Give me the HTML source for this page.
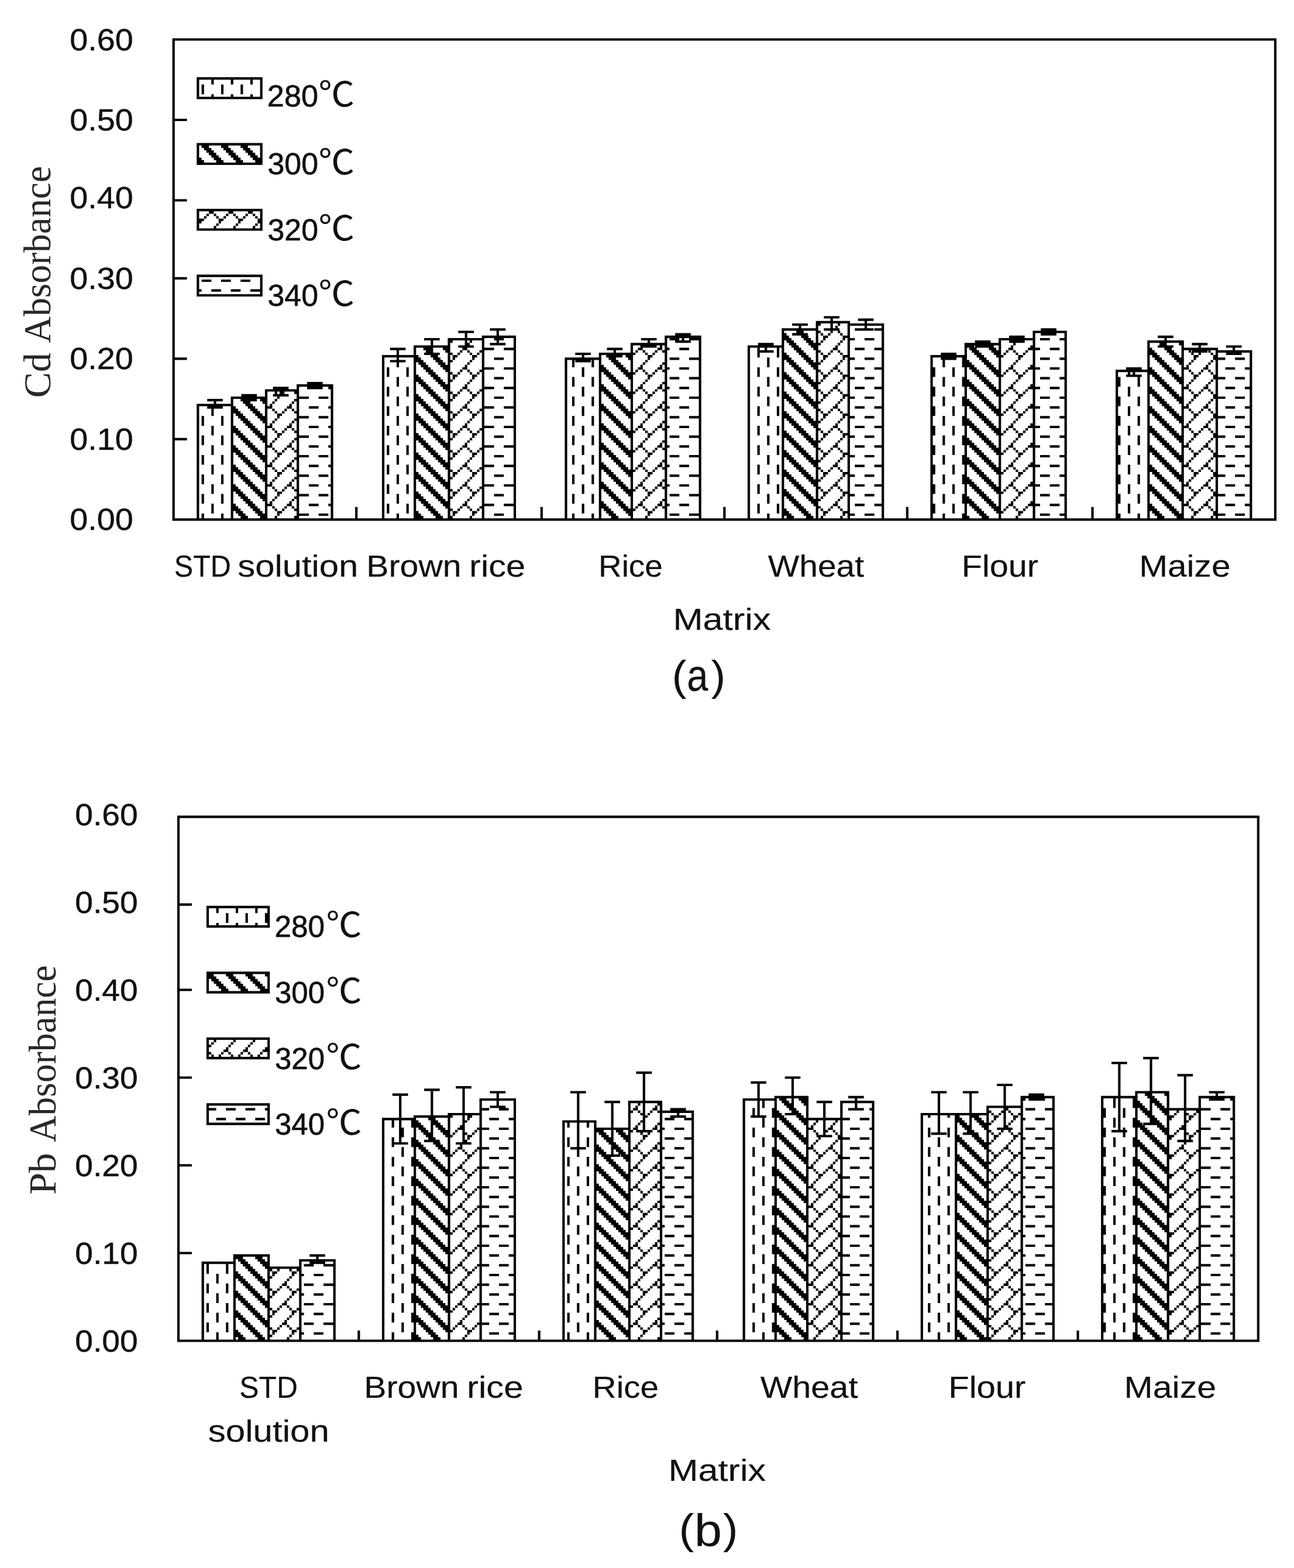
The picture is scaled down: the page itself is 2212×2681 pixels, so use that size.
<!DOCTYPE html>
<html lang="en"><head><meta charset="utf-8">
<title>Cd and Pb absorbance by matrix and pyrolysis temperature</title>
<style>html,body{margin:0;padding:0;background:#fff}body{width:2212px;height:2681px;overflow:hidden}svg{display:block}.ink{fill:#000;fill-rule:nonzero}text{white-space:pre}</style>
</head><body>
<svg width="2212" height="2681" viewBox="0 0 2212 2681">
<rect width="2212" height="2681" fill="#fff"/>
<g id="chart-a">
<path class="ink" d="M294.58 65.42h1887.5v4.17h-1887.5zM294.58 886.25h1887.5v4.17h-1887.5zM294.58 65.42h4.17v825h-4.17zM2177.92 65.42h4.17v825h-4.17zM294.58 202.92h25v4.17h-25zM294.58 340.42h25v4.17h-25zM294.58 473.75h25v4.17h-25zM294.58 611.25h25v4.17h-25zM294.58 748.75h25v4.17h-25zM607.08 866.67h4.17v19.58h-4.17zM923.75 866.67h4.17v19.58h-4.17zM1236.25 866.67h4.17v19.58h-4.17zM1548.75 866.67h4.17v19.58h-4.17zM1865.42 866.67h4.17v19.58h-4.17zM336.25 690.42h62.5v4.17h-62.5zM336.25 690.42h4.17v195.83h-4.17zM394.58 690.42h4.17v195.83h-4.17zM394.58 677.92h62.5v4.17h-62.5zM394.58 677.92h4.17v208.33h-4.17zM452.92 677.92h4.17v208.33h-4.17zM452.92 665.42h58.33v4.17h-58.33zM452.92 665.42h4.17v220.83h-4.17zM507.08 665.42h4.17v220.83h-4.17zM507.08 657.08h62.5v4.17h-62.5zM507.08 657.08h4.17v229.17h-4.17zM565.42 657.08h4.17v229.17h-4.17zM365.42 682.08h4.17v16.67h-4.17zM354.17 682.08h26.67v4.17h-26.67zM354.17 694.58h26.67v4.17h-26.67zM423.75 673.75h4.17v12.5h-4.17zM412.5 673.75h26.67v4.17h-26.67zM412.5 682.08h26.67v4.17h-26.67zM477.92 661.25h4.17v16.67h-4.17zM466.67 661.25h26.67v4.17h-26.67zM466.67 673.75h26.67v4.17h-26.67zM536.25 652.92h4.17v12.5h-4.17zM525 652.92h26.67v4.17h-26.67zM525 661.25h26.67v4.17h-26.67zM652.92 607.08h58.33v4.17h-58.33zM652.92 607.08h4.17v279.17h-4.17zM707.08 607.08h4.17v279.17h-4.17zM707.08 590.42h62.5v4.17h-62.5zM707.08 590.42h4.17v295.83h-4.17zM765.42 590.42h4.17v295.83h-4.17zM765.42 577.92h62.5v4.17h-62.5zM765.42 577.92h4.17v308.33h-4.17zM823.75 577.92h4.17v308.33h-4.17zM823.75 573.75h58.33v4.17h-58.33zM823.75 573.75h4.17v312.5h-4.17zM877.92 573.75h4.17v312.5h-4.17zM677.92 594.58h4.17v25h-4.17zM666.67 594.58h26.67v4.17h-26.67zM666.67 615.42h26.67v4.17h-26.67zM736.25 577.92h4.17v29.17h-4.17zM725 577.92h26.67v4.17h-26.67zM725 602.92h26.67v4.17h-26.67zM794.58 565.42h4.17v29.17h-4.17zM783.33 565.42h26.67v4.17h-26.67zM783.33 590.42h26.67v4.17h-26.67zM848.75 561.25h4.17v29.17h-4.17zM837.5 561.25h26.67v4.17h-26.67zM837.5 586.25h26.67v4.17h-26.67zM965.42 611.25h62.5v4.17h-62.5zM965.42 611.25h4.17v275h-4.17zM1023.75 611.25h4.17v275h-4.17zM1023.75 602.92h58.33v4.17h-58.33zM1023.75 602.92h4.17v283.33h-4.17zM1077.92 602.92h4.17v283.33h-4.17zM1077.92 586.25h62.5v4.17h-62.5zM1077.92 586.25h4.17v300h-4.17zM1136.25 586.25h4.17v300h-4.17zM1136.25 573.75h62.5v4.17h-62.5zM1136.25 573.75h4.17v312.5h-4.17zM1194.58 573.75h4.17v312.5h-4.17zM994.58 602.92h4.17v16.67h-4.17zM983.33 602.92h26.67v4.17h-26.67zM983.33 615.42h26.67v4.17h-26.67zM1048.75 594.58h4.17v16.67h-4.17zM1037.5 594.58h26.67v4.17h-26.67zM1037.5 607.08h26.67v4.17h-26.67zM1107.08 577.92h4.17v16.67h-4.17zM1095.83 577.92h26.67v4.17h-26.67zM1095.83 590.42h26.67v4.17h-26.67zM1165.42 569.58h4.17v16.67h-4.17zM1154.17 569.58h26.67v4.17h-26.67zM1154.17 582.08h26.67v4.17h-26.67zM1277.92 590.42h62.5v4.17h-62.5zM1277.92 590.42h4.17v295.83h-4.17zM1336.25 590.42h4.17v295.83h-4.17zM1336.25 561.25h62.5v4.17h-62.5zM1336.25 561.25h4.17v325h-4.17zM1394.58 561.25h4.17v325h-4.17zM1394.58 548.75h58.33v4.17h-58.33zM1394.58 548.75h4.17v337.5h-4.17zM1448.75 548.75h4.17v337.5h-4.17zM1448.75 552.92h62.5v4.17h-62.5zM1448.75 552.92h4.17v333.33h-4.17zM1507.08 552.92h4.17v333.33h-4.17zM1307.08 586.25h4.17v16.67h-4.17zM1295.83 586.25h26.67v4.17h-26.67zM1295.83 598.75h26.67v4.17h-26.67zM1365.42 552.92h4.17v20.83h-4.17zM1354.17 552.92h26.67v4.17h-26.67zM1354.17 569.58h26.67v4.17h-26.67zM1419.58 540.42h4.17v25h-4.17zM1408.33 540.42h26.67v4.17h-26.67zM1408.33 561.25h26.67v4.17h-26.67zM1477.92 544.58h4.17v20.83h-4.17zM1466.67 544.58h26.67v4.17h-26.67zM1466.67 561.25h26.67v4.17h-26.67zM1590.42 607.08h62.5v4.17h-62.5zM1590.42 607.08h4.17v279.17h-4.17zM1648.75 607.08h4.17v279.17h-4.17zM1648.75 586.25h62.5v4.17h-62.5zM1648.75 586.25h4.17v300h-4.17zM1707.08 586.25h4.17v300h-4.17zM1707.08 577.92h62.5v4.17h-62.5zM1707.08 577.92h4.17v308.33h-4.17zM1765.42 577.92h4.17v308.33h-4.17zM1765.42 565.42h58.33v4.17h-58.33zM1765.42 565.42h4.17v320.83h-4.17zM1819.58 565.42h4.17v320.83h-4.17zM1619.58 602.92h4.17v12.5h-4.17zM1608.33 602.92h26.67v4.17h-26.67zM1608.33 611.25h26.67v4.17h-26.67zM1677.92 582.08h4.17v12.5h-4.17zM1666.67 582.08h26.67v4.17h-26.67zM1666.67 590.42h26.67v4.17h-26.67zM1736.25 573.75h4.17v12.5h-4.17zM1725 573.75h26.67v4.17h-26.67zM1725 582.08h26.67v4.17h-26.67zM1790.42 561.25h4.17v12.5h-4.17zM1779.17 561.25h26.67v4.17h-26.67zM1779.17 569.58h26.67v4.17h-26.67zM1907.08 632.08h58.33v4.17h-58.33zM1907.08 632.08h4.17v254.17h-4.17zM1961.25 632.08h4.17v254.17h-4.17zM1961.25 582.08h62.5v4.17h-62.5zM1961.25 582.08h4.17v304.17h-4.17zM2019.58 582.08h4.17v304.17h-4.17zM2019.58 594.58h62.5v4.17h-62.5zM2019.58 594.58h4.17v291.67h-4.17zM2077.92 594.58h4.17v291.67h-4.17zM2077.92 598.75h62.5v4.17h-62.5zM2077.92 598.75h4.17v287.5h-4.17zM2136.25 598.75h4.17v287.5h-4.17zM1936.25 627.92h4.17v16.67h-4.17zM1925 627.92h26.67v4.17h-26.67zM1925 640.42h26.67v4.17h-26.67zM1990.42 573.75h4.17v20.83h-4.17zM1979.17 573.75h26.67v4.17h-26.67zM1979.17 590.42h26.67v4.17h-26.67zM2048.75 586.25h4.17v16.67h-4.17zM2037.5 586.25h26.67v4.17h-26.67zM2037.5 598.75h26.67v4.17h-26.67zM2107.08 590.42h4.17v16.67h-4.17zM2095.83 590.42h26.67v4.17h-26.67zM2095.83 602.92h26.67v4.17h-26.67zM336.25 132.08h112.5v4.17h-112.5zM336.25 165.42h112.5v4.17h-112.5zM336.25 132.08h4.17v37.5h-4.17zM444.58 132.08h4.17v37.5h-4.17zM336.25 244.58h112.5v4.17h-112.5zM336.25 277.92h112.5v4.17h-112.5zM336.25 244.58h4.17v37.5h-4.17zM444.58 244.58h4.17v37.5h-4.17zM336.25 357.08h112.5v4.17h-112.5zM336.25 390.42h112.5v4.17h-112.5zM336.25 357.08h4.17v37.5h-4.17zM444.58 357.08h4.17v37.5h-4.17zM336.25 469.58h112.5v4.17h-112.5zM336.25 502.92h112.5v4.17h-112.5zM336.25 469.58h4.17v37.5h-4.17zM444.58 469.58h4.17v37.5h-4.17zM344.58 711.25h4.17v16.67h-4.17zM344.58 744.58h4.17v16.67h-4.17zM344.58 777.92h4.17v16.67h-4.17zM344.58 811.25h4.17v16.67h-4.17zM344.58 844.58h4.17v16.67h-4.17zM344.58 877.92h4.17v8.33h-4.17zM361.25 694.58h4.17v16.67h-4.17zM361.25 727.92h4.17v16.67h-4.17zM361.25 761.25h4.17v16.67h-4.17zM361.25 794.58h4.17v16.67h-4.17zM361.25 827.92h4.17v16.67h-4.17zM361.25 861.25h4.17v16.67h-4.17zM377.92 711.25h4.17v16.67h-4.17zM377.92 744.58h4.17v16.67h-4.17zM377.92 777.92h4.17v16.67h-4.17zM377.92 811.25h4.17v16.67h-4.17zM377.92 844.58h4.17v16.67h-4.17zM377.92 877.92h4.17v8.33h-4.17zM411.25 682.08h12.5v4.17h-12.5zM444.58 682.08h8.33v4.17h-8.33zM415.42 686.25h12.5v4.17h-12.5zM448.75 686.25h4.17v4.17h-4.17zM419.58 690.42h12.5v4.17h-12.5zM398.75 694.58h4.17v4.17h-4.17zM423.75 694.58h12.5v4.17h-12.5zM398.75 698.75h8.33v4.17h-8.33zM427.92 698.75h12.5v4.17h-12.5zM398.75 702.92h12.5v4.17h-12.5zM432.08 702.92h12.5v4.17h-12.5zM402.92 707.08h12.5v4.17h-12.5zM436.25 707.08h12.5v4.17h-12.5zM407.08 711.25h12.5v4.17h-12.5zM440.42 711.25h12.5v4.17h-12.5zM411.25 715.42h12.5v4.17h-12.5zM444.58 715.42h8.33v4.17h-8.33zM415.42 719.58h12.5v4.17h-12.5zM448.75 719.58h4.17v4.17h-4.17zM419.58 723.75h12.5v4.17h-12.5zM398.75 727.92h4.17v4.17h-4.17zM423.75 727.92h12.5v4.17h-12.5zM398.75 732.08h8.33v4.17h-8.33zM427.92 732.08h12.5v4.17h-12.5zM398.75 736.25h12.5v4.17h-12.5zM432.08 736.25h12.5v4.17h-12.5zM402.92 740.42h12.5v4.17h-12.5zM436.25 740.42h12.5v4.17h-12.5zM407.08 744.58h12.5v4.17h-12.5zM440.42 744.58h12.5v4.17h-12.5zM411.25 748.75h12.5v4.17h-12.5zM444.58 748.75h8.33v4.17h-8.33zM415.42 752.92h12.5v4.17h-12.5zM448.75 752.92h4.17v4.17h-4.17zM419.58 757.08h12.5v4.17h-12.5zM398.75 761.25h4.17v4.17h-4.17zM423.75 761.25h12.5v4.17h-12.5zM398.75 765.42h8.33v4.17h-8.33zM427.92 765.42h12.5v4.17h-12.5zM398.75 769.58h12.5v4.17h-12.5zM432.08 769.58h12.5v4.17h-12.5zM402.92 773.75h12.5v4.17h-12.5zM436.25 773.75h12.5v4.17h-12.5zM407.08 777.92h12.5v4.17h-12.5zM440.42 777.92h12.5v4.17h-12.5zM411.25 782.08h12.5v4.17h-12.5zM444.58 782.08h8.33v4.17h-8.33zM415.42 786.25h12.5v4.17h-12.5zM448.75 786.25h4.17v4.17h-4.17zM419.58 790.42h12.5v4.17h-12.5zM398.75 794.58h4.17v4.17h-4.17zM423.75 794.58h12.5v4.17h-12.5zM398.75 798.75h8.33v4.17h-8.33zM427.92 798.75h12.5v4.17h-12.5zM398.75 802.92h12.5v4.17h-12.5zM432.08 802.92h12.5v4.17h-12.5zM402.92 807.08h12.5v4.17h-12.5zM436.25 807.08h12.5v4.17h-12.5zM407.08 811.25h12.5v4.17h-12.5zM440.42 811.25h12.5v4.17h-12.5zM411.25 815.42h12.5v4.17h-12.5zM444.58 815.42h8.33v4.17h-8.33zM415.42 819.58h12.5v4.17h-12.5zM448.75 819.58h4.17v4.17h-4.17zM419.58 823.75h12.5v4.17h-12.5zM398.75 827.92h4.17v4.17h-4.17zM423.75 827.92h12.5v4.17h-12.5zM398.75 832.08h8.33v4.17h-8.33zM427.92 832.08h12.5v4.17h-12.5zM398.75 836.25h12.5v4.17h-12.5zM432.08 836.25h12.5v4.17h-12.5zM402.92 840.42h12.5v4.17h-12.5zM436.25 840.42h12.5v4.17h-12.5zM407.08 844.58h12.5v4.17h-12.5zM440.42 844.58h12.5v4.17h-12.5zM411.25 848.75h12.5v4.17h-12.5zM444.58 848.75h8.33v4.17h-8.33zM415.42 852.92h12.5v4.17h-12.5zM448.75 852.92h4.17v4.17h-4.17zM419.58 857.08h12.5v4.17h-12.5zM398.75 861.25h4.17v4.17h-4.17zM423.75 861.25h12.5v4.17h-12.5zM398.75 865.42h8.33v4.17h-8.33zM427.92 865.42h12.5v4.17h-12.5zM398.75 869.58h12.5v4.17h-12.5zM432.08 869.58h12.5v4.17h-12.5zM402.92 873.75h12.5v4.17h-12.5zM436.25 873.75h12.5v4.17h-12.5zM407.08 877.92h12.5v4.17h-12.5zM440.42 877.92h12.5v4.17h-12.5zM411.25 882.08h12.5v4.17h-12.5zM444.58 882.08h8.33v4.17h-8.33zM469.58 669.58h4.17v4.17h-4.17zM482.08 669.58h4.17v4.17h-4.17zM502.92 669.58h4.17v4.17h-4.17zM473.75 673.75h8.33v4.17h-8.33zM473.75 677.92h4.17v4.17h-4.17zM469.58 682.08h4.17v4.17h-4.17zM502.92 682.08h4.17v4.17h-4.17zM465.42 686.25h4.17v4.17h-4.17zM498.75 686.25h4.17v4.17h-4.17zM461.25 690.42h4.17v4.17h-4.17zM494.58 690.42h4.17v4.17h-4.17zM457.08 694.58h8.33v4.17h-8.33zM490.42 694.58h8.33v4.17h-8.33zM465.42 698.75h4.17v4.17h-4.17zM486.25 698.75h4.17v4.17h-4.17zM498.75 698.75h4.17v4.17h-4.17zM469.58 702.92h4.17v4.17h-4.17zM482.08 702.92h4.17v4.17h-4.17zM502.92 702.92h4.17v4.17h-4.17zM473.75 707.08h8.33v4.17h-8.33zM473.75 711.25h4.17v4.17h-4.17zM469.58 715.42h4.17v4.17h-4.17zM502.92 715.42h4.17v4.17h-4.17zM465.42 719.58h4.17v4.17h-4.17zM498.75 719.58h4.17v4.17h-4.17zM461.25 723.75h4.17v4.17h-4.17zM494.58 723.75h4.17v4.17h-4.17zM457.08 727.92h8.33v4.17h-8.33zM490.42 727.92h8.33v4.17h-8.33zM465.42 732.08h4.17v4.17h-4.17zM486.25 732.08h4.17v4.17h-4.17zM498.75 732.08h4.17v4.17h-4.17zM469.58 736.25h4.17v4.17h-4.17zM482.08 736.25h4.17v4.17h-4.17zM502.92 736.25h4.17v4.17h-4.17zM473.75 740.42h8.33v4.17h-8.33zM473.75 744.58h4.17v4.17h-4.17zM469.58 748.75h4.17v4.17h-4.17zM502.92 748.75h4.17v4.17h-4.17zM465.42 752.92h4.17v4.17h-4.17zM498.75 752.92h4.17v4.17h-4.17zM461.25 757.08h4.17v4.17h-4.17zM494.58 757.08h4.17v4.17h-4.17zM457.08 761.25h8.33v4.17h-8.33zM490.42 761.25h8.33v4.17h-8.33zM465.42 765.42h4.17v4.17h-4.17zM486.25 765.42h4.17v4.17h-4.17zM498.75 765.42h4.17v4.17h-4.17zM469.58 769.58h4.17v4.17h-4.17zM482.08 769.58h4.17v4.17h-4.17zM502.92 769.58h4.17v4.17h-4.17zM473.75 773.75h8.33v4.17h-8.33zM473.75 777.92h4.17v4.17h-4.17zM469.58 782.08h4.17v4.17h-4.17zM502.92 782.08h4.17v4.17h-4.17zM465.42 786.25h4.17v4.17h-4.17zM498.75 786.25h4.17v4.17h-4.17zM461.25 790.42h4.17v4.17h-4.17zM494.58 790.42h4.17v4.17h-4.17zM457.08 794.58h8.33v4.17h-8.33zM490.42 794.58h8.33v4.17h-8.33zM465.42 798.75h4.17v4.17h-4.17zM486.25 798.75h4.17v4.17h-4.17zM498.75 798.75h4.17v4.17h-4.17zM469.58 802.92h4.17v4.17h-4.17zM482.08 802.92h4.17v4.17h-4.17zM502.92 802.92h4.17v4.17h-4.17zM473.75 807.08h8.33v4.17h-8.33zM473.75 811.25h4.17v4.17h-4.17zM469.58 815.42h4.17v4.17h-4.17zM502.92 815.42h4.17v4.17h-4.17zM465.42 819.58h4.17v4.17h-4.17zM498.75 819.58h4.17v4.17h-4.17zM461.25 823.75h4.17v4.17h-4.17zM494.58 823.75h4.17v4.17h-4.17zM457.08 827.92h8.33v4.17h-8.33zM490.42 827.92h8.33v4.17h-8.33zM465.42 832.08h4.17v4.17h-4.17zM486.25 832.08h4.17v4.17h-4.17zM498.75 832.08h4.17v4.17h-4.17zM469.58 836.25h4.17v4.17h-4.17zM482.08 836.25h4.17v4.17h-4.17zM502.92 836.25h4.17v4.17h-4.17zM473.75 840.42h8.33v4.17h-8.33zM473.75 844.58h4.17v4.17h-4.17zM469.58 848.75h4.17v4.17h-4.17zM502.92 848.75h4.17v4.17h-4.17zM465.42 852.92h4.17v4.17h-4.17zM498.75 852.92h4.17v4.17h-4.17zM461.25 857.08h4.17v4.17h-4.17zM494.58 857.08h4.17v4.17h-4.17zM457.08 861.25h8.33v4.17h-8.33zM490.42 861.25h8.33v4.17h-8.33zM465.42 865.42h4.17v4.17h-4.17zM486.25 865.42h4.17v4.17h-4.17zM498.75 865.42h4.17v4.17h-4.17zM469.58 869.58h4.17v4.17h-4.17zM482.08 869.58h4.17v4.17h-4.17zM502.92 869.58h4.17v4.17h-4.17zM473.75 873.75h8.33v4.17h-8.33zM473.75 877.92h4.17v4.17h-4.17zM469.58 882.08h4.17v4.17h-4.17zM502.92 882.08h4.17v4.17h-4.17zM527.92 661.25h16.67v4.17h-16.67zM561.25 661.25h4.17v4.17h-4.17zM511.25 677.92h16.67v4.17h-16.67zM544.58 677.92h16.67v4.17h-16.67zM527.92 694.58h16.67v4.17h-16.67zM561.25 694.58h4.17v4.17h-4.17zM511.25 711.25h16.67v4.17h-16.67zM544.58 711.25h16.67v4.17h-16.67zM527.92 727.92h16.67v4.17h-16.67zM561.25 727.92h4.17v4.17h-4.17zM511.25 744.58h16.67v4.17h-16.67zM544.58 744.58h16.67v4.17h-16.67zM527.92 761.25h16.67v4.17h-16.67zM561.25 761.25h4.17v4.17h-4.17zM511.25 777.92h16.67v4.17h-16.67zM544.58 777.92h16.67v4.17h-16.67zM527.92 794.58h16.67v4.17h-16.67zM561.25 794.58h4.17v4.17h-4.17zM511.25 811.25h16.67v4.17h-16.67zM544.58 811.25h16.67v4.17h-16.67zM527.92 827.92h16.67v4.17h-16.67zM561.25 827.92h4.17v4.17h-4.17zM511.25 844.58h16.67v4.17h-16.67zM544.58 844.58h16.67v4.17h-16.67zM527.92 861.25h16.67v4.17h-16.67zM561.25 861.25h4.17v4.17h-4.17zM511.25 877.92h16.67v4.17h-16.67zM544.58 877.92h16.67v4.17h-16.67zM661.25 627.92h4.17v16.67h-4.17zM661.25 661.25h4.17v16.67h-4.17zM661.25 694.58h4.17v16.67h-4.17zM661.25 727.92h4.17v16.67h-4.17zM661.25 761.25h4.17v16.67h-4.17zM661.25 794.58h4.17v16.67h-4.17zM661.25 827.92h4.17v16.67h-4.17zM661.25 861.25h4.17v16.67h-4.17zM677.92 611.25h4.17v16.67h-4.17zM677.92 644.58h4.17v16.67h-4.17zM677.92 677.92h4.17v16.67h-4.17zM677.92 711.25h4.17v16.67h-4.17zM677.92 744.58h4.17v16.67h-4.17zM677.92 777.92h4.17v16.67h-4.17zM677.92 811.25h4.17v16.67h-4.17zM677.92 844.58h4.17v16.67h-4.17zM677.92 877.92h4.17v8.33h-4.17zM694.58 627.92h4.17v16.67h-4.17zM694.58 661.25h4.17v16.67h-4.17zM694.58 694.58h4.17v16.67h-4.17zM694.58 727.92h4.17v16.67h-4.17zM694.58 761.25h4.17v16.67h-4.17zM694.58 794.58h4.17v16.67h-4.17zM694.58 827.92h4.17v16.67h-4.17zM694.58 861.25h4.17v16.67h-4.17zM723.75 594.58h12.5v4.17h-12.5zM757.08 594.58h8.33v4.17h-8.33zM727.92 598.75h12.5v4.17h-12.5zM761.25 598.75h4.17v4.17h-4.17zM732.08 602.92h12.5v4.17h-12.5zM711.25 607.08h4.17v4.17h-4.17zM736.25 607.08h12.5v4.17h-12.5zM711.25 611.25h8.33v4.17h-8.33zM740.42 611.25h12.5v4.17h-12.5zM711.25 615.42h12.5v4.17h-12.5zM744.58 615.42h12.5v4.17h-12.5zM715.42 619.58h12.5v4.17h-12.5zM748.75 619.58h12.5v4.17h-12.5zM719.58 623.75h12.5v4.17h-12.5zM752.92 623.75h12.5v4.17h-12.5zM723.75 627.92h12.5v4.17h-12.5zM757.08 627.92h8.33v4.17h-8.33zM727.92 632.08h12.5v4.17h-12.5zM761.25 632.08h4.17v4.17h-4.17zM732.08 636.25h12.5v4.17h-12.5zM711.25 640.42h4.17v4.17h-4.17zM736.25 640.42h12.5v4.17h-12.5zM711.25 644.58h8.33v4.17h-8.33zM740.42 644.58h12.5v4.17h-12.5zM711.25 648.75h12.5v4.17h-12.5zM744.58 648.75h12.5v4.17h-12.5zM715.42 652.92h12.5v4.17h-12.5zM748.75 652.92h12.5v4.17h-12.5zM719.58 657.08h12.5v4.17h-12.5zM752.92 657.08h12.5v4.17h-12.5zM723.75 661.25h12.5v4.17h-12.5zM757.08 661.25h8.33v4.17h-8.33zM727.92 665.42h12.5v4.17h-12.5zM761.25 665.42h4.17v4.17h-4.17zM732.08 669.58h12.5v4.17h-12.5zM711.25 673.75h4.17v4.17h-4.17zM736.25 673.75h12.5v4.17h-12.5zM711.25 677.92h8.33v4.17h-8.33zM740.42 677.92h12.5v4.17h-12.5zM711.25 682.08h12.5v4.17h-12.5zM744.58 682.08h12.5v4.17h-12.5zM715.42 686.25h12.5v4.17h-12.5zM748.75 686.25h12.5v4.17h-12.5zM719.58 690.42h12.5v4.17h-12.5zM752.92 690.42h12.5v4.17h-12.5zM723.75 694.58h12.5v4.17h-12.5zM757.08 694.58h8.33v4.17h-8.33zM727.92 698.75h12.5v4.17h-12.5zM761.25 698.75h4.17v4.17h-4.17zM732.08 702.92h12.5v4.17h-12.5zM711.25 707.08h4.17v4.17h-4.17zM736.25 707.08h12.5v4.17h-12.5zM711.25 711.25h8.33v4.17h-8.33zM740.42 711.25h12.5v4.17h-12.5zM711.25 715.42h12.5v4.17h-12.5zM744.58 715.42h12.5v4.17h-12.5zM715.42 719.58h12.5v4.17h-12.5zM748.75 719.58h12.5v4.17h-12.5zM719.58 723.75h12.5v4.17h-12.5zM752.92 723.75h12.5v4.17h-12.5zM723.75 727.92h12.5v4.17h-12.5zM757.08 727.92h8.33v4.17h-8.33zM727.92 732.08h12.5v4.17h-12.5zM761.25 732.08h4.17v4.17h-4.17zM732.08 736.25h12.5v4.17h-12.5zM711.25 740.42h4.17v4.17h-4.17zM736.25 740.42h12.5v4.17h-12.5zM711.25 744.58h8.33v4.17h-8.33zM740.42 744.58h12.5v4.17h-12.5zM711.25 748.75h12.5v4.17h-12.5zM744.58 748.75h12.5v4.17h-12.5zM715.42 752.92h12.5v4.17h-12.5zM748.75 752.92h12.5v4.17h-12.5zM719.58 757.08h12.5v4.17h-12.5zM752.92 757.08h12.5v4.17h-12.5zM723.75 761.25h12.5v4.17h-12.5zM757.08 761.25h8.33v4.17h-8.33zM727.92 765.42h12.5v4.17h-12.5zM761.25 765.42h4.17v4.17h-4.17zM732.08 769.58h12.5v4.17h-12.5zM711.25 773.75h4.17v4.17h-4.17zM736.25 773.75h12.5v4.17h-12.5zM711.25 777.92h8.33v4.17h-8.33zM740.42 777.92h12.5v4.17h-12.5zM711.25 782.08h12.5v4.17h-12.5zM744.58 782.08h12.5v4.17h-12.5zM715.42 786.25h12.5v4.17h-12.5zM748.75 786.25h12.5v4.17h-12.5zM719.58 790.42h12.5v4.17h-12.5zM752.92 790.42h12.5v4.17h-12.5zM723.75 794.58h12.5v4.17h-12.5zM757.08 794.58h8.33v4.17h-8.33zM727.92 798.75h12.5v4.17h-12.5zM761.25 798.75h4.17v4.17h-4.17zM732.08 802.92h12.5v4.17h-12.5zM711.25 807.08h4.17v4.17h-4.17zM736.25 807.08h12.5v4.17h-12.5zM711.25 811.25h8.33v4.17h-8.33zM740.42 811.25h12.5v4.17h-12.5zM711.25 815.42h12.5v4.17h-12.5zM744.58 815.42h12.5v4.17h-12.5zM715.42 819.58h12.5v4.17h-12.5zM748.75 819.58h12.5v4.17h-12.5zM719.58 823.75h12.5v4.17h-12.5zM752.92 823.75h12.5v4.17h-12.5zM723.75 827.92h12.5v4.17h-12.5zM757.08 827.92h8.33v4.17h-8.33zM727.92 832.08h12.5v4.17h-12.5zM761.25 832.08h4.17v4.17h-4.17zM732.08 836.25h12.5v4.17h-12.5zM711.25 840.42h4.17v4.17h-4.17zM736.25 840.42h12.5v4.17h-12.5zM711.25 844.58h8.33v4.17h-8.33zM740.42 844.58h12.5v4.17h-12.5zM711.25 848.75h12.5v4.17h-12.5zM744.58 848.75h12.5v4.17h-12.5zM715.42 852.92h12.5v4.17h-12.5zM748.75 852.92h12.5v4.17h-12.5zM719.58 857.08h12.5v4.17h-12.5zM752.92 857.08h12.5v4.17h-12.5zM723.75 861.25h12.5v4.17h-12.5zM757.08 861.25h8.33v4.17h-8.33zM727.92 865.42h12.5v4.17h-12.5zM761.25 865.42h4.17v4.17h-4.17zM732.08 869.58h12.5v4.17h-12.5zM711.25 873.75h4.17v4.17h-4.17zM736.25 873.75h12.5v4.17h-12.5zM711.25 877.92h8.33v4.17h-8.33zM740.42 877.92h12.5v4.17h-12.5zM711.25 882.08h12.5v4.17h-12.5zM744.58 882.08h12.5v4.17h-12.5zM769.58 582.08h4.17v4.17h-4.17zM802.92 582.08h4.17v4.17h-4.17zM798.75 586.25h4.17v4.17h-4.17zM794.58 590.42h4.17v4.17h-4.17zM790.42 594.58h8.33v4.17h-8.33zM786.25 598.75h4.17v4.17h-4.17zM798.75 598.75h4.17v4.17h-4.17zM819.58 598.75h4.17v4.17h-4.17zM769.58 602.92h4.17v4.17h-4.17zM782.08 602.92h4.17v4.17h-4.17zM802.92 602.92h4.17v4.17h-4.17zM815.42 602.92h4.17v4.17h-4.17zM773.75 607.08h8.33v4.17h-8.33zM807.08 607.08h8.33v4.17h-8.33zM773.75 611.25h4.17v4.17h-4.17zM807.08 611.25h4.17v4.17h-4.17zM769.58 615.42h4.17v4.17h-4.17zM802.92 615.42h4.17v4.17h-4.17zM798.75 619.58h4.17v4.17h-4.17zM794.58 623.75h4.17v4.17h-4.17zM790.42 627.92h8.33v4.17h-8.33zM786.25 632.08h4.17v4.17h-4.17zM798.75 632.08h4.17v4.17h-4.17zM819.58 632.08h4.17v4.17h-4.17zM769.58 636.25h4.17v4.17h-4.17zM782.08 636.25h4.17v4.17h-4.17zM802.92 636.25h4.17v4.17h-4.17zM815.42 636.25h4.17v4.17h-4.17zM773.75 640.42h8.33v4.17h-8.33zM807.08 640.42h8.33v4.17h-8.33zM773.75 644.58h4.17v4.17h-4.17zM807.08 644.58h4.17v4.17h-4.17zM769.58 648.75h4.17v4.17h-4.17zM802.92 648.75h4.17v4.17h-4.17zM798.75 652.92h4.17v4.17h-4.17zM794.58 657.08h4.17v4.17h-4.17zM790.42 661.25h8.33v4.17h-8.33zM786.25 665.42h4.17v4.17h-4.17zM798.75 665.42h4.17v4.17h-4.17zM819.58 665.42h4.17v4.17h-4.17zM769.58 669.58h4.17v4.17h-4.17zM782.08 669.58h4.17v4.17h-4.17zM802.92 669.58h4.17v4.17h-4.17zM815.42 669.58h4.17v4.17h-4.17zM773.75 673.75h8.33v4.17h-8.33zM807.08 673.75h8.33v4.17h-8.33zM773.75 677.92h4.17v4.17h-4.17zM807.08 677.92h4.17v4.17h-4.17zM769.58 682.08h4.17v4.17h-4.17zM802.92 682.08h4.17v4.17h-4.17zM798.75 686.25h4.17v4.17h-4.17zM794.58 690.42h4.17v4.17h-4.17zM790.42 694.58h8.33v4.17h-8.33zM786.25 698.75h4.17v4.17h-4.17zM798.75 698.75h4.17v4.17h-4.17zM819.58 698.75h4.17v4.17h-4.17zM769.58 702.92h4.17v4.17h-4.17zM782.08 702.92h4.17v4.17h-4.17zM802.92 702.92h4.17v4.17h-4.17zM815.42 702.92h4.17v4.17h-4.17zM773.75 707.08h8.33v4.17h-8.33zM807.08 707.08h8.33v4.17h-8.33zM773.75 711.25h4.17v4.17h-4.17zM807.08 711.25h4.17v4.17h-4.17zM769.58 715.42h4.17v4.17h-4.17zM802.92 715.42h4.17v4.17h-4.17zM798.75 719.58h4.17v4.17h-4.17zM794.58 723.75h4.17v4.17h-4.17zM790.42 727.92h8.33v4.17h-8.33zM786.25 732.08h4.17v4.17h-4.17zM798.75 732.08h4.17v4.17h-4.17zM819.58 732.08h4.17v4.17h-4.17zM769.58 736.25h4.17v4.17h-4.17zM782.08 736.25h4.17v4.17h-4.17zM802.92 736.25h4.17v4.17h-4.17zM815.42 736.25h4.17v4.17h-4.17zM773.75 740.42h8.33v4.17h-8.33zM807.08 740.42h8.33v4.17h-8.33zM773.75 744.58h4.17v4.17h-4.17zM807.08 744.58h4.17v4.17h-4.17zM769.58 748.75h4.17v4.17h-4.17zM802.92 748.75h4.17v4.17h-4.17zM798.75 752.92h4.17v4.17h-4.17zM794.58 757.08h4.17v4.17h-4.17zM790.42 761.25h8.33v4.17h-8.33zM786.25 765.42h4.17v4.17h-4.17zM798.75 765.42h4.17v4.17h-4.17zM819.58 765.42h4.17v4.17h-4.17zM769.58 769.58h4.17v4.17h-4.17zM782.08 769.58h4.17v4.17h-4.17zM802.92 769.58h4.17v4.17h-4.17zM815.42 769.58h4.17v4.17h-4.17zM773.75 773.75h8.33v4.17h-8.33zM807.08 773.75h8.33v4.17h-8.33zM773.75 777.92h4.17v4.17h-4.17zM807.08 777.92h4.17v4.17h-4.17zM769.58 782.08h4.17v4.17h-4.17zM802.92 782.08h4.17v4.17h-4.17zM798.75 786.25h4.17v4.17h-4.17zM794.58 790.42h4.17v4.17h-4.17zM790.42 794.58h8.33v4.17h-8.33zM786.25 798.75h4.17v4.17h-4.17zM798.75 798.75h4.17v4.17h-4.17zM819.58 798.75h4.17v4.17h-4.17zM769.58 802.92h4.17v4.17h-4.17zM782.08 802.92h4.17v4.17h-4.17zM802.92 802.92h4.17v4.17h-4.17zM815.42 802.92h4.17v4.17h-4.17zM773.75 807.08h8.33v4.17h-8.33zM807.08 807.08h8.33v4.17h-8.33zM773.75 811.25h4.17v4.17h-4.17zM807.08 811.25h4.17v4.17h-4.17zM769.58 815.42h4.17v4.17h-4.17zM802.92 815.42h4.17v4.17h-4.17zM798.75 819.58h4.17v4.17h-4.17zM794.58 823.75h4.17v4.17h-4.17zM790.42 827.92h8.33v4.17h-8.33zM786.25 832.08h4.17v4.17h-4.17zM798.75 832.08h4.17v4.17h-4.17zM819.58 832.08h4.17v4.17h-4.17zM769.58 836.25h4.17v4.17h-4.17zM782.08 836.25h4.17v4.17h-4.17zM802.92 836.25h4.17v4.17h-4.17zM815.42 836.25h4.17v4.17h-4.17zM773.75 840.42h8.33v4.17h-8.33zM807.08 840.42h8.33v4.17h-8.33zM773.75 844.58h4.17v4.17h-4.17zM807.08 844.58h4.17v4.17h-4.17zM769.58 848.75h4.17v4.17h-4.17zM802.92 848.75h4.17v4.17h-4.17zM798.75 852.92h4.17v4.17h-4.17zM794.58 857.08h4.17v4.17h-4.17zM790.42 861.25h8.33v4.17h-8.33zM786.25 865.42h4.17v4.17h-4.17zM798.75 865.42h4.17v4.17h-4.17zM819.58 865.42h4.17v4.17h-4.17zM769.58 869.58h4.17v4.17h-4.17zM782.08 869.58h4.17v4.17h-4.17zM802.92 869.58h4.17v4.17h-4.17zM815.42 869.58h4.17v4.17h-4.17zM773.75 873.75h8.33v4.17h-8.33zM807.08 873.75h8.33v4.17h-8.33zM773.75 877.92h4.17v4.17h-4.17zM807.08 877.92h4.17v4.17h-4.17zM769.58 882.08h4.17v4.17h-4.17zM802.92 882.08h4.17v4.17h-4.17zM844.58 577.92h16.67v4.17h-16.67zM827.92 594.58h16.67v4.17h-16.67zM861.25 594.58h16.67v4.17h-16.67zM844.58 611.25h16.67v4.17h-16.67zM827.92 627.92h16.67v4.17h-16.67zM861.25 627.92h16.67v4.17h-16.67zM844.58 644.58h16.67v4.17h-16.67zM827.92 661.25h16.67v4.17h-16.67zM861.25 661.25h16.67v4.17h-16.67zM844.58 677.92h16.67v4.17h-16.67zM827.92 694.58h16.67v4.17h-16.67zM861.25 694.58h16.67v4.17h-16.67zM844.58 711.25h16.67v4.17h-16.67zM827.92 727.92h16.67v4.17h-16.67zM861.25 727.92h16.67v4.17h-16.67zM844.58 744.58h16.67v4.17h-16.67zM827.92 761.25h16.67v4.17h-16.67zM861.25 761.25h16.67v4.17h-16.67zM844.58 777.92h16.67v4.17h-16.67zM827.92 794.58h16.67v4.17h-16.67zM861.25 794.58h16.67v4.17h-16.67zM844.58 811.25h16.67v4.17h-16.67zM827.92 827.92h16.67v4.17h-16.67zM861.25 827.92h16.67v4.17h-16.67zM844.58 844.58h16.67v4.17h-16.67zM827.92 861.25h16.67v4.17h-16.67zM861.25 861.25h16.67v4.17h-16.67zM844.58 877.92h16.67v4.17h-16.67zM977.92 615.42h4.17v12.5h-4.17zM977.92 644.58h4.17v16.67h-4.17zM977.92 677.92h4.17v16.67h-4.17zM977.92 711.25h4.17v16.67h-4.17zM977.92 744.58h4.17v16.67h-4.17zM977.92 777.92h4.17v16.67h-4.17zM977.92 811.25h4.17v16.67h-4.17zM977.92 844.58h4.17v16.67h-4.17zM977.92 877.92h4.17v8.33h-4.17zM994.58 627.92h4.17v16.67h-4.17zM994.58 661.25h4.17v16.67h-4.17zM994.58 694.58h4.17v16.67h-4.17zM994.58 727.92h4.17v16.67h-4.17zM994.58 761.25h4.17v16.67h-4.17zM994.58 794.58h4.17v16.67h-4.17zM994.58 827.92h4.17v16.67h-4.17zM994.58 861.25h4.17v16.67h-4.17zM1011.25 615.42h4.17v12.5h-4.17zM1011.25 644.58h4.17v16.67h-4.17zM1011.25 677.92h4.17v16.67h-4.17zM1011.25 711.25h4.17v16.67h-4.17zM1011.25 744.58h4.17v16.67h-4.17zM1011.25 777.92h4.17v16.67h-4.17zM1011.25 811.25h4.17v16.67h-4.17zM1011.25 844.58h4.17v16.67h-4.17zM1011.25 877.92h4.17v8.33h-4.17zM1036.25 607.08h12.5v4.17h-12.5zM1069.58 607.08h8.33v4.17h-8.33zM1040.42 611.25h12.5v4.17h-12.5zM1073.75 611.25h4.17v4.17h-4.17zM1044.58 615.42h12.5v4.17h-12.5zM1048.75 619.58h12.5v4.17h-12.5zM1027.92 623.75h4.17v4.17h-4.17zM1052.92 623.75h12.5v4.17h-12.5zM1027.92 627.92h8.33v4.17h-8.33zM1057.08 627.92h12.5v4.17h-12.5zM1027.92 632.08h12.5v4.17h-12.5zM1061.25 632.08h12.5v4.17h-12.5zM1032.08 636.25h12.5v4.17h-12.5zM1065.42 636.25h12.5v4.17h-12.5zM1036.25 640.42h12.5v4.17h-12.5zM1069.58 640.42h8.33v4.17h-8.33zM1040.42 644.58h12.5v4.17h-12.5zM1073.75 644.58h4.17v4.17h-4.17zM1044.58 648.75h12.5v4.17h-12.5zM1048.75 652.92h12.5v4.17h-12.5zM1027.92 657.08h4.17v4.17h-4.17zM1052.92 657.08h12.5v4.17h-12.5zM1027.92 661.25h8.33v4.17h-8.33zM1057.08 661.25h12.5v4.17h-12.5zM1027.92 665.42h12.5v4.17h-12.5zM1061.25 665.42h12.5v4.17h-12.5zM1032.08 669.58h12.5v4.17h-12.5zM1065.42 669.58h12.5v4.17h-12.5zM1036.25 673.75h12.5v4.17h-12.5zM1069.58 673.75h8.33v4.17h-8.33zM1040.42 677.92h12.5v4.17h-12.5zM1073.75 677.92h4.17v4.17h-4.17zM1044.58 682.08h12.5v4.17h-12.5zM1048.75 686.25h12.5v4.17h-12.5zM1027.92 690.42h4.17v4.17h-4.17zM1052.92 690.42h12.5v4.17h-12.5zM1027.92 694.58h8.33v4.17h-8.33zM1057.08 694.58h12.5v4.17h-12.5zM1027.92 698.75h12.5v4.17h-12.5zM1061.25 698.75h12.5v4.17h-12.5zM1032.08 702.92h12.5v4.17h-12.5zM1065.42 702.92h12.5v4.17h-12.5zM1036.25 707.08h12.5v4.17h-12.5zM1069.58 707.08h8.33v4.17h-8.33zM1040.42 711.25h12.5v4.17h-12.5zM1073.75 711.25h4.17v4.17h-4.17zM1044.58 715.42h12.5v4.17h-12.5zM1048.75 719.58h12.5v4.17h-12.5zM1027.92 723.75h4.17v4.17h-4.17zM1052.92 723.75h12.5v4.17h-12.5zM1027.92 727.92h8.33v4.17h-8.33zM1057.08 727.92h12.5v4.17h-12.5zM1027.92 732.08h12.5v4.17h-12.5zM1061.25 732.08h12.5v4.17h-12.5zM1032.08 736.25h12.5v4.17h-12.5zM1065.42 736.25h12.5v4.17h-12.5zM1036.25 740.42h12.5v4.17h-12.5zM1069.58 740.42h8.33v4.17h-8.33zM1040.42 744.58h12.5v4.17h-12.5zM1073.75 744.58h4.17v4.17h-4.17zM1044.58 748.75h12.5v4.17h-12.5zM1048.75 752.92h12.5v4.17h-12.5zM1027.92 757.08h4.17v4.17h-4.17zM1052.92 757.08h12.5v4.17h-12.5zM1027.92 761.25h8.33v4.17h-8.33zM1057.08 761.25h12.5v4.17h-12.5zM1027.92 765.42h12.5v4.17h-12.5zM1061.25 765.42h12.5v4.17h-12.5zM1032.08 769.58h12.5v4.17h-12.5zM1065.42 769.58h12.5v4.17h-12.5zM1036.25 773.75h12.5v4.17h-12.5zM1069.58 773.75h8.33v4.17h-8.33zM1040.42 777.92h12.5v4.17h-12.5zM1073.75 777.92h4.17v4.17h-4.17zM1044.58 782.08h12.5v4.17h-12.5zM1048.75 786.25h12.5v4.17h-12.5zM1027.92 790.42h4.17v4.17h-4.17zM1052.92 790.42h12.5v4.17h-12.5zM1027.92 794.58h8.33v4.17h-8.33zM1057.08 794.58h12.5v4.17h-12.5zM1027.92 798.75h12.5v4.17h-12.5zM1061.25 798.75h12.5v4.17h-12.5zM1032.08 802.92h12.5v4.17h-12.5zM1065.42 802.92h12.5v4.17h-12.5zM1036.25 807.08h12.5v4.17h-12.5zM1069.58 807.08h8.33v4.17h-8.33zM1040.42 811.25h12.5v4.17h-12.5zM1073.75 811.25h4.17v4.17h-4.17zM1044.58 815.42h12.5v4.17h-12.5zM1048.75 819.58h12.5v4.17h-12.5zM1027.92 823.75h4.17v4.17h-4.17zM1052.92 823.75h12.5v4.17h-12.5zM1027.92 827.92h8.33v4.17h-8.33zM1057.08 827.92h12.5v4.17h-12.5zM1027.92 832.08h12.5v4.17h-12.5zM1061.25 832.08h12.5v4.17h-12.5zM1032.08 836.25h12.5v4.17h-12.5zM1065.42 836.25h12.5v4.17h-12.5zM1036.25 840.42h12.5v4.17h-12.5zM1069.58 840.42h8.33v4.17h-8.33zM1040.42 844.58h12.5v4.17h-12.5zM1073.75 844.58h4.17v4.17h-4.17zM1044.58 848.75h12.5v4.17h-12.5zM1048.75 852.92h12.5v4.17h-12.5zM1027.92 857.08h4.17v4.17h-4.17zM1052.92 857.08h12.5v4.17h-12.5zM1027.92 861.25h8.33v4.17h-8.33zM1057.08 861.25h12.5v4.17h-12.5zM1027.92 865.42h12.5v4.17h-12.5zM1061.25 865.42h12.5v4.17h-12.5zM1032.08 869.58h12.5v4.17h-12.5zM1065.42 869.58h12.5v4.17h-12.5zM1036.25 873.75h12.5v4.17h-12.5zM1069.58 873.75h8.33v4.17h-8.33zM1040.42 877.92h12.5v4.17h-12.5zM1073.75 877.92h4.17v4.17h-4.17zM1044.58 882.08h12.5v4.17h-12.5zM1094.58 590.42h4.17v4.17h-4.17zM1127.92 590.42h4.17v4.17h-4.17zM1090.42 594.58h8.33v4.17h-8.33zM1123.75 594.58h8.33v4.17h-8.33zM1086.25 598.75h4.17v4.17h-4.17zM1098.75 598.75h4.17v4.17h-4.17zM1119.58 598.75h4.17v4.17h-4.17zM1132.08 598.75h4.17v4.17h-4.17zM1082.08 602.92h4.17v4.17h-4.17zM1102.92 602.92h4.17v4.17h-4.17zM1115.42 602.92h4.17v4.17h-4.17zM1107.08 607.08h8.33v4.17h-8.33zM1107.08 611.25h4.17v4.17h-4.17zM1102.92 615.42h4.17v4.17h-4.17zM1098.75 619.58h4.17v4.17h-4.17zM1132.08 619.58h4.17v4.17h-4.17zM1094.58 623.75h4.17v4.17h-4.17zM1127.92 623.75h4.17v4.17h-4.17zM1090.42 627.92h8.33v4.17h-8.33zM1123.75 627.92h8.33v4.17h-8.33zM1086.25 632.08h4.17v4.17h-4.17zM1098.75 632.08h4.17v4.17h-4.17zM1119.58 632.08h4.17v4.17h-4.17zM1132.08 632.08h4.17v4.17h-4.17zM1082.08 636.25h4.17v4.17h-4.17zM1102.92 636.25h4.17v4.17h-4.17zM1115.42 636.25h4.17v4.17h-4.17zM1107.08 640.42h8.33v4.17h-8.33zM1107.08 644.58h4.17v4.17h-4.17zM1102.92 648.75h4.17v4.17h-4.17zM1098.75 652.92h4.17v4.17h-4.17zM1132.08 652.92h4.17v4.17h-4.17zM1094.58 657.08h4.17v4.17h-4.17zM1127.92 657.08h4.17v4.17h-4.17zM1090.42 661.25h8.33v4.17h-8.33zM1123.75 661.25h8.33v4.17h-8.33zM1086.25 665.42h4.17v4.17h-4.17zM1098.75 665.42h4.17v4.17h-4.17zM1119.58 665.42h4.17v4.17h-4.17zM1132.08 665.42h4.17v4.17h-4.17zM1082.08 669.58h4.17v4.17h-4.17zM1102.92 669.58h4.17v4.17h-4.17zM1115.42 669.58h4.17v4.17h-4.17zM1107.08 673.75h8.33v4.17h-8.33zM1107.08 677.92h4.17v4.17h-4.17zM1102.92 682.08h4.17v4.17h-4.17zM1098.75 686.25h4.17v4.17h-4.17zM1132.08 686.25h4.17v4.17h-4.17zM1094.58 690.42h4.17v4.17h-4.17zM1127.92 690.42h4.17v4.17h-4.17zM1090.42 694.58h8.33v4.17h-8.33zM1123.75 694.58h8.33v4.17h-8.33zM1086.25 698.75h4.17v4.17h-4.17zM1098.75 698.75h4.17v4.17h-4.17zM1119.58 698.75h4.17v4.17h-4.17zM1132.08 698.75h4.17v4.17h-4.17zM1082.08 702.92h4.17v4.17h-4.17zM1102.92 702.92h4.17v4.17h-4.17zM1115.42 702.92h4.17v4.17h-4.17zM1107.08 707.08h8.33v4.17h-8.33zM1107.08 711.25h4.17v4.17h-4.17zM1102.92 715.42h4.17v4.17h-4.17zM1098.75 719.58h4.17v4.17h-4.17zM1132.08 719.58h4.17v4.17h-4.17zM1094.58 723.75h4.17v4.17h-4.17zM1127.92 723.75h4.17v4.17h-4.17zM1090.42 727.92h8.33v4.17h-8.33zM1123.75 727.92h8.33v4.17h-8.33zM1086.25 732.08h4.17v4.17h-4.17zM1098.75 732.08h4.17v4.17h-4.17zM1119.58 732.08h4.17v4.17h-4.17zM1132.08 732.08h4.17v4.17h-4.17zM1082.08 736.25h4.17v4.17h-4.17zM1102.92 736.25h4.17v4.17h-4.17zM1115.42 736.25h4.17v4.17h-4.17zM1107.08 740.42h8.33v4.17h-8.33zM1107.08 744.58h4.17v4.17h-4.17zM1102.92 748.75h4.17v4.17h-4.17zM1098.75 752.92h4.17v4.17h-4.17zM1132.08 752.92h4.17v4.17h-4.17zM1094.58 757.08h4.17v4.17h-4.17zM1127.92 757.08h4.17v4.17h-4.17zM1090.42 761.25h8.33v4.17h-8.33zM1123.75 761.25h8.33v4.17h-8.33zM1086.25 765.42h4.17v4.17h-4.17zM1098.75 765.42h4.17v4.17h-4.17zM1119.58 765.42h4.17v4.17h-4.17zM1132.08 765.42h4.17v4.17h-4.17zM1082.08 769.58h4.17v4.17h-4.17zM1102.92 769.58h4.17v4.17h-4.17zM1115.42 769.58h4.17v4.17h-4.17zM1107.08 773.75h8.33v4.17h-8.33zM1107.08 777.92h4.17v4.17h-4.17zM1102.92 782.08h4.17v4.17h-4.17zM1098.75 786.25h4.17v4.17h-4.17zM1132.08 786.25h4.17v4.17h-4.17zM1094.58 790.42h4.17v4.17h-4.17zM1127.92 790.42h4.17v4.17h-4.17zM1090.42 794.58h8.33v4.17h-8.33zM1123.75 794.58h8.33v4.17h-8.33zM1086.25 798.75h4.17v4.17h-4.17zM1098.75 798.75h4.17v4.17h-4.17zM1119.58 798.75h4.17v4.17h-4.17zM1132.08 798.75h4.17v4.17h-4.17zM1082.08 802.92h4.17v4.17h-4.17zM1102.92 802.92h4.17v4.17h-4.17zM1115.42 802.92h4.17v4.17h-4.17zM1107.08 807.08h8.33v4.17h-8.33zM1107.08 811.25h4.17v4.17h-4.17zM1102.92 815.42h4.17v4.17h-4.17zM1098.75 819.58h4.17v4.17h-4.17zM1132.08 819.58h4.17v4.17h-4.17zM1094.58 823.75h4.17v4.17h-4.17zM1127.92 823.75h4.17v4.17h-4.17zM1090.42 827.92h8.33v4.17h-8.33zM1123.75 827.92h8.33v4.17h-8.33zM1086.25 832.08h4.17v4.17h-4.17zM1098.75 832.08h4.17v4.17h-4.17zM1119.58 832.08h4.17v4.17h-4.17zM1132.08 832.08h4.17v4.17h-4.17zM1082.08 836.25h4.17v4.17h-4.17zM1102.92 836.25h4.17v4.17h-4.17zM1115.42 836.25h4.17v4.17h-4.17zM1107.08 840.42h8.33v4.17h-8.33zM1107.08 844.58h4.17v4.17h-4.17zM1102.92 848.75h4.17v4.17h-4.17zM1098.75 852.92h4.17v4.17h-4.17zM1132.08 852.92h4.17v4.17h-4.17zM1094.58 857.08h4.17v4.17h-4.17zM1127.92 857.08h4.17v4.17h-4.17zM1090.42 861.25h8.33v4.17h-8.33zM1123.75 861.25h8.33v4.17h-8.33zM1086.25 865.42h4.17v4.17h-4.17zM1098.75 865.42h4.17v4.17h-4.17zM1119.58 865.42h4.17v4.17h-4.17zM1132.08 865.42h4.17v4.17h-4.17zM1082.08 869.58h4.17v4.17h-4.17zM1102.92 869.58h4.17v4.17h-4.17zM1115.42 869.58h4.17v4.17h-4.17zM1107.08 873.75h8.33v4.17h-8.33zM1107.08 877.92h4.17v4.17h-4.17zM1102.92 882.08h4.17v4.17h-4.17zM1144.58 577.92h16.67v4.17h-16.67zM1177.92 577.92h16.67v4.17h-16.67zM1140.42 594.58h4.17v4.17h-4.17zM1161.25 594.58h16.67v4.17h-16.67zM1144.58 611.25h16.67v4.17h-16.67zM1177.92 611.25h16.67v4.17h-16.67zM1140.42 627.92h4.17v4.17h-4.17zM1161.25 627.92h16.67v4.17h-16.67zM1144.58 644.58h16.67v4.17h-16.67zM1177.92 644.58h16.67v4.17h-16.67zM1140.42 661.25h4.17v4.17h-4.17zM1161.25 661.25h16.67v4.17h-16.67zM1144.58 677.92h16.67v4.17h-16.67zM1177.92 677.92h16.67v4.17h-16.67zM1140.42 694.58h4.17v4.17h-4.17zM1161.25 694.58h16.67v4.17h-16.67zM1144.58 711.25h16.67v4.17h-16.67zM1177.92 711.25h16.67v4.17h-16.67zM1140.42 727.92h4.17v4.17h-4.17zM1161.25 727.92h16.67v4.17h-16.67zM1144.58 744.58h16.67v4.17h-16.67zM1177.92 744.58h16.67v4.17h-16.67zM1140.42 761.25h4.17v4.17h-4.17zM1161.25 761.25h16.67v4.17h-16.67zM1144.58 777.92h16.67v4.17h-16.67zM1177.92 777.92h16.67v4.17h-16.67zM1140.42 794.58h4.17v4.17h-4.17zM1161.25 794.58h16.67v4.17h-16.67zM1144.58 811.25h16.67v4.17h-16.67zM1177.92 811.25h16.67v4.17h-16.67zM1140.42 827.92h4.17v4.17h-4.17zM1161.25 827.92h16.67v4.17h-16.67zM1144.58 844.58h16.67v4.17h-16.67zM1177.92 844.58h16.67v4.17h-16.67zM1140.42 861.25h4.17v4.17h-4.17zM1161.25 861.25h16.67v4.17h-16.67zM1144.58 877.92h16.67v4.17h-16.67zM1177.92 877.92h16.67v4.17h-16.67zM1294.58 594.58h4.17v16.67h-4.17zM1294.58 627.92h4.17v16.67h-4.17zM1294.58 661.25h4.17v16.67h-4.17zM1294.58 694.58h4.17v16.67h-4.17zM1294.58 727.92h4.17v16.67h-4.17zM1294.58 761.25h4.17v16.67h-4.17zM1294.58 794.58h4.17v16.67h-4.17zM1294.58 827.92h4.17v16.67h-4.17zM1294.58 861.25h4.17v16.67h-4.17zM1311.25 611.25h4.17v16.67h-4.17zM1311.25 644.58h4.17v16.67h-4.17zM1311.25 677.92h4.17v16.67h-4.17zM1311.25 711.25h4.17v16.67h-4.17zM1311.25 744.58h4.17v16.67h-4.17zM1311.25 777.92h4.17v16.67h-4.17zM1311.25 811.25h4.17v16.67h-4.17zM1311.25 844.58h4.17v16.67h-4.17zM1311.25 877.92h4.17v8.33h-4.17zM1327.92 594.58h4.17v16.67h-4.17zM1327.92 627.92h4.17v16.67h-4.17zM1327.92 661.25h4.17v16.67h-4.17zM1327.92 694.58h4.17v16.67h-4.17zM1327.92 727.92h4.17v16.67h-4.17zM1327.92 761.25h4.17v16.67h-4.17zM1327.92 794.58h4.17v16.67h-4.17zM1327.92 827.92h4.17v16.67h-4.17zM1327.92 861.25h4.17v16.67h-4.17zM1361.25 565.42h12.5v4.17h-12.5zM1340.42 569.58h4.17v4.17h-4.17zM1365.42 569.58h12.5v4.17h-12.5zM1340.42 573.75h8.33v4.17h-8.33zM1369.58 573.75h12.5v4.17h-12.5zM1340.42 577.92h12.5v4.17h-12.5zM1373.75 577.92h12.5v4.17h-12.5zM1344.58 582.08h12.5v4.17h-12.5zM1377.92 582.08h12.5v4.17h-12.5zM1348.75 586.25h12.5v4.17h-12.5zM1382.08 586.25h12.5v4.17h-12.5zM1352.92 590.42h12.5v4.17h-12.5zM1386.25 590.42h8.33v4.17h-8.33zM1357.08 594.58h12.5v4.17h-12.5zM1390.42 594.58h4.17v4.17h-4.17zM1361.25 598.75h12.5v4.17h-12.5zM1340.42 602.92h4.17v4.17h-4.17zM1365.42 602.92h12.5v4.17h-12.5zM1340.42 607.08h8.33v4.17h-8.33zM1369.58 607.08h12.5v4.17h-12.5zM1340.42 611.25h12.5v4.17h-12.5zM1373.75 611.25h12.5v4.17h-12.5zM1344.58 615.42h12.5v4.17h-12.5zM1377.92 615.42h12.5v4.17h-12.5zM1348.75 619.58h12.5v4.17h-12.5zM1382.08 619.58h12.5v4.17h-12.5zM1352.92 623.75h12.5v4.17h-12.5zM1386.25 623.75h8.33v4.17h-8.33zM1357.08 627.92h12.5v4.17h-12.5zM1390.42 627.92h4.17v4.17h-4.17zM1361.25 632.08h12.5v4.17h-12.5zM1340.42 636.25h4.17v4.17h-4.17zM1365.42 636.25h12.5v4.17h-12.5zM1340.42 640.42h8.33v4.17h-8.33zM1369.58 640.42h12.5v4.17h-12.5zM1340.42 644.58h12.5v4.17h-12.5zM1373.75 644.58h12.5v4.17h-12.5zM1344.58 648.75h12.5v4.17h-12.5zM1377.92 648.75h12.5v4.17h-12.5zM1348.75 652.92h12.5v4.17h-12.5zM1382.08 652.92h12.5v4.17h-12.5zM1352.92 657.08h12.5v4.17h-12.5zM1386.25 657.08h8.33v4.17h-8.33zM1357.08 661.25h12.5v4.17h-12.5zM1390.42 661.25h4.17v4.17h-4.17zM1361.25 665.42h12.5v4.17h-12.5zM1340.42 669.58h4.17v4.17h-4.17zM1365.42 669.58h12.5v4.17h-12.5zM1340.42 673.75h8.33v4.17h-8.33zM1369.58 673.75h12.5v4.17h-12.5zM1340.42 677.92h12.5v4.17h-12.5zM1373.75 677.92h12.5v4.17h-12.5zM1344.58 682.08h12.5v4.17h-12.5zM1377.92 682.08h12.5v4.17h-12.5zM1348.75 686.25h12.5v4.17h-12.5zM1382.08 686.25h12.5v4.17h-12.5zM1352.92 690.42h12.5v4.17h-12.5zM1386.25 690.42h8.33v4.17h-8.33zM1357.08 694.58h12.5v4.17h-12.5zM1390.42 694.58h4.17v4.17h-4.17zM1361.25 698.75h12.5v4.17h-12.5zM1340.42 702.92h4.17v4.17h-4.17zM1365.42 702.92h12.5v4.17h-12.5zM1340.42 707.08h8.33v4.17h-8.33zM1369.58 707.08h12.5v4.17h-12.5zM1340.42 711.25h12.5v4.17h-12.5zM1373.75 711.25h12.5v4.17h-12.5zM1344.58 715.42h12.5v4.17h-12.5zM1377.92 715.42h12.5v4.17h-12.5zM1348.75 719.58h12.5v4.17h-12.5zM1382.08 719.58h12.5v4.17h-12.5zM1352.92 723.75h12.5v4.17h-12.5zM1386.25 723.75h8.33v4.17h-8.33zM1357.08 727.92h12.5v4.17h-12.5zM1390.42 727.92h4.17v4.17h-4.17zM1361.25 732.08h12.5v4.17h-12.5zM1340.42 736.25h4.17v4.17h-4.17zM1365.42 736.25h12.5v4.17h-12.5zM1340.42 740.42h8.33v4.17h-8.33zM1369.58 740.42h12.5v4.17h-12.5zM1340.42 744.58h12.5v4.17h-12.5zM1373.75 744.58h12.5v4.17h-12.5zM1344.58 748.75h12.5v4.17h-12.5zM1377.92 748.75h12.5v4.17h-12.5zM1348.75 752.92h12.5v4.17h-12.5zM1382.08 752.92h12.5v4.17h-12.5zM1352.92 757.08h12.5v4.17h-12.5zM1386.25 757.08h8.33v4.17h-8.33zM1357.08 761.25h12.5v4.17h-12.5zM1390.42 761.25h4.17v4.17h-4.17zM1361.25 765.42h12.5v4.17h-12.5zM1340.42 769.58h4.17v4.17h-4.17zM1365.42 769.58h12.5v4.17h-12.5zM1340.42 773.75h8.33v4.17h-8.33zM1369.58 773.75h12.5v4.17h-12.5zM1340.42 777.92h12.5v4.17h-12.5zM1373.75 777.92h12.5v4.17h-12.5zM1344.58 782.08h12.5v4.17h-12.5zM1377.92 782.08h12.5v4.17h-12.5zM1348.75 786.25h12.5v4.17h-12.5zM1382.08 786.25h12.5v4.17h-12.5zM1352.92 790.42h12.5v4.17h-12.5zM1386.25 790.42h8.33v4.17h-8.33zM1357.08 794.58h12.5v4.17h-12.5zM1390.42 794.58h4.17v4.17h-4.17zM1361.25 798.75h12.5v4.17h-12.5zM1340.42 802.92h4.17v4.17h-4.17zM1365.42 802.92h12.5v4.17h-12.5zM1340.42 807.08h8.33v4.17h-8.33zM1369.58 807.08h12.5v4.17h-12.5zM1340.42 811.25h12.5v4.17h-12.5zM1373.75 811.25h12.5v4.17h-12.5zM1344.58 815.42h12.5v4.17h-12.5zM1377.92 815.42h12.5v4.17h-12.5zM1348.75 819.58h12.5v4.17h-12.5zM1382.08 819.58h12.5v4.17h-12.5zM1352.92 823.75h12.5v4.17h-12.5zM1386.25 823.75h8.33v4.17h-8.33zM1357.08 827.92h12.5v4.17h-12.5zM1390.42 827.92h4.17v4.17h-4.17zM1361.25 832.08h12.5v4.17h-12.5zM1340.42 836.25h4.17v4.17h-4.17zM1365.42 836.25h12.5v4.17h-12.5zM1340.42 840.42h8.33v4.17h-8.33zM1369.58 840.42h12.5v4.17h-12.5zM1340.42 844.58h12.5v4.17h-12.5zM1373.75 844.58h12.5v4.17h-12.5zM1344.58 848.75h12.5v4.17h-12.5zM1377.92 848.75h12.5v4.17h-12.5zM1348.75 852.92h12.5v4.17h-12.5zM1382.08 852.92h12.5v4.17h-12.5zM1352.92 857.08h12.5v4.17h-12.5zM1386.25 857.08h8.33v4.17h-8.33zM1357.08 861.25h12.5v4.17h-12.5zM1390.42 861.25h4.17v4.17h-4.17zM1361.25 865.42h12.5v4.17h-12.5zM1340.42 869.58h4.17v4.17h-4.17zM1365.42 869.58h12.5v4.17h-12.5zM1340.42 873.75h8.33v4.17h-8.33zM1369.58 873.75h12.5v4.17h-12.5zM1340.42 877.92h12.5v4.17h-12.5zM1373.75 877.92h12.5v4.17h-12.5zM1344.58 882.08h12.5v4.17h-12.5zM1377.92 882.08h12.5v4.17h-12.5zM1398.75 552.92h4.17v4.17h-4.17zM1432.08 552.92h4.17v4.17h-4.17zM1427.92 557.08h4.17v4.17h-4.17zM1423.75 561.25h8.33v4.17h-8.33zM1398.75 565.42h4.17v4.17h-4.17zM1419.58 565.42h4.17v4.17h-4.17zM1432.08 565.42h4.17v4.17h-4.17zM1402.92 569.58h4.17v4.17h-4.17zM1415.42 569.58h4.17v4.17h-4.17zM1436.25 569.58h4.17v4.17h-4.17zM1407.08 573.75h8.33v4.17h-8.33zM1440.42 573.75h8.33v4.17h-8.33zM1407.08 577.92h4.17v4.17h-4.17zM1440.42 577.92h4.17v4.17h-4.17zM1402.92 582.08h4.17v4.17h-4.17zM1436.25 582.08h4.17v4.17h-4.17zM1398.75 586.25h4.17v4.17h-4.17zM1432.08 586.25h4.17v4.17h-4.17zM1427.92 590.42h4.17v4.17h-4.17zM1423.75 594.58h8.33v4.17h-8.33zM1398.75 598.75h4.17v4.17h-4.17zM1419.58 598.75h4.17v4.17h-4.17zM1432.08 598.75h4.17v4.17h-4.17zM1402.92 602.92h4.17v4.17h-4.17zM1415.42 602.92h4.17v4.17h-4.17zM1436.25 602.92h4.17v4.17h-4.17zM1407.08 607.08h8.33v4.17h-8.33zM1440.42 607.08h8.33v4.17h-8.33zM1407.08 611.25h4.17v4.17h-4.17zM1440.42 611.25h4.17v4.17h-4.17zM1402.92 615.42h4.17v4.17h-4.17zM1436.25 615.42h4.17v4.17h-4.17zM1398.75 619.58h4.17v4.17h-4.17zM1432.08 619.58h4.17v4.17h-4.17zM1427.92 623.75h4.17v4.17h-4.17zM1423.75 627.92h8.33v4.17h-8.33zM1398.75 632.08h4.17v4.17h-4.17zM1419.58 632.08h4.17v4.17h-4.17zM1432.08 632.08h4.17v4.17h-4.17zM1402.92 636.25h4.17v4.17h-4.17zM1415.42 636.25h4.17v4.17h-4.17zM1436.25 636.25h4.17v4.17h-4.17zM1407.08 640.42h8.33v4.17h-8.33zM1440.42 640.42h8.33v4.17h-8.33zM1407.08 644.58h4.17v4.17h-4.17zM1440.42 644.58h4.17v4.17h-4.17zM1402.92 648.75h4.17v4.17h-4.17zM1436.25 648.75h4.17v4.17h-4.17zM1398.75 652.92h4.17v4.17h-4.17zM1432.08 652.92h4.17v4.17h-4.17zM1427.92 657.08h4.17v4.17h-4.17zM1423.75 661.25h8.33v4.17h-8.33zM1398.75 665.42h4.17v4.17h-4.17zM1419.58 665.42h4.17v4.17h-4.17zM1432.08 665.42h4.17v4.17h-4.17zM1402.92 669.58h4.17v4.17h-4.17zM1415.42 669.58h4.17v4.17h-4.17zM1436.25 669.58h4.17v4.17h-4.17zM1407.08 673.75h8.33v4.17h-8.33zM1440.42 673.75h8.33v4.17h-8.33zM1407.08 677.92h4.17v4.17h-4.17zM1440.42 677.92h4.17v4.17h-4.17zM1402.92 682.08h4.17v4.17h-4.17zM1436.25 682.08h4.17v4.17h-4.17zM1398.75 686.25h4.17v4.17h-4.17zM1432.08 686.25h4.17v4.17h-4.17zM1427.92 690.42h4.17v4.17h-4.17zM1423.75 694.58h8.33v4.17h-8.33zM1398.75 698.75h4.17v4.17h-4.17zM1419.58 698.75h4.17v4.17h-4.17zM1432.08 698.75h4.17v4.17h-4.17zM1402.92 702.92h4.17v4.17h-4.17zM1415.42 702.92h4.17v4.17h-4.17zM1436.25 702.92h4.17v4.17h-4.17zM1407.08 707.08h8.33v4.17h-8.33zM1440.42 707.08h8.33v4.17h-8.33zM1407.08 711.25h4.17v4.17h-4.17zM1440.42 711.25h4.17v4.17h-4.17zM1402.92 715.42h4.17v4.17h-4.17zM1436.25 715.42h4.17v4.17h-4.17zM1398.75 719.58h4.17v4.17h-4.17zM1432.08 719.58h4.17v4.17h-4.17zM1427.92 723.75h4.17v4.17h-4.17zM1423.75 727.92h8.33v4.17h-8.33zM1398.75 732.08h4.17v4.17h-4.17zM1419.58 732.08h4.17v4.17h-4.17zM1432.08 732.08h4.17v4.17h-4.17zM1402.92 736.25h4.17v4.17h-4.17zM1415.42 736.25h4.17v4.17h-4.17zM1436.25 736.25h4.17v4.17h-4.17zM1407.08 740.42h8.33v4.17h-8.33zM1440.42 740.42h8.33v4.17h-8.33zM1407.08 744.58h4.17v4.17h-4.17zM1440.42 744.58h4.17v4.17h-4.17zM1402.92 748.75h4.17v4.17h-4.17zM1436.25 748.75h4.17v4.17h-4.17zM1398.75 752.92h4.17v4.17h-4.17zM1432.08 752.92h4.17v4.17h-4.17zM1427.92 757.08h4.17v4.17h-4.17zM1423.75 761.25h8.33v4.17h-8.33zM1398.75 765.42h4.17v4.17h-4.17zM1419.58 765.42h4.17v4.17h-4.17zM1432.08 765.42h4.17v4.17h-4.17zM1402.92 769.58h4.17v4.17h-4.17zM1415.42 769.58h4.17v4.17h-4.17zM1436.25 769.58h4.17v4.17h-4.17zM1407.08 773.75h8.33v4.17h-8.33zM1440.42 773.75h8.33v4.17h-8.33zM1407.08 777.92h4.17v4.17h-4.17zM1440.42 777.92h4.17v4.17h-4.17zM1402.92 782.08h4.17v4.17h-4.17zM1436.25 782.08h4.17v4.17h-4.17zM1398.75 786.25h4.17v4.17h-4.17zM1432.08 786.25h4.17v4.17h-4.17zM1427.92 790.42h4.17v4.17h-4.17zM1423.75 794.58h8.33v4.17h-8.33zM1398.75 798.75h4.17v4.17h-4.17zM1419.58 798.75h4.17v4.17h-4.17zM1432.08 798.75h4.17v4.17h-4.17zM1402.92 802.92h4.17v4.17h-4.17zM1415.42 802.92h4.17v4.17h-4.17zM1436.25 802.92h4.17v4.17h-4.17zM1407.08 807.08h8.33v4.17h-8.33zM1440.42 807.08h8.33v4.17h-8.33zM1407.08 811.25h4.17v4.17h-4.17zM1440.42 811.25h4.17v4.17h-4.17zM1402.92 815.42h4.17v4.17h-4.17zM1436.25 815.42h4.17v4.17h-4.17zM1398.75 819.58h4.17v4.17h-4.17zM1432.08 819.58h4.17v4.17h-4.17zM1427.92 823.75h4.17v4.17h-4.17zM1423.75 827.92h8.33v4.17h-8.33zM1398.75 832.08h4.17v4.17h-4.17zM1419.58 832.08h4.17v4.17h-4.17zM1432.08 832.08h4.17v4.17h-4.17zM1402.92 836.25h4.17v4.17h-4.17zM1415.42 836.25h4.17v4.17h-4.17zM1436.25 836.25h4.17v4.17h-4.17zM1407.08 840.42h8.33v4.17h-8.33zM1440.42 840.42h8.33v4.17h-8.33zM1407.08 844.58h4.17v4.17h-4.17zM1440.42 844.58h4.17v4.17h-4.17zM1402.92 848.75h4.17v4.17h-4.17zM1436.25 848.75h4.17v4.17h-4.17zM1398.75 852.92h4.17v4.17h-4.17zM1432.08 852.92h4.17v4.17h-4.17zM1427.92 857.08h4.17v4.17h-4.17zM1423.75 861.25h8.33v4.17h-8.33zM1398.75 865.42h4.17v4.17h-4.17zM1419.58 865.42h4.17v4.17h-4.17zM1432.08 865.42h4.17v4.17h-4.17zM1402.92 869.58h4.17v4.17h-4.17zM1415.42 869.58h4.17v4.17h-4.17zM1436.25 869.58h4.17v4.17h-4.17zM1407.08 873.75h8.33v4.17h-8.33zM1440.42 873.75h8.33v4.17h-8.33zM1407.08 877.92h4.17v4.17h-4.17zM1440.42 877.92h4.17v4.17h-4.17zM1402.92 882.08h4.17v4.17h-4.17zM1436.25 882.08h4.17v4.17h-4.17zM1461.25 561.25h16.67v4.17h-16.67zM1494.58 561.25h12.5v4.17h-12.5zM1452.92 577.92h8.33v4.17h-8.33zM1477.92 577.92h16.67v4.17h-16.67zM1461.25 594.58h16.67v4.17h-16.67zM1494.58 594.58h12.5v4.17h-12.5zM1452.92 611.25h8.33v4.17h-8.33zM1477.92 611.25h16.67v4.17h-16.67zM1461.25 627.92h16.67v4.17h-16.67zM1494.58 627.92h12.5v4.17h-12.5zM1452.92 644.58h8.33v4.17h-8.33zM1477.92 644.58h16.67v4.17h-16.67zM1461.25 661.25h16.67v4.17h-16.67zM1494.58 661.25h12.5v4.17h-12.5zM1452.92 677.92h8.33v4.17h-8.33zM1477.92 677.92h16.67v4.17h-16.67zM1461.25 694.58h16.67v4.17h-16.67zM1494.58 694.58h12.5v4.17h-12.5zM1452.92 711.25h8.33v4.17h-8.33zM1477.92 711.25h16.67v4.17h-16.67zM1461.25 727.92h16.67v4.17h-16.67zM1494.58 727.92h12.5v4.17h-12.5zM1452.92 744.58h8.33v4.17h-8.33zM1477.92 744.58h16.67v4.17h-16.67zM1461.25 761.25h16.67v4.17h-16.67zM1494.58 761.25h12.5v4.17h-12.5zM1452.92 777.92h8.33v4.17h-8.33zM1477.92 777.92h16.67v4.17h-16.67zM1461.25 794.58h16.67v4.17h-16.67zM1494.58 794.58h12.5v4.17h-12.5zM1452.92 811.25h8.33v4.17h-8.33zM1477.92 811.25h16.67v4.17h-16.67zM1461.25 827.92h16.67v4.17h-16.67zM1494.58 827.92h12.5v4.17h-12.5zM1452.92 844.58h8.33v4.17h-8.33zM1477.92 844.58h16.67v4.17h-16.67zM1461.25 861.25h16.67v4.17h-16.67zM1494.58 861.25h12.5v4.17h-12.5zM1452.92 877.92h8.33v4.17h-8.33zM1477.92 877.92h16.67v4.17h-16.67zM1594.58 627.92h4.17v16.67h-4.17zM1594.58 661.25h4.17v16.67h-4.17zM1594.58 694.58h4.17v16.67h-4.17zM1594.58 727.92h4.17v16.67h-4.17zM1594.58 761.25h4.17v16.67h-4.17zM1594.58 794.58h4.17v16.67h-4.17zM1594.58 827.92h4.17v16.67h-4.17zM1594.58 861.25h4.17v16.67h-4.17zM1611.25 611.25h4.17v16.67h-4.17zM1611.25 644.58h4.17v16.67h-4.17zM1611.25 677.92h4.17v16.67h-4.17zM1611.25 711.25h4.17v16.67h-4.17zM1611.25 744.58h4.17v16.67h-4.17zM1611.25 777.92h4.17v16.67h-4.17zM1611.25 811.25h4.17v16.67h-4.17zM1611.25 844.58h4.17v16.67h-4.17zM1611.25 877.92h4.17v8.33h-4.17zM1627.92 627.92h4.17v16.67h-4.17zM1627.92 661.25h4.17v16.67h-4.17zM1627.92 694.58h4.17v16.67h-4.17zM1627.92 727.92h4.17v16.67h-4.17zM1627.92 761.25h4.17v16.67h-4.17zM1627.92 794.58h4.17v16.67h-4.17zM1627.92 827.92h4.17v16.67h-4.17zM1627.92 861.25h4.17v16.67h-4.17zM1644.58 611.25h4.17v16.67h-4.17zM1644.58 644.58h4.17v16.67h-4.17zM1644.58 677.92h4.17v16.67h-4.17zM1644.58 711.25h4.17v16.67h-4.17zM1644.58 744.58h4.17v16.67h-4.17zM1644.58 777.92h4.17v16.67h-4.17zM1644.58 811.25h4.17v16.67h-4.17zM1644.58 844.58h4.17v16.67h-4.17zM1644.58 877.92h4.17v8.33h-4.17zM1652.92 590.42h12.5v4.17h-12.5zM1686.25 590.42h12.5v4.17h-12.5zM1657.08 594.58h12.5v4.17h-12.5zM1690.42 594.58h12.5v4.17h-12.5zM1661.25 598.75h12.5v4.17h-12.5zM1694.58 598.75h12.5v4.17h-12.5zM1665.42 602.92h12.5v4.17h-12.5zM1698.75 602.92h8.33v4.17h-8.33zM1669.58 607.08h12.5v4.17h-12.5zM1702.92 607.08h4.17v4.17h-4.17zM1673.75 611.25h12.5v4.17h-12.5zM1652.92 615.42h4.17v4.17h-4.17zM1677.92 615.42h12.5v4.17h-12.5zM1652.92 619.58h8.33v4.17h-8.33zM1682.08 619.58h12.5v4.17h-12.5zM1652.92 623.75h12.5v4.17h-12.5zM1686.25 623.75h12.5v4.17h-12.5zM1657.08 627.92h12.5v4.17h-12.5zM1690.42 627.92h12.5v4.17h-12.5zM1661.25 632.08h12.5v4.17h-12.5zM1694.58 632.08h12.5v4.17h-12.5zM1665.42 636.25h12.5v4.17h-12.5zM1698.75 636.25h8.33v4.17h-8.33zM1669.58 640.42h12.5v4.17h-12.5zM1702.92 640.42h4.17v4.17h-4.17zM1673.75 644.58h12.5v4.17h-12.5zM1652.92 648.75h4.17v4.17h-4.17zM1677.92 648.75h12.5v4.17h-12.5zM1652.92 652.92h8.33v4.17h-8.33zM1682.08 652.92h12.5v4.17h-12.5zM1652.92 657.08h12.5v4.17h-12.5zM1686.25 657.08h12.5v4.17h-12.5zM1657.08 661.25h12.5v4.17h-12.5zM1690.42 661.25h12.5v4.17h-12.5zM1661.25 665.42h12.5v4.17h-12.5zM1694.58 665.42h12.5v4.17h-12.5zM1665.42 669.58h12.5v4.17h-12.5zM1698.75 669.58h8.33v4.17h-8.33zM1669.58 673.75h12.5v4.17h-12.5zM1702.92 673.75h4.17v4.17h-4.17zM1673.75 677.92h12.5v4.17h-12.5zM1652.92 682.08h4.17v4.17h-4.17zM1677.92 682.08h12.5v4.17h-12.5zM1652.92 686.25h8.33v4.17h-8.33zM1682.08 686.25h12.5v4.17h-12.5zM1652.92 690.42h12.5v4.17h-12.5zM1686.25 690.42h12.5v4.17h-12.5zM1657.08 694.58h12.5v4.17h-12.5zM1690.42 694.58h12.5v4.17h-12.5zM1661.25 698.75h12.5v4.17h-12.5zM1694.58 698.75h12.5v4.17h-12.5zM1665.42 702.92h12.5v4.17h-12.5zM1698.75 702.92h8.33v4.17h-8.33zM1669.58 707.08h12.5v4.17h-12.5zM1702.92 707.08h4.17v4.17h-4.17zM1673.75 711.25h12.5v4.17h-12.5zM1652.92 715.42h4.17v4.17h-4.17zM1677.92 715.42h12.5v4.17h-12.5zM1652.92 719.58h8.33v4.17h-8.33zM1682.08 719.58h12.5v4.17h-12.5zM1652.92 723.75h12.5v4.17h-12.5zM1686.25 723.75h12.5v4.17h-12.5zM1657.08 727.92h12.5v4.17h-12.5zM1690.42 727.92h12.5v4.17h-12.5zM1661.25 732.08h12.5v4.17h-12.5zM1694.58 732.08h12.5v4.17h-12.5zM1665.42 736.25h12.5v4.17h-12.5zM1698.75 736.25h8.33v4.17h-8.33zM1669.58 740.42h12.5v4.17h-12.5zM1702.92 740.42h4.17v4.17h-4.17zM1673.75 744.58h12.5v4.17h-12.5zM1652.92 748.75h4.17v4.17h-4.17zM1677.92 748.75h12.5v4.17h-12.5zM1652.92 752.92h8.33v4.17h-8.33zM1682.08 752.92h12.5v4.17h-12.5zM1652.92 757.08h12.5v4.17h-12.5zM1686.25 757.08h12.5v4.17h-12.5zM1657.08 761.25h12.5v4.17h-12.5zM1690.42 761.25h12.5v4.17h-12.5zM1661.25 765.42h12.5v4.17h-12.5zM1694.58 765.42h12.5v4.17h-12.5zM1665.42 769.58h12.5v4.17h-12.5zM1698.75 769.58h8.33v4.17h-8.33zM1669.58 773.75h12.5v4.17h-12.5zM1702.92 773.75h4.17v4.17h-4.17zM1673.75 777.92h12.5v4.17h-12.5zM1652.92 782.08h4.17v4.17h-4.17zM1677.92 782.08h12.5v4.17h-12.5zM1652.92 786.25h8.33v4.17h-8.33zM1682.08 786.25h12.5v4.17h-12.5zM1652.92 790.42h12.5v4.17h-12.5zM1686.25 790.42h12.5v4.17h-12.5zM1657.08 794.58h12.5v4.17h-12.5zM1690.42 794.58h12.5v4.17h-12.5zM1661.25 798.75h12.5v4.17h-12.5zM1694.58 798.75h12.5v4.17h-12.5zM1665.42 802.92h12.5v4.17h-12.5zM1698.75 802.92h8.33v4.17h-8.33zM1669.58 807.08h12.5v4.17h-12.5zM1702.92 807.08h4.17v4.17h-4.17zM1673.75 811.25h12.5v4.17h-12.5zM1652.92 815.42h4.17v4.17h-4.17zM1677.92 815.42h12.5v4.17h-12.5zM1652.92 819.58h8.33v4.17h-8.33zM1682.08 819.58h12.5v4.17h-12.5zM1652.92 823.75h12.5v4.17h-12.5zM1686.25 823.75h12.5v4.17h-12.5zM1657.08 827.92h12.5v4.17h-12.5zM1690.42 827.92h12.5v4.17h-12.5zM1661.25 832.08h12.5v4.17h-12.5zM1694.58 832.08h12.5v4.17h-12.5zM1665.42 836.25h12.5v4.17h-12.5zM1698.75 836.25h8.33v4.17h-8.33zM1669.58 840.42h12.5v4.17h-12.5zM1702.92 840.42h4.17v4.17h-4.17zM1673.75 844.58h12.5v4.17h-12.5zM1652.92 848.75h4.17v4.17h-4.17zM1677.92 848.75h12.5v4.17h-12.5zM1652.92 852.92h8.33v4.17h-8.33zM1682.08 852.92h12.5v4.17h-12.5zM1652.92 857.08h12.5v4.17h-12.5zM1686.25 857.08h12.5v4.17h-12.5zM1657.08 861.25h12.5v4.17h-12.5zM1690.42 861.25h12.5v4.17h-12.5zM1661.25 865.42h12.5v4.17h-12.5zM1694.58 865.42h12.5v4.17h-12.5zM1665.42 869.58h12.5v4.17h-12.5zM1698.75 869.58h8.33v4.17h-8.33zM1669.58 873.75h12.5v4.17h-12.5zM1702.92 873.75h4.17v4.17h-4.17zM1673.75 877.92h12.5v4.17h-12.5zM1652.92 882.08h4.17v4.17h-4.17zM1677.92 882.08h12.5v4.17h-12.5zM1736.25 582.08h4.17v4.17h-4.17zM1732.08 586.25h4.17v4.17h-4.17zM1727.92 590.42h4.17v4.17h-4.17zM1761.25 590.42h4.17v4.17h-4.17zM1723.75 594.58h8.33v4.17h-8.33zM1757.08 594.58h8.33v4.17h-8.33zM1719.58 598.75h4.17v4.17h-4.17zM1732.08 598.75h4.17v4.17h-4.17zM1752.92 598.75h4.17v4.17h-4.17zM1715.42 602.92h4.17v4.17h-4.17zM1736.25 602.92h4.17v4.17h-4.17zM1748.75 602.92h4.17v4.17h-4.17zM1711.25 607.08h4.17v4.17h-4.17zM1740.42 607.08h8.33v4.17h-8.33zM1740.42 611.25h4.17v4.17h-4.17zM1736.25 615.42h4.17v4.17h-4.17zM1732.08 619.58h4.17v4.17h-4.17zM1727.92 623.75h4.17v4.17h-4.17zM1761.25 623.75h4.17v4.17h-4.17zM1723.75 627.92h8.33v4.17h-8.33zM1757.08 627.92h8.33v4.17h-8.33zM1719.58 632.08h4.17v4.17h-4.17zM1732.08 632.08h4.17v4.17h-4.17zM1752.92 632.08h4.17v4.17h-4.17zM1715.42 636.25h4.17v4.17h-4.17zM1736.25 636.25h4.17v4.17h-4.17zM1748.75 636.25h4.17v4.17h-4.17zM1711.25 640.42h4.17v4.17h-4.17zM1740.42 640.42h8.33v4.17h-8.33zM1740.42 644.58h4.17v4.17h-4.17zM1736.25 648.75h4.17v4.17h-4.17zM1732.08 652.92h4.17v4.17h-4.17zM1727.92 657.08h4.17v4.17h-4.17zM1761.25 657.08h4.17v4.17h-4.17zM1723.75 661.25h8.33v4.17h-8.33zM1757.08 661.25h8.33v4.17h-8.33zM1719.58 665.42h4.17v4.17h-4.17zM1732.08 665.42h4.17v4.17h-4.17zM1752.92 665.42h4.17v4.17h-4.17zM1715.42 669.58h4.17v4.17h-4.17zM1736.25 669.58h4.17v4.17h-4.17zM1748.75 669.58h4.17v4.17h-4.17zM1711.25 673.75h4.17v4.17h-4.17zM1740.42 673.75h8.33v4.17h-8.33zM1740.42 677.92h4.17v4.17h-4.17zM1736.25 682.08h4.17v4.17h-4.17zM1732.08 686.25h4.17v4.17h-4.17zM1727.92 690.42h4.17v4.17h-4.17zM1761.25 690.42h4.17v4.17h-4.17zM1723.75 694.58h8.33v4.17h-8.33zM1757.08 694.58h8.33v4.17h-8.33zM1719.58 698.75h4.17v4.17h-4.17zM1732.08 698.75h4.17v4.17h-4.17zM1752.92 698.75h4.17v4.17h-4.17zM1715.42 702.92h4.17v4.17h-4.17zM1736.25 702.92h4.17v4.17h-4.17zM1748.75 702.92h4.17v4.17h-4.17zM1711.25 707.08h4.17v4.17h-4.17zM1740.42 707.08h8.33v4.17h-8.33zM1740.42 711.25h4.17v4.17h-4.17zM1736.25 715.42h4.17v4.17h-4.17zM1732.08 719.58h4.17v4.17h-4.17zM1727.92 723.75h4.17v4.17h-4.17zM1761.25 723.75h4.17v4.17h-4.17zM1723.75 727.92h8.33v4.17h-8.33zM1757.08 727.92h8.33v4.17h-8.33zM1719.58 732.08h4.17v4.17h-4.17zM1732.08 732.08h4.17v4.17h-4.17zM1752.92 732.08h4.17v4.17h-4.17zM1715.42 736.25h4.17v4.17h-4.17zM1736.25 736.25h4.17v4.17h-4.17zM1748.75 736.25h4.17v4.17h-4.17zM1711.25 740.42h4.17v4.17h-4.17zM1740.42 740.42h8.33v4.17h-8.33zM1740.42 744.58h4.17v4.17h-4.17zM1736.25 748.75h4.17v4.17h-4.17zM1732.08 752.92h4.17v4.17h-4.17zM1727.92 757.08h4.17v4.17h-4.17zM1761.25 757.08h4.17v4.17h-4.17zM1723.75 761.25h8.33v4.17h-8.33zM1757.08 761.25h8.33v4.17h-8.33zM1719.58 765.42h4.17v4.17h-4.17zM1732.08 765.42h4.17v4.17h-4.17zM1752.92 765.42h4.17v4.17h-4.17zM1715.42 769.58h4.17v4.17h-4.17zM1736.25 769.58h4.17v4.17h-4.17zM1748.75 769.58h4.17v4.17h-4.17zM1711.25 773.75h4.17v4.17h-4.17zM1740.42 773.75h8.33v4.17h-8.33zM1740.42 777.92h4.17v4.17h-4.17zM1736.25 782.08h4.17v4.17h-4.17zM1732.08 786.25h4.17v4.17h-4.17zM1727.92 790.42h4.17v4.17h-4.17zM1761.25 790.42h4.17v4.17h-4.17zM1723.75 794.58h8.33v4.17h-8.33zM1757.08 794.58h8.33v4.17h-8.33zM1719.58 798.75h4.17v4.17h-4.17zM1732.08 798.75h4.17v4.17h-4.17zM1752.92 798.75h4.17v4.17h-4.17zM1715.42 802.92h4.17v4.17h-4.17zM1736.25 802.92h4.17v4.17h-4.17zM1748.75 802.92h4.17v4.17h-4.17zM1711.25 807.08h4.17v4.17h-4.17zM1740.42 807.08h8.33v4.17h-8.33zM1740.42 811.25h4.17v4.17h-4.17zM1736.25 815.42h4.17v4.17h-4.17zM1732.08 819.58h4.17v4.17h-4.17zM1727.92 823.75h4.17v4.17h-4.17zM1761.25 823.75h4.17v4.17h-4.17zM1723.75 827.92h8.33v4.17h-8.33zM1757.08 827.92h8.33v4.17h-8.33zM1719.58 832.08h4.17v4.17h-4.17zM1732.08 832.08h4.17v4.17h-4.17zM1752.92 832.08h4.17v4.17h-4.17zM1715.42 836.25h4.17v4.17h-4.17zM1736.25 836.25h4.17v4.17h-4.17zM1748.75 836.25h4.17v4.17h-4.17zM1711.25 840.42h4.17v4.17h-4.17zM1740.42 840.42h8.33v4.17h-8.33zM1740.42 844.58h4.17v4.17h-4.17zM1736.25 848.75h4.17v4.17h-4.17zM1732.08 852.92h4.17v4.17h-4.17zM1727.92 857.08h4.17v4.17h-4.17zM1761.25 857.08h4.17v4.17h-4.17zM1723.75 861.25h8.33v4.17h-8.33zM1757.08 861.25h8.33v4.17h-8.33zM1719.58 865.42h4.17v4.17h-4.17zM1732.08 865.42h4.17v4.17h-4.17zM1752.92 865.42h4.17v4.17h-4.17zM1715.42 869.58h4.17v4.17h-4.17zM1736.25 869.58h4.17v4.17h-4.17zM1748.75 869.58h4.17v4.17h-4.17zM1711.25 873.75h4.17v4.17h-4.17zM1740.42 873.75h8.33v4.17h-8.33zM1740.42 877.92h4.17v4.17h-4.17zM1736.25 882.08h4.17v4.17h-4.17zM1777.92 577.92h16.67v4.17h-16.67zM1811.25 577.92h8.33v4.17h-8.33zM1769.58 594.58h8.33v4.17h-8.33zM1794.58 594.58h16.67v4.17h-16.67zM1777.92 611.25h16.67v4.17h-16.67zM1811.25 611.25h8.33v4.17h-8.33zM1769.58 627.92h8.33v4.17h-8.33zM1794.58 627.92h16.67v4.17h-16.67zM1777.92 644.58h16.67v4.17h-16.67zM1811.25 644.58h8.33v4.17h-8.33zM1769.58 661.25h8.33v4.17h-8.33zM1794.58 661.25h16.67v4.17h-16.67zM1777.92 677.92h16.67v4.17h-16.67zM1811.25 677.92h8.33v4.17h-8.33zM1769.58 694.58h8.33v4.17h-8.33zM1794.58 694.58h16.67v4.17h-16.67zM1777.92 711.25h16.67v4.17h-16.67zM1811.25 711.25h8.33v4.17h-8.33zM1769.58 727.92h8.33v4.17h-8.33zM1794.58 727.92h16.67v4.17h-16.67zM1777.92 744.58h16.67v4.17h-16.67zM1811.25 744.58h8.33v4.17h-8.33zM1769.58 761.25h8.33v4.17h-8.33zM1794.58 761.25h16.67v4.17h-16.67zM1777.92 777.92h16.67v4.17h-16.67zM1811.25 777.92h8.33v4.17h-8.33zM1769.58 794.58h8.33v4.17h-8.33zM1794.58 794.58h16.67v4.17h-16.67zM1777.92 811.25h16.67v4.17h-16.67zM1811.25 811.25h8.33v4.17h-8.33zM1769.58 827.92h8.33v4.17h-8.33zM1794.58 827.92h16.67v4.17h-16.67zM1777.92 844.58h16.67v4.17h-16.67zM1811.25 844.58h8.33v4.17h-8.33zM1769.58 861.25h8.33v4.17h-8.33zM1794.58 861.25h16.67v4.17h-16.67zM1777.92 877.92h16.67v4.17h-16.67zM1811.25 877.92h8.33v4.17h-8.33zM1911.25 644.58h4.17v16.67h-4.17zM1911.25 677.92h4.17v16.67h-4.17zM1911.25 711.25h4.17v16.67h-4.17zM1911.25 744.58h4.17v16.67h-4.17zM1911.25 777.92h4.17v16.67h-4.17zM1911.25 811.25h4.17v16.67h-4.17zM1911.25 844.58h4.17v16.67h-4.17zM1911.25 877.92h4.17v8.33h-4.17zM1927.92 636.25h4.17v8.33h-4.17zM1927.92 661.25h4.17v16.67h-4.17zM1927.92 694.58h4.17v16.67h-4.17zM1927.92 727.92h4.17v16.67h-4.17zM1927.92 761.25h4.17v16.67h-4.17zM1927.92 794.58h4.17v16.67h-4.17zM1927.92 827.92h4.17v16.67h-4.17zM1927.92 861.25h4.17v16.67h-4.17zM1944.58 644.58h4.17v16.67h-4.17zM1944.58 677.92h4.17v16.67h-4.17zM1944.58 711.25h4.17v16.67h-4.17zM1944.58 744.58h4.17v16.67h-4.17zM1944.58 777.92h4.17v16.67h-4.17zM1944.58 811.25h4.17v16.67h-4.17zM1944.58 844.58h4.17v16.67h-4.17zM1944.58 877.92h4.17v8.33h-4.17zM1982.08 586.25h12.5v4.17h-12.5zM2015.42 586.25h4.17v4.17h-4.17zM1986.25 590.42h12.5v4.17h-12.5zM1965.42 594.58h4.17v4.17h-4.17zM1990.42 594.58h12.5v4.17h-12.5zM1965.42 598.75h8.33v4.17h-8.33zM1994.58 598.75h12.5v4.17h-12.5zM1965.42 602.92h12.5v4.17h-12.5zM1998.75 602.92h12.5v4.17h-12.5zM1969.58 607.08h12.5v4.17h-12.5zM2002.92 607.08h12.5v4.17h-12.5zM1973.75 611.25h12.5v4.17h-12.5zM2007.08 611.25h12.5v4.17h-12.5zM1977.92 615.42h12.5v4.17h-12.5zM2011.25 615.42h8.33v4.17h-8.33zM1982.08 619.58h12.5v4.17h-12.5zM2015.42 619.58h4.17v4.17h-4.17zM1986.25 623.75h12.5v4.17h-12.5zM1965.42 627.92h4.17v4.17h-4.17zM1990.42 627.92h12.5v4.17h-12.5zM1965.42 632.08h8.33v4.17h-8.33zM1994.58 632.08h12.5v4.17h-12.5zM1965.42 636.25h12.5v4.17h-12.5zM1998.75 636.25h12.5v4.17h-12.5zM1969.58 640.42h12.5v4.17h-12.5zM2002.92 640.42h12.5v4.17h-12.5zM1973.75 644.58h12.5v4.17h-12.5zM2007.08 644.58h12.5v4.17h-12.5zM1977.92 648.75h12.5v4.17h-12.5zM2011.25 648.75h8.33v4.17h-8.33zM1982.08 652.92h12.5v4.17h-12.5zM2015.42 652.92h4.17v4.17h-4.17zM1986.25 657.08h12.5v4.17h-12.5zM1965.42 661.25h4.17v4.17h-4.17zM1990.42 661.25h12.5v4.17h-12.5zM1965.42 665.42h8.33v4.17h-8.33zM1994.58 665.42h12.5v4.17h-12.5zM1965.42 669.58h12.5v4.17h-12.5zM1998.75 669.58h12.5v4.17h-12.5zM1969.58 673.75h12.5v4.17h-12.5zM2002.92 673.75h12.5v4.17h-12.5zM1973.75 677.92h12.5v4.17h-12.5zM2007.08 677.92h12.5v4.17h-12.5zM1977.92 682.08h12.5v4.17h-12.5zM2011.25 682.08h8.33v4.17h-8.33zM1982.08 686.25h12.5v4.17h-12.5zM2015.42 686.25h4.17v4.17h-4.17zM1986.25 690.42h12.5v4.17h-12.5zM1965.42 694.58h4.17v4.17h-4.17zM1990.42 694.58h12.5v4.17h-12.5zM1965.42 698.75h8.33v4.17h-8.33zM1994.58 698.75h12.5v4.17h-12.5zM1965.42 702.92h12.5v4.17h-12.5zM1998.75 702.92h12.5v4.17h-12.5zM1969.58 707.08h12.5v4.17h-12.5zM2002.92 707.08h12.5v4.17h-12.5zM1973.75 711.25h12.5v4.17h-12.5zM2007.08 711.25h12.5v4.17h-12.5zM1977.92 715.42h12.5v4.17h-12.5zM2011.25 715.42h8.33v4.17h-8.33zM1982.08 719.58h12.5v4.17h-12.5zM2015.42 719.58h4.17v4.17h-4.17zM1986.25 723.75h12.5v4.17h-12.5zM1965.42 727.92h4.17v4.17h-4.17zM1990.42 727.92h12.5v4.17h-12.5zM1965.42 732.08h8.33v4.17h-8.33zM1994.58 732.08h12.5v4.17h-12.5zM1965.42 736.25h12.5v4.17h-12.5zM1998.75 736.25h12.5v4.17h-12.5zM1969.58 740.42h12.5v4.17h-12.5zM2002.92 740.42h12.5v4.17h-12.5zM1973.75 744.58h12.5v4.17h-12.5zM2007.08 744.58h12.5v4.17h-12.5zM1977.92 748.75h12.5v4.17h-12.5zM2011.25 748.75h8.33v4.17h-8.33zM1982.08 752.92h12.5v4.17h-12.5zM2015.42 752.92h4.17v4.17h-4.17zM1986.25 757.08h12.5v4.17h-12.5zM1965.42 761.25h4.17v4.17h-4.17zM1990.42 761.25h12.5v4.17h-12.5zM1965.42 765.42h8.33v4.17h-8.33zM1994.58 765.42h12.5v4.17h-12.5zM1965.42 769.58h12.5v4.17h-12.5zM1998.75 769.58h12.5v4.17h-12.5zM1969.58 773.75h12.5v4.17h-12.5zM2002.92 773.75h12.5v4.17h-12.5zM1973.75 777.92h12.5v4.17h-12.5zM2007.08 777.92h12.5v4.17h-12.5zM1977.92 782.08h12.5v4.17h-12.5zM2011.25 782.08h8.33v4.17h-8.33zM1982.08 786.25h12.5v4.17h-12.5zM2015.42 786.25h4.17v4.17h-4.17zM1986.25 790.42h12.5v4.17h-12.5zM1965.42 794.58h4.17v4.17h-4.17zM1990.42 794.58h12.5v4.17h-12.5zM1965.42 798.75h8.33v4.17h-8.33zM1994.58 798.75h12.5v4.17h-12.5zM1965.42 802.92h12.5v4.17h-12.5zM1998.75 802.92h12.5v4.17h-12.5zM1969.58 807.08h12.5v4.17h-12.5zM2002.92 807.08h12.5v4.17h-12.5zM1973.75 811.25h12.5v4.17h-12.5zM2007.08 811.25h12.5v4.17h-12.5zM1977.92 815.42h12.5v4.17h-12.5zM2011.25 815.42h8.33v4.17h-8.33zM1982.08 819.58h12.5v4.17h-12.5zM2015.42 819.58h4.17v4.17h-4.17zM1986.25 823.75h12.5v4.17h-12.5zM1965.42 827.92h4.17v4.17h-4.17zM1990.42 827.92h12.5v4.17h-12.5zM1965.42 832.08h8.33v4.17h-8.33zM1994.58 832.08h12.5v4.17h-12.5zM1965.42 836.25h12.5v4.17h-12.5zM1998.75 836.25h12.5v4.17h-12.5zM1969.58 840.42h12.5v4.17h-12.5zM2002.92 840.42h12.5v4.17h-12.5zM1973.75 844.58h12.5v4.17h-12.5zM2007.08 844.58h12.5v4.17h-12.5zM1977.92 848.75h12.5v4.17h-12.5zM2011.25 848.75h8.33v4.17h-8.33zM1982.08 852.92h12.5v4.17h-12.5zM2015.42 852.92h4.17v4.17h-4.17zM1986.25 857.08h12.5v4.17h-12.5zM1965.42 861.25h4.17v4.17h-4.17zM1990.42 861.25h12.5v4.17h-12.5zM1965.42 865.42h8.33v4.17h-8.33zM1994.58 865.42h12.5v4.17h-12.5zM1965.42 869.58h12.5v4.17h-12.5zM1998.75 869.58h12.5v4.17h-12.5zM1969.58 873.75h12.5v4.17h-12.5zM2002.92 873.75h12.5v4.17h-12.5zM1973.75 877.92h12.5v4.17h-12.5zM2007.08 877.92h12.5v4.17h-12.5zM1977.92 882.08h12.5v4.17h-12.5zM2011.25 882.08h8.33v4.17h-8.33zM2032.08 598.75h4.17v4.17h-4.17zM2052.92 598.75h4.17v4.17h-4.17zM2065.42 598.75h4.17v4.17h-4.17zM2036.25 602.92h4.17v4.17h-4.17zM2048.75 602.92h4.17v4.17h-4.17zM2069.58 602.92h4.17v4.17h-4.17zM2040.42 607.08h8.33v4.17h-8.33zM2073.75 607.08h4.17v4.17h-4.17zM2040.42 611.25h4.17v4.17h-4.17zM2073.75 611.25h4.17v4.17h-4.17zM2036.25 615.42h4.17v4.17h-4.17zM2069.58 615.42h4.17v4.17h-4.17zM2032.08 619.58h4.17v4.17h-4.17zM2065.42 619.58h4.17v4.17h-4.17zM2027.92 623.75h4.17v4.17h-4.17zM2061.25 623.75h4.17v4.17h-4.17zM2023.75 627.92h8.33v4.17h-8.33zM2057.08 627.92h8.33v4.17h-8.33zM2032.08 632.08h4.17v4.17h-4.17zM2052.92 632.08h4.17v4.17h-4.17zM2065.42 632.08h4.17v4.17h-4.17zM2036.25 636.25h4.17v4.17h-4.17zM2048.75 636.25h4.17v4.17h-4.17zM2069.58 636.25h4.17v4.17h-4.17zM2040.42 640.42h8.33v4.17h-8.33zM2073.75 640.42h4.17v4.17h-4.17zM2040.42 644.58h4.17v4.17h-4.17zM2073.75 644.58h4.17v4.17h-4.17zM2036.25 648.75h4.17v4.17h-4.17zM2069.58 648.75h4.17v4.17h-4.17zM2032.08 652.92h4.17v4.17h-4.17zM2065.42 652.92h4.17v4.17h-4.17zM2027.92 657.08h4.17v4.17h-4.17zM2061.25 657.08h4.17v4.17h-4.17zM2023.75 661.25h8.33v4.17h-8.33zM2057.08 661.25h8.33v4.17h-8.33zM2032.08 665.42h4.17v4.17h-4.17zM2052.92 665.42h4.17v4.17h-4.17zM2065.42 665.42h4.17v4.17h-4.17zM2036.25 669.58h4.17v4.17h-4.17zM2048.75 669.58h4.17v4.17h-4.17zM2069.58 669.58h4.17v4.17h-4.17zM2040.42 673.75h8.33v4.17h-8.33zM2073.75 673.75h4.17v4.17h-4.17zM2040.42 677.92h4.17v4.17h-4.17zM2073.75 677.92h4.17v4.17h-4.17zM2036.25 682.08h4.17v4.17h-4.17zM2069.58 682.08h4.17v4.17h-4.17zM2032.08 686.25h4.17v4.17h-4.17zM2065.42 686.25h4.17v4.17h-4.17zM2027.92 690.42h4.17v4.17h-4.17zM2061.25 690.42h4.17v4.17h-4.17zM2023.75 694.58h8.33v4.17h-8.33zM2057.08 694.58h8.33v4.17h-8.33zM2032.08 698.75h4.17v4.17h-4.17zM2052.92 698.75h4.17v4.17h-4.17zM2065.42 698.75h4.17v4.17h-4.17zM2036.25 702.92h4.17v4.17h-4.17zM2048.75 702.92h4.17v4.17h-4.17zM2069.58 702.92h4.17v4.17h-4.17zM2040.42 707.08h8.33v4.17h-8.33zM2073.75 707.08h4.17v4.17h-4.17zM2040.42 711.25h4.17v4.17h-4.17zM2073.75 711.25h4.17v4.17h-4.17zM2036.25 715.42h4.17v4.17h-4.17zM2069.58 715.42h4.17v4.17h-4.17zM2032.08 719.58h4.17v4.17h-4.17zM2065.42 719.58h4.17v4.17h-4.17zM2027.92 723.75h4.17v4.17h-4.17zM2061.25 723.75h4.17v4.17h-4.17zM2023.75 727.92h8.33v4.17h-8.33zM2057.08 727.92h8.33v4.17h-8.33zM2032.08 732.08h4.17v4.17h-4.17zM2052.92 732.08h4.17v4.17h-4.17zM2065.42 732.08h4.17v4.17h-4.17zM2036.25 736.25h4.17v4.17h-4.17zM2048.75 736.25h4.17v4.17h-4.17zM2069.58 736.25h4.17v4.17h-4.17zM2040.42 740.42h8.33v4.17h-8.33zM2073.75 740.42h4.17v4.17h-4.17zM2040.42 744.58h4.17v4.17h-4.17zM2073.75 744.58h4.17v4.17h-4.17zM2036.25 748.75h4.17v4.17h-4.17zM2069.58 748.75h4.17v4.17h-4.17zM2032.08 752.92h4.17v4.17h-4.17zM2065.42 752.92h4.17v4.17h-4.17zM2027.92 757.08h4.17v4.17h-4.17zM2061.25 757.08h4.17v4.17h-4.17zM2023.75 761.25h8.33v4.17h-8.33zM2057.08 761.25h8.33v4.17h-8.33zM2032.08 765.42h4.17v4.17h-4.17zM2052.92 765.42h4.17v4.17h-4.17zM2065.42 765.42h4.17v4.17h-4.17zM2036.25 769.58h4.17v4.17h-4.17zM2048.75 769.58h4.17v4.17h-4.17zM2069.58 769.58h4.17v4.17h-4.17zM2040.42 773.75h8.33v4.17h-8.33zM2073.75 773.75h4.17v4.17h-4.17zM2040.42 777.92h4.17v4.17h-4.17zM2073.75 777.92h4.17v4.17h-4.17zM2036.25 782.08h4.17v4.17h-4.17zM2069.58 782.08h4.17v4.17h-4.17zM2032.08 786.25h4.17v4.17h-4.17zM2065.42 786.25h4.17v4.17h-4.17zM2027.92 790.42h4.17v4.17h-4.17zM2061.25 790.42h4.17v4.17h-4.17zM2023.75 794.58h8.33v4.17h-8.33zM2057.08 794.58h8.33v4.17h-8.33zM2032.08 798.75h4.17v4.17h-4.17zM2052.92 798.75h4.17v4.17h-4.17zM2065.42 798.75h4.17v4.17h-4.17zM2036.25 802.92h4.17v4.17h-4.17zM2048.75 802.92h4.17v4.17h-4.17zM2069.58 802.92h4.17v4.17h-4.17zM2040.42 807.08h8.33v4.17h-8.33zM2073.75 807.08h4.17v4.17h-4.17zM2040.42 811.25h4.17v4.17h-4.17zM2073.75 811.25h4.17v4.17h-4.17zM2036.25 815.42h4.17v4.17h-4.17zM2069.58 815.42h4.17v4.17h-4.17zM2032.08 819.58h4.17v4.17h-4.17zM2065.42 819.58h4.17v4.17h-4.17zM2027.92 823.75h4.17v4.17h-4.17zM2061.25 823.75h4.17v4.17h-4.17zM2023.75 827.92h8.33v4.17h-8.33zM2057.08 827.92h8.33v4.17h-8.33zM2032.08 832.08h4.17v4.17h-4.17zM2052.92 832.08h4.17v4.17h-4.17zM2065.42 832.08h4.17v4.17h-4.17zM2036.25 836.25h4.17v4.17h-4.17zM2048.75 836.25h4.17v4.17h-4.17zM2069.58 836.25h4.17v4.17h-4.17zM2040.42 840.42h8.33v4.17h-8.33zM2073.75 840.42h4.17v4.17h-4.17zM2040.42 844.58h4.17v4.17h-4.17zM2073.75 844.58h4.17v4.17h-4.17zM2036.25 848.75h4.17v4.17h-4.17zM2069.58 848.75h4.17v4.17h-4.17zM2032.08 852.92h4.17v4.17h-4.17zM2065.42 852.92h4.17v4.17h-4.17zM2027.92 857.08h4.17v4.17h-4.17zM2061.25 857.08h4.17v4.17h-4.17zM2023.75 861.25h8.33v4.17h-8.33zM2057.08 861.25h8.33v4.17h-8.33zM2032.08 865.42h4.17v4.17h-4.17zM2052.92 865.42h4.17v4.17h-4.17zM2065.42 865.42h4.17v4.17h-4.17zM2036.25 869.58h4.17v4.17h-4.17zM2048.75 869.58h4.17v4.17h-4.17zM2069.58 869.58h4.17v4.17h-4.17zM2040.42 873.75h8.33v4.17h-8.33zM2073.75 873.75h4.17v4.17h-4.17zM2040.42 877.92h4.17v4.17h-4.17zM2073.75 877.92h4.17v4.17h-4.17zM2036.25 882.08h4.17v4.17h-4.17zM2069.58 882.08h4.17v4.17h-4.17zM2082.08 611.25h12.5v4.17h-12.5zM2111.25 611.25h16.67v4.17h-16.67zM2094.58 627.92h16.67v4.17h-16.67zM2127.92 627.92h8.33v4.17h-8.33zM2082.08 644.58h12.5v4.17h-12.5zM2111.25 644.58h16.67v4.17h-16.67zM2094.58 661.25h16.67v4.17h-16.67zM2127.92 661.25h8.33v4.17h-8.33zM2082.08 677.92h12.5v4.17h-12.5zM2111.25 677.92h16.67v4.17h-16.67zM2094.58 694.58h16.67v4.17h-16.67zM2127.92 694.58h8.33v4.17h-8.33zM2082.08 711.25h12.5v4.17h-12.5zM2111.25 711.25h16.67v4.17h-16.67zM2094.58 727.92h16.67v4.17h-16.67zM2127.92 727.92h8.33v4.17h-8.33zM2082.08 744.58h12.5v4.17h-12.5zM2111.25 744.58h16.67v4.17h-16.67zM2094.58 761.25h16.67v4.17h-16.67zM2127.92 761.25h8.33v4.17h-8.33zM2082.08 777.92h12.5v4.17h-12.5zM2111.25 777.92h16.67v4.17h-16.67zM2094.58 794.58h16.67v4.17h-16.67zM2127.92 794.58h8.33v4.17h-8.33zM2082.08 811.25h12.5v4.17h-12.5zM2111.25 811.25h16.67v4.17h-16.67zM2094.58 827.92h16.67v4.17h-16.67zM2127.92 827.92h8.33v4.17h-8.33zM2082.08 844.58h12.5v4.17h-12.5zM2111.25 844.58h16.67v4.17h-16.67zM2094.58 861.25h16.67v4.17h-16.67zM2127.92 861.25h8.33v4.17h-8.33zM2082.08 877.92h12.5v4.17h-12.5zM2111.25 877.92h16.67v4.17h-16.67zM344.58 144.58h4.17v16.67h-4.17zM361.25 136.25h4.17v8.33h-4.17zM361.25 161.25h4.17v4.17h-4.17zM377.92 144.58h4.17v16.67h-4.17zM394.58 136.25h4.17v8.33h-4.17zM394.58 161.25h4.17v4.17h-4.17zM411.25 144.58h4.17v16.67h-4.17zM427.92 136.25h4.17v8.33h-4.17zM427.92 161.25h4.17v4.17h-4.17zM344.58 248.75h12.5v4.17h-12.5zM377.92 248.75h12.5v4.17h-12.5zM411.25 248.75h12.5v4.17h-12.5zM348.75 252.92h12.5v4.17h-12.5zM382.08 252.92h12.5v4.17h-12.5zM415.42 252.92h12.5v4.17h-12.5zM352.92 257.08h12.5v4.17h-12.5zM386.25 257.08h12.5v4.17h-12.5zM419.58 257.08h12.5v4.17h-12.5zM357.08 261.25h12.5v4.17h-12.5zM390.42 261.25h12.5v4.17h-12.5zM423.75 261.25h12.5v4.17h-12.5zM361.25 265.42h12.5v4.17h-12.5zM394.58 265.42h12.5v4.17h-12.5zM427.92 265.42h12.5v4.17h-12.5zM340.42 269.58h4.17v4.17h-4.17zM365.42 269.58h12.5v4.17h-12.5zM398.75 269.58h12.5v4.17h-12.5zM432.08 269.58h12.5v4.17h-12.5zM340.42 273.75h8.33v4.17h-8.33zM369.58 273.75h12.5v4.17h-12.5zM402.92 273.75h12.5v4.17h-12.5zM436.25 273.75h8.33v4.17h-8.33zM357.08 361.25h8.33v4.17h-8.33zM390.42 361.25h8.33v4.17h-8.33zM423.75 361.25h8.33v4.17h-8.33zM352.92 365.42h4.17v4.17h-4.17zM365.42 365.42h4.17v4.17h-4.17zM386.25 365.42h4.17v4.17h-4.17zM398.75 365.42h4.17v4.17h-4.17zM419.58 365.42h4.17v4.17h-4.17zM432.08 365.42h4.17v4.17h-4.17zM348.75 369.58h4.17v4.17h-4.17zM369.58 369.58h4.17v4.17h-4.17zM382.08 369.58h4.17v4.17h-4.17zM402.92 369.58h4.17v4.17h-4.17zM415.42 369.58h4.17v4.17h-4.17zM436.25 369.58h4.17v4.17h-4.17zM340.42 373.75h8.33v4.17h-8.33zM373.75 373.75h8.33v4.17h-8.33zM407.08 373.75h8.33v4.17h-8.33zM440.42 373.75h4.17v4.17h-4.17zM340.42 377.92h4.17v4.17h-4.17zM373.75 377.92h4.17v4.17h-4.17zM407.08 377.92h4.17v4.17h-4.17zM440.42 377.92h4.17v4.17h-4.17zM369.58 382.08h4.17v4.17h-4.17zM402.92 382.08h4.17v4.17h-4.17zM436.25 382.08h4.17v4.17h-4.17zM365.42 386.25h4.17v4.17h-4.17zM398.75 386.25h4.17v4.17h-4.17zM432.08 386.25h4.17v4.17h-4.17zM344.58 477.92h16.67v4.17h-16.67zM377.92 477.92h16.67v4.17h-16.67zM411.25 477.92h16.67v4.17h-16.67zM340.42 494.58h4.17v4.17h-4.17zM361.25 494.58h16.67v4.17h-16.67zM394.58 494.58h16.67v4.17h-16.67zM427.92 494.58h16.67v4.17h-16.67z"/>
<text y="85.5" font-size="52.2" font-family='"Liberation Sans", sans-serif' fill="#111" stroke="#111" stroke-width="0.5"><tspan x="119.27" textLength="108.39" lengthAdjust="spacingAndGlyphs">0.60</tspan></text>
<text y="223" font-size="52.2" font-family='"Liberation Sans", sans-serif' fill="#111" stroke="#111" stroke-width="0.5"><tspan x="119.27" textLength="108.39" lengthAdjust="spacingAndGlyphs">0.50</tspan></text>
<text y="356.1" font-size="52.2" font-family='"Liberation Sans", sans-serif' fill="#111" stroke="#111" stroke-width="0.5"><tspan x="119.27" textLength="108.39" lengthAdjust="spacingAndGlyphs">0.40</tspan></text>
<text y="493.8" font-size="52.2" font-family='"Liberation Sans", sans-serif' fill="#111" stroke="#111" stroke-width="0.5"><tspan x="119.27" textLength="108.39" lengthAdjust="spacingAndGlyphs">0.30</tspan></text>
<text y="631.2" font-size="52.2" font-family='"Liberation Sans", sans-serif' fill="#111" stroke="#111" stroke-width="0.5"><tspan x="119.27" textLength="108.39" lengthAdjust="spacingAndGlyphs">0.20</tspan></text>
<text y="769" font-size="52.2" font-family='"Liberation Sans", sans-serif' fill="#111" stroke="#111" stroke-width="0.5"><tspan x="119.27" textLength="108.39" lengthAdjust="spacingAndGlyphs">0.10</tspan></text>
<text y="906.1" font-size="52.2" font-family='"Liberation Sans", sans-serif' fill="#111" stroke="#111" stroke-width="0.5"><tspan x="119.27" textLength="108.39" lengthAdjust="spacingAndGlyphs">0.00</tspan></text>
<text y="181.7" font-size="52.2" font-family='"Liberation Sans", sans-serif' fill="#111" stroke="#111" stroke-width="0.7"><tspan x="456.89" textLength="87.12" lengthAdjust="spacingAndGlyphs">280</tspan><tspan x="544.58" textLength="61.54" lengthAdjust="spacingAndGlyphs" stroke-width="0.1" font-family='"Liberation Sans", "Noto Sans CJK SC", sans-serif' font-size="59.4">℃</tspan></text>
<text y="298.25" font-size="52.2" font-family='"Liberation Sans", sans-serif' fill="#111" stroke="#111" stroke-width="0.7"><tspan x="457.56" textLength="86.44" lengthAdjust="spacingAndGlyphs">300</tspan><tspan x="544.58" textLength="61.54" lengthAdjust="spacingAndGlyphs" stroke-width="0.1" font-family='"Liberation Sans", "Noto Sans CJK SC", sans-serif' font-size="59.4">℃</tspan></text>
<text y="410.75" font-size="52.2" font-family='"Liberation Sans", sans-serif' fill="#111" stroke="#111" stroke-width="0.7"><tspan x="457.56" textLength="86.44" lengthAdjust="spacingAndGlyphs">320</tspan><tspan x="544.58" textLength="61.54" lengthAdjust="spacingAndGlyphs" stroke-width="0.1" font-family='"Liberation Sans", "Noto Sans CJK SC", sans-serif' font-size="59.4">℃</tspan></text>
<text y="523.25" font-size="52.2" font-family='"Liberation Sans", sans-serif' fill="#111" stroke="#111" stroke-width="0.7"><tspan x="457.56" textLength="86.44" lengthAdjust="spacingAndGlyphs">340</tspan><tspan x="544.58" textLength="61.54" lengthAdjust="spacingAndGlyphs" stroke-width="0.1" font-family='"Liberation Sans", "Noto Sans CJK SC", sans-serif' font-size="59.4">℃</tspan></text>
<text y="985.5" font-size="52.2" font-family='"Liberation Sans", sans-serif' fill="#111" stroke="#111" stroke-width="0.2"><tspan x="297.82" textLength="96.99" lengthAdjust="spacingAndGlyphs">STD</tspan> <tspan x="406.36" textLength="205.99" lengthAdjust="spacingAndGlyphs">solution</tspan></text>
<text y="985.5" font-size="52.2" font-family='"Liberation Sans", sans-serif' fill="#111" stroke="#111" stroke-width="0.2"><tspan x="626.27" textLength="162.43" lengthAdjust="spacingAndGlyphs">Brown</tspan> <tspan x="802.13" textLength="95.98" lengthAdjust="spacingAndGlyphs">rice</tspan></text>
<text y="985.5" font-size="52.2" font-family='"Liberation Sans", sans-serif' fill="#111" stroke="#111" stroke-width="0.2"><tspan x="1022.97" textLength="109.9" lengthAdjust="spacingAndGlyphs">Rice</tspan></text>
<text y="985.5" font-size="52.2" font-family='"Liberation Sans", sans-serif' fill="#111" stroke="#111" stroke-width="0.2"><tspan x="1312.72" textLength="164.22" lengthAdjust="spacingAndGlyphs">Wheat</tspan></text>
<text y="985.5" font-size="52.2" font-family='"Liberation Sans", sans-serif' fill="#111" stroke="#111" stroke-width="0.2"><tspan x="1643.75" textLength="131.16" lengthAdjust="spacingAndGlyphs">Flour</tspan></text>
<text y="985.5" font-size="52.2" font-family='"Liberation Sans", sans-serif' fill="#111" stroke="#111" stroke-width="0.2"><tspan x="1947.17" textLength="156.33" lengthAdjust="spacingAndGlyphs">Maize</tspan></text>
<text y="1077.2" font-size="52.2" font-family='"Liberation Sans", sans-serif' fill="#111" stroke="#111" stroke-width="0.2"><tspan x="1150.43" textLength="167.32" lengthAdjust="spacingAndGlyphs">Matrix</tspan></text>
<text y="1179.8" font-size="71.5" font-family='"Liberation Sans", sans-serif' fill="#111" stroke="#111" stroke-width="0.2"><tspan x="1148.75" textLength="24.76" lengthAdjust="spacingAndGlyphs" y="1179.8">(</tspan><tspan x="1174.24" textLength="36.18" lengthAdjust="spacingAndGlyphs" y="1181.4" font-size="76.3">a</tspan><tspan x="1215.66" textLength="24.13" lengthAdjust="spacingAndGlyphs" y="1179.8">)</tspan></text>
<text transform="translate(86 0) rotate(-90)" y="0" font-size="66.5" font-family='"Liberation Serif", serif' fill="#282828"><tspan x="-680.14" textLength="76.93" lengthAdjust="spacingAndGlyphs">Cd</tspan> <tspan x="-586.63" textLength="302.76" lengthAdjust="spacingAndGlyphs">Absorbance</tspan></text>
</g>
<g id="chart-b">
<path class="ink" d="M302.92 1394.58h1850v4.17h-1850zM302.92 2290.42h1850v4.17h-1850zM302.92 1394.58h4.17v900h-4.17zM2148.75 1394.58h4.17v900h-4.17zM302.92 1544.58h25v4.17h-25zM302.92 1690.42h25v4.17h-25zM302.92 1840.42h25v4.17h-25zM302.92 1990.42h25v4.17h-25zM302.92 2140.42h25v4.17h-25zM611.25 2275h4.17v15.42h-4.17zM919.58 2275h4.17v15.42h-4.17zM1223.75 2275h4.17v15.42h-4.17zM1532.08 2275h4.17v15.42h-4.17zM1840.42 2275h4.17v15.42h-4.17zM344.58 2157.08h58.33v4.17h-58.33zM344.58 2157.08h4.17v133.33h-4.17zM398.75 2157.08h4.17v133.33h-4.17zM398.75 2144.58h62.5v4.17h-62.5zM398.75 2144.58h4.17v145.83h-4.17zM457.08 2144.58h4.17v145.83h-4.17zM457.08 2165.42h58.33v4.17h-58.33zM457.08 2165.42h4.17v125h-4.17zM511.25 2165.42h4.17v125h-4.17zM511.25 2152.92h62.5v4.17h-62.5zM511.25 2152.92h4.17v137.5h-4.17zM569.58 2152.92h4.17v137.5h-4.17zM540.42 2144.58h4.17v16.67h-4.17zM529.17 2144.58h26.67v4.17h-26.67zM529.17 2157.08h26.67v4.17h-26.67zM652.92 1911.25h58.33v4.17h-58.33zM652.92 1911.25h4.17v379.17h-4.17zM707.08 1911.25h4.17v379.17h-4.17zM707.08 1907.08h62.5v4.17h-62.5zM707.08 1907.08h4.17v383.33h-4.17zM765.42 1907.08h4.17v383.33h-4.17zM765.42 1902.92h58.33v4.17h-58.33zM765.42 1902.92h4.17v387.5h-4.17zM819.58 1902.92h4.17v387.5h-4.17zM819.58 1877.92h62.5v4.17h-62.5zM819.58 1877.92h4.17v412.5h-4.17zM877.92 1877.92h4.17v412.5h-4.17zM682.08 1869.58h4.17v87.5h-4.17zM670.83 1869.58h26.67v4.17h-26.67zM670.83 1952.92h26.67v4.17h-26.67zM736.25 1861.25h4.17v91.67h-4.17zM725 1861.25h26.67v4.17h-26.67zM725 1948.75h26.67v4.17h-26.67zM790.42 1857.08h4.17v100h-4.17zM779.17 1857.08h26.67v4.17h-26.67zM779.17 1952.92h26.67v4.17h-26.67zM848.75 1865.42h4.17v29.17h-4.17zM837.5 1865.42h26.67v4.17h-26.67zM837.5 1890.42h26.67v4.17h-26.67zM961.25 1915.42h58.33v4.17h-58.33zM961.25 1915.42h4.17v375h-4.17zM1015.42 1915.42h4.17v375h-4.17zM1015.42 1927.92h62.5v4.17h-62.5zM1015.42 1927.92h4.17v362.5h-4.17zM1073.75 1927.92h4.17v362.5h-4.17zM1073.75 1882.08h58.33v4.17h-58.33zM1073.75 1882.08h4.17v408.33h-4.17zM1127.92 1882.08h4.17v408.33h-4.17zM1127.92 1898.75h58.33v4.17h-58.33zM1127.92 1898.75h4.17v391.67h-4.17zM1182.08 1898.75h4.17v391.67h-4.17zM986.25 1865.42h4.17v100h-4.17zM975 1865.42h26.67v4.17h-26.67zM975 1961.25h26.67v4.17h-26.67zM1044.58 1882.08h4.17v95.83h-4.17zM1033.33 1882.08h26.67v4.17h-26.67zM1033.33 1973.75h26.67v4.17h-26.67zM1098.75 1832.08h4.17v104.17h-4.17zM1087.5 1832.08h26.67v4.17h-26.67zM1087.5 1932.08h26.67v4.17h-26.67zM1157.08 1894.58h4.17v16.67h-4.17zM1145.83 1894.58h26.67v4.17h-26.67zM1145.83 1907.08h26.67v4.17h-26.67zM1269.58 1877.92h58.33v4.17h-58.33zM1269.58 1877.92h4.17v412.5h-4.17zM1323.75 1877.92h4.17v412.5h-4.17zM1323.75 1873.75h58.33v4.17h-58.33zM1323.75 1873.75h4.17v416.67h-4.17zM1377.92 1873.75h4.17v416.67h-4.17zM1377.92 1911.25h62.5v4.17h-62.5zM1377.92 1911.25h4.17v379.17h-4.17zM1436.25 1911.25h4.17v379.17h-4.17zM1436.25 1882.08h58.33v4.17h-58.33zM1436.25 1882.08h4.17v408.33h-4.17zM1490.42 1882.08h4.17v408.33h-4.17zM1294.58 1848.75h4.17v62.5h-4.17zM1283.33 1848.75h26.67v4.17h-26.67zM1283.33 1907.08h26.67v4.17h-26.67zM1352.92 1840.42h4.17v66.67h-4.17zM1341.67 1840.42h26.67v4.17h-26.67zM1341.67 1902.92h26.67v4.17h-26.67zM1407.08 1882.08h4.17v62.5h-4.17zM1395.83 1882.08h26.67v4.17h-26.67zM1395.83 1940.42h26.67v4.17h-26.67zM1461.25 1873.75h4.17v25h-4.17zM1450 1873.75h26.67v4.17h-26.67zM1450 1894.58h26.67v4.17h-26.67zM1573.75 1902.92h62.5v4.17h-62.5zM1573.75 1902.92h4.17v387.5h-4.17zM1632.08 1902.92h4.17v387.5h-4.17zM1632.08 1902.92h58.33v4.17h-58.33zM1632.08 1902.92h4.17v387.5h-4.17zM1686.25 1902.92h4.17v387.5h-4.17zM1686.25 1890.42h62.5v4.17h-62.5zM1686.25 1890.42h4.17v400h-4.17zM1744.58 1890.42h4.17v400h-4.17zM1744.58 1873.75h58.33v4.17h-58.33zM1744.58 1873.75h4.17v416.67h-4.17zM1798.75 1873.75h4.17v416.67h-4.17zM1602.92 1865.42h4.17v75h-4.17zM1591.67 1865.42h26.67v4.17h-26.67zM1591.67 1936.25h26.67v4.17h-26.67zM1657.08 1865.42h4.17v75h-4.17zM1645.83 1865.42h26.67v4.17h-26.67zM1645.83 1936.25h26.67v4.17h-26.67zM1715.42 1852.92h4.17v79.17h-4.17zM1704.17 1852.92h26.67v4.17h-26.67zM1704.17 1927.92h26.67v4.17h-26.67zM1769.58 1869.58h4.17v12.5h-4.17zM1758.33 1869.58h26.67v4.17h-26.67zM1758.33 1877.92h26.67v4.17h-26.67zM1882.08 1873.75h62.5v4.17h-62.5zM1882.08 1873.75h4.17v416.67h-4.17zM1940.42 1873.75h4.17v416.67h-4.17zM1940.42 1865.42h58.33v4.17h-58.33zM1940.42 1865.42h4.17v425h-4.17zM1994.58 1865.42h4.17v425h-4.17zM1994.58 1894.58h58.33v4.17h-58.33zM1994.58 1894.58h4.17v395.83h-4.17zM2048.75 1894.58h4.17v395.83h-4.17zM2048.75 1873.75h62.5v4.17h-62.5zM2048.75 1873.75h4.17v416.67h-4.17zM2107.08 1873.75h4.17v416.67h-4.17zM1911.25 1815.42h4.17v120.83h-4.17zM1900 1815.42h26.67v4.17h-26.67zM1900 1932.08h26.67v4.17h-26.67zM1965.42 1807.08h4.17v116.67h-4.17zM1954.17 1807.08h26.67v4.17h-26.67zM1954.17 1919.58h26.67v4.17h-26.67zM2023.75 1836.25h4.17v116.67h-4.17zM2012.5 1836.25h26.67v4.17h-26.67zM2012.5 1948.75h26.67v4.17h-26.67zM2077.92 1865.42h4.17v16.67h-4.17zM2066.67 1865.42h26.67v4.17h-26.67zM2066.67 1877.92h26.67v4.17h-26.67zM352.92 1548.75h108.33v4.17h-108.33zM352.92 1582.08h108.33v4.17h-108.33zM352.92 1548.75h4.17v37.5h-4.17zM457.08 1548.75h4.17v37.5h-4.17zM352.92 1661.25h108.33v4.17h-108.33zM352.92 1694.58h108.33v4.17h-108.33zM352.92 1661.25h4.17v37.5h-4.17zM457.08 1661.25h4.17v37.5h-4.17zM352.92 1773.75h108.33v4.17h-108.33zM352.92 1807.08h108.33v4.17h-108.33zM352.92 1773.75h4.17v37.5h-4.17zM457.08 1773.75h4.17v37.5h-4.17zM352.92 1886.25h108.33v4.17h-108.33zM352.92 1919.58h108.33v4.17h-108.33zM352.92 1886.25h4.17v37.5h-4.17zM457.08 1886.25h4.17v37.5h-4.17zM352.92 2161.25h4.17v16.67h-4.17zM352.92 2194.58h4.17v16.67h-4.17zM352.92 2227.92h4.17v16.67h-4.17zM352.92 2261.25h4.17v16.67h-4.17zM369.58 2177.92h4.17v16.67h-4.17zM369.58 2211.25h4.17v16.67h-4.17zM369.58 2244.58h4.17v16.67h-4.17zM369.58 2277.92h4.17v12.5h-4.17zM386.25 2161.25h4.17v16.67h-4.17zM386.25 2194.58h4.17v16.67h-4.17zM386.25 2227.92h4.17v16.67h-4.17zM386.25 2261.25h4.17v16.67h-4.17zM402.92 2148.75h12.5v4.17h-12.5zM436.25 2148.75h12.5v4.17h-12.5zM407.08 2152.92h12.5v4.17h-12.5zM440.42 2152.92h12.5v4.17h-12.5zM411.25 2157.08h12.5v4.17h-12.5zM444.58 2157.08h12.5v4.17h-12.5zM415.42 2161.25h12.5v4.17h-12.5zM448.75 2161.25h8.33v4.17h-8.33zM419.58 2165.42h12.5v4.17h-12.5zM452.92 2165.42h4.17v4.17h-4.17zM423.75 2169.58h12.5v4.17h-12.5zM402.92 2173.75h4.17v4.17h-4.17zM427.92 2173.75h12.5v4.17h-12.5zM402.92 2177.92h8.33v4.17h-8.33zM432.08 2177.92h12.5v4.17h-12.5zM402.92 2182.08h12.5v4.17h-12.5zM436.25 2182.08h12.5v4.17h-12.5zM407.08 2186.25h12.5v4.17h-12.5zM440.42 2186.25h12.5v4.17h-12.5zM411.25 2190.42h12.5v4.17h-12.5zM444.58 2190.42h12.5v4.17h-12.5zM415.42 2194.58h12.5v4.17h-12.5zM448.75 2194.58h8.33v4.17h-8.33zM419.58 2198.75h12.5v4.17h-12.5zM452.92 2198.75h4.17v4.17h-4.17zM423.75 2202.92h12.5v4.17h-12.5zM402.92 2207.08h4.17v4.17h-4.17zM427.92 2207.08h12.5v4.17h-12.5zM402.92 2211.25h8.33v4.17h-8.33zM432.08 2211.25h12.5v4.17h-12.5zM402.92 2215.42h12.5v4.17h-12.5zM436.25 2215.42h12.5v4.17h-12.5zM407.08 2219.58h12.5v4.17h-12.5zM440.42 2219.58h12.5v4.17h-12.5zM411.25 2223.75h12.5v4.17h-12.5zM444.58 2223.75h12.5v4.17h-12.5zM415.42 2227.92h12.5v4.17h-12.5zM448.75 2227.92h8.33v4.17h-8.33zM419.58 2232.08h12.5v4.17h-12.5zM452.92 2232.08h4.17v4.17h-4.17zM423.75 2236.25h12.5v4.17h-12.5zM402.92 2240.42h4.17v4.17h-4.17zM427.92 2240.42h12.5v4.17h-12.5zM402.92 2244.58h8.33v4.17h-8.33zM432.08 2244.58h12.5v4.17h-12.5zM402.92 2248.75h12.5v4.17h-12.5zM436.25 2248.75h12.5v4.17h-12.5zM407.08 2252.92h12.5v4.17h-12.5zM440.42 2252.92h12.5v4.17h-12.5zM411.25 2257.08h12.5v4.17h-12.5zM444.58 2257.08h12.5v4.17h-12.5zM415.42 2261.25h12.5v4.17h-12.5zM448.75 2261.25h8.33v4.17h-8.33zM419.58 2265.42h12.5v4.17h-12.5zM452.92 2265.42h4.17v4.17h-4.17zM423.75 2269.58h12.5v4.17h-12.5zM402.92 2273.75h4.17v4.17h-4.17zM427.92 2273.75h12.5v4.17h-12.5zM402.92 2277.92h8.33v4.17h-8.33zM432.08 2277.92h12.5v4.17h-12.5zM402.92 2282.08h12.5v4.17h-12.5zM436.25 2282.08h12.5v4.17h-12.5zM407.08 2286.25h12.5v4.17h-12.5zM440.42 2286.25h12.5v4.17h-12.5zM461.25 2169.58h4.17v4.17h-4.17zM473.75 2169.58h4.17v4.17h-4.17zM494.58 2169.58h4.17v4.17h-4.17zM507.08 2169.58h4.17v4.17h-4.17zM465.42 2173.75h8.33v4.17h-8.33zM498.75 2173.75h8.33v4.17h-8.33zM465.42 2177.92h4.17v4.17h-4.17zM498.75 2177.92h4.17v4.17h-4.17zM461.25 2182.08h4.17v4.17h-4.17zM494.58 2182.08h4.17v4.17h-4.17zM490.42 2186.25h4.17v4.17h-4.17zM486.25 2190.42h4.17v4.17h-4.17zM482.08 2194.58h8.33v4.17h-8.33zM477.92 2198.75h4.17v4.17h-4.17zM490.42 2198.75h4.17v4.17h-4.17zM461.25 2202.92h4.17v4.17h-4.17zM473.75 2202.92h4.17v4.17h-4.17zM494.58 2202.92h4.17v4.17h-4.17zM507.08 2202.92h4.17v4.17h-4.17zM465.42 2207.08h8.33v4.17h-8.33zM498.75 2207.08h8.33v4.17h-8.33zM465.42 2211.25h4.17v4.17h-4.17zM498.75 2211.25h4.17v4.17h-4.17zM461.25 2215.42h4.17v4.17h-4.17zM494.58 2215.42h4.17v4.17h-4.17zM490.42 2219.58h4.17v4.17h-4.17zM486.25 2223.75h4.17v4.17h-4.17zM482.08 2227.92h8.33v4.17h-8.33zM477.92 2232.08h4.17v4.17h-4.17zM490.42 2232.08h4.17v4.17h-4.17zM461.25 2236.25h4.17v4.17h-4.17zM473.75 2236.25h4.17v4.17h-4.17zM494.58 2236.25h4.17v4.17h-4.17zM507.08 2236.25h4.17v4.17h-4.17zM465.42 2240.42h8.33v4.17h-8.33zM498.75 2240.42h8.33v4.17h-8.33zM465.42 2244.58h4.17v4.17h-4.17zM498.75 2244.58h4.17v4.17h-4.17zM461.25 2248.75h4.17v4.17h-4.17zM494.58 2248.75h4.17v4.17h-4.17zM490.42 2252.92h4.17v4.17h-4.17zM486.25 2257.08h4.17v4.17h-4.17zM482.08 2261.25h8.33v4.17h-8.33zM477.92 2265.42h4.17v4.17h-4.17zM490.42 2265.42h4.17v4.17h-4.17zM461.25 2269.58h4.17v4.17h-4.17zM473.75 2269.58h4.17v4.17h-4.17zM494.58 2269.58h4.17v4.17h-4.17zM507.08 2269.58h4.17v4.17h-4.17zM465.42 2273.75h8.33v4.17h-8.33zM498.75 2273.75h8.33v4.17h-8.33zM465.42 2277.92h4.17v4.17h-4.17zM498.75 2277.92h4.17v4.17h-4.17zM461.25 2282.08h4.17v4.17h-4.17zM494.58 2282.08h4.17v4.17h-4.17zM490.42 2286.25h4.17v4.17h-4.17zM519.58 2161.25h16.67v4.17h-16.67zM552.92 2161.25h16.67v4.17h-16.67zM515.42 2177.92h4.17v4.17h-4.17zM536.25 2177.92h16.67v4.17h-16.67zM519.58 2194.58h16.67v4.17h-16.67zM552.92 2194.58h16.67v4.17h-16.67zM515.42 2211.25h4.17v4.17h-4.17zM536.25 2211.25h16.67v4.17h-16.67zM519.58 2227.92h16.67v4.17h-16.67zM552.92 2227.92h16.67v4.17h-16.67zM515.42 2244.58h4.17v4.17h-4.17zM536.25 2244.58h16.67v4.17h-16.67zM519.58 2261.25h16.67v4.17h-16.67zM552.92 2261.25h16.67v4.17h-16.67zM515.42 2277.92h4.17v4.17h-4.17zM536.25 2277.92h16.67v4.17h-16.67zM669.58 1915.42h4.17v12.5h-4.17zM669.58 1944.58h4.17v16.67h-4.17zM669.58 1977.92h4.17v16.67h-4.17zM669.58 2011.25h4.17v16.67h-4.17zM669.58 2044.58h4.17v16.67h-4.17zM669.58 2077.92h4.17v16.67h-4.17zM669.58 2111.25h4.17v16.67h-4.17zM669.58 2144.58h4.17v16.67h-4.17zM669.58 2177.92h4.17v16.67h-4.17zM669.58 2211.25h4.17v16.67h-4.17zM669.58 2244.58h4.17v16.67h-4.17zM669.58 2277.92h4.17v12.5h-4.17zM686.25 1927.92h4.17v16.67h-4.17zM686.25 1961.25h4.17v16.67h-4.17zM686.25 1994.58h4.17v16.67h-4.17zM686.25 2027.92h4.17v16.67h-4.17zM686.25 2061.25h4.17v16.67h-4.17zM686.25 2094.58h4.17v16.67h-4.17zM686.25 2127.92h4.17v16.67h-4.17zM686.25 2161.25h4.17v16.67h-4.17zM686.25 2194.58h4.17v16.67h-4.17zM686.25 2227.92h4.17v16.67h-4.17zM686.25 2261.25h4.17v16.67h-4.17zM702.92 1915.42h4.17v12.5h-4.17zM702.92 1944.58h4.17v16.67h-4.17zM702.92 1977.92h4.17v16.67h-4.17zM702.92 2011.25h4.17v16.67h-4.17zM702.92 2044.58h4.17v16.67h-4.17zM702.92 2077.92h4.17v16.67h-4.17zM702.92 2111.25h4.17v16.67h-4.17zM702.92 2144.58h4.17v16.67h-4.17zM702.92 2177.92h4.17v16.67h-4.17zM702.92 2211.25h4.17v16.67h-4.17zM702.92 2244.58h4.17v16.67h-4.17zM702.92 2277.92h4.17v12.5h-4.17zM732.08 1911.25h12.5v4.17h-12.5zM711.25 1915.42h4.17v4.17h-4.17zM736.25 1915.42h12.5v4.17h-12.5zM711.25 1919.58h8.33v4.17h-8.33zM740.42 1919.58h12.5v4.17h-12.5zM711.25 1923.75h12.5v4.17h-12.5zM744.58 1923.75h12.5v4.17h-12.5zM715.42 1927.92h12.5v4.17h-12.5zM748.75 1927.92h12.5v4.17h-12.5zM719.58 1932.08h12.5v4.17h-12.5zM752.92 1932.08h12.5v4.17h-12.5zM723.75 1936.25h12.5v4.17h-12.5zM757.08 1936.25h8.33v4.17h-8.33zM727.92 1940.42h12.5v4.17h-12.5zM761.25 1940.42h4.17v4.17h-4.17zM732.08 1944.58h12.5v4.17h-12.5zM711.25 1948.75h4.17v4.17h-4.17zM736.25 1948.75h12.5v4.17h-12.5zM711.25 1952.92h8.33v4.17h-8.33zM740.42 1952.92h12.5v4.17h-12.5zM711.25 1957.08h12.5v4.17h-12.5zM744.58 1957.08h12.5v4.17h-12.5zM715.42 1961.25h12.5v4.17h-12.5zM748.75 1961.25h12.5v4.17h-12.5zM719.58 1965.42h12.5v4.17h-12.5zM752.92 1965.42h12.5v4.17h-12.5zM723.75 1969.58h12.5v4.17h-12.5zM757.08 1969.58h8.33v4.17h-8.33zM727.92 1973.75h12.5v4.17h-12.5zM761.25 1973.75h4.17v4.17h-4.17zM732.08 1977.92h12.5v4.17h-12.5zM711.25 1982.08h4.17v4.17h-4.17zM736.25 1982.08h12.5v4.17h-12.5zM711.25 1986.25h8.33v4.17h-8.33zM740.42 1986.25h12.5v4.17h-12.5zM711.25 1990.42h12.5v4.17h-12.5zM744.58 1990.42h12.5v4.17h-12.5zM715.42 1994.58h12.5v4.17h-12.5zM748.75 1994.58h12.5v4.17h-12.5zM719.58 1998.75h12.5v4.17h-12.5zM752.92 1998.75h12.5v4.17h-12.5zM723.75 2002.92h12.5v4.17h-12.5zM757.08 2002.92h8.33v4.17h-8.33zM727.92 2007.08h12.5v4.17h-12.5zM761.25 2007.08h4.17v4.17h-4.17zM732.08 2011.25h12.5v4.17h-12.5zM711.25 2015.42h4.17v4.17h-4.17zM736.25 2015.42h12.5v4.17h-12.5zM711.25 2019.58h8.33v4.17h-8.33zM740.42 2019.58h12.5v4.17h-12.5zM711.25 2023.75h12.5v4.17h-12.5zM744.58 2023.75h12.5v4.17h-12.5zM715.42 2027.92h12.5v4.17h-12.5zM748.75 2027.92h12.5v4.17h-12.5zM719.58 2032.08h12.5v4.17h-12.5zM752.92 2032.08h12.5v4.17h-12.5zM723.75 2036.25h12.5v4.17h-12.5zM757.08 2036.25h8.33v4.17h-8.33zM727.92 2040.42h12.5v4.17h-12.5zM761.25 2040.42h4.17v4.17h-4.17zM732.08 2044.58h12.5v4.17h-12.5zM711.25 2048.75h4.17v4.17h-4.17zM736.25 2048.75h12.5v4.17h-12.5zM711.25 2052.92h8.33v4.17h-8.33zM740.42 2052.92h12.5v4.17h-12.5zM711.25 2057.08h12.5v4.17h-12.5zM744.58 2057.08h12.5v4.17h-12.5zM715.42 2061.25h12.5v4.17h-12.5zM748.75 2061.25h12.5v4.17h-12.5zM719.58 2065.42h12.5v4.17h-12.5zM752.92 2065.42h12.5v4.17h-12.5zM723.75 2069.58h12.5v4.17h-12.5zM757.08 2069.58h8.33v4.17h-8.33zM727.92 2073.75h12.5v4.17h-12.5zM761.25 2073.75h4.17v4.17h-4.17zM732.08 2077.92h12.5v4.17h-12.5zM711.25 2082.08h4.17v4.17h-4.17zM736.25 2082.08h12.5v4.17h-12.5zM711.25 2086.25h8.33v4.17h-8.33zM740.42 2086.25h12.5v4.17h-12.5zM711.25 2090.42h12.5v4.17h-12.5zM744.58 2090.42h12.5v4.17h-12.5zM715.42 2094.58h12.5v4.17h-12.5zM748.75 2094.58h12.5v4.17h-12.5zM719.58 2098.75h12.5v4.17h-12.5zM752.92 2098.75h12.5v4.17h-12.5zM723.75 2102.92h12.5v4.17h-12.5zM757.08 2102.92h8.33v4.17h-8.33zM727.92 2107.08h12.5v4.17h-12.5zM761.25 2107.08h4.17v4.17h-4.17zM732.08 2111.25h12.5v4.17h-12.5zM711.25 2115.42h4.17v4.17h-4.17zM736.25 2115.42h12.5v4.17h-12.5zM711.25 2119.58h8.33v4.17h-8.33zM740.42 2119.58h12.5v4.17h-12.5zM711.25 2123.75h12.5v4.17h-12.5zM744.58 2123.75h12.5v4.17h-12.5zM715.42 2127.92h12.5v4.17h-12.5zM748.75 2127.92h12.5v4.17h-12.5zM719.58 2132.08h12.5v4.17h-12.5zM752.92 2132.08h12.5v4.17h-12.5zM723.75 2136.25h12.5v4.17h-12.5zM757.08 2136.25h8.33v4.17h-8.33zM727.92 2140.42h12.5v4.17h-12.5zM761.25 2140.42h4.17v4.17h-4.17zM732.08 2144.58h12.5v4.17h-12.5zM711.25 2148.75h4.17v4.17h-4.17zM736.25 2148.75h12.5v4.17h-12.5zM711.25 2152.92h8.33v4.17h-8.33zM740.42 2152.92h12.5v4.17h-12.5zM711.25 2157.08h12.5v4.17h-12.5zM744.58 2157.08h12.5v4.17h-12.5zM715.42 2161.25h12.5v4.17h-12.5zM748.75 2161.25h12.5v4.17h-12.5zM719.58 2165.42h12.5v4.17h-12.5zM752.92 2165.42h12.5v4.17h-12.5zM723.75 2169.58h12.5v4.17h-12.5zM757.08 2169.58h8.33v4.17h-8.33zM727.92 2173.75h12.5v4.17h-12.5zM761.25 2173.75h4.17v4.17h-4.17zM732.08 2177.92h12.5v4.17h-12.5zM711.25 2182.08h4.17v4.17h-4.17zM736.25 2182.08h12.5v4.17h-12.5zM711.25 2186.25h8.33v4.17h-8.33zM740.42 2186.25h12.5v4.17h-12.5zM711.25 2190.42h12.5v4.17h-12.5zM744.58 2190.42h12.5v4.17h-12.5zM715.42 2194.58h12.5v4.17h-12.5zM748.75 2194.58h12.5v4.17h-12.5zM719.58 2198.75h12.5v4.17h-12.5zM752.92 2198.75h12.5v4.17h-12.5zM723.75 2202.92h12.5v4.17h-12.5zM757.08 2202.92h8.33v4.17h-8.33zM727.92 2207.08h12.5v4.17h-12.5zM761.25 2207.08h4.17v4.17h-4.17zM732.08 2211.25h12.5v4.17h-12.5zM711.25 2215.42h4.17v4.17h-4.17zM736.25 2215.42h12.5v4.17h-12.5zM711.25 2219.58h8.33v4.17h-8.33zM740.42 2219.58h12.5v4.17h-12.5zM711.25 2223.75h12.5v4.17h-12.5zM744.58 2223.75h12.5v4.17h-12.5zM715.42 2227.92h12.5v4.17h-12.5zM748.75 2227.92h12.5v4.17h-12.5zM719.58 2232.08h12.5v4.17h-12.5zM752.92 2232.08h12.5v4.17h-12.5zM723.75 2236.25h12.5v4.17h-12.5zM757.08 2236.25h8.33v4.17h-8.33zM727.92 2240.42h12.5v4.17h-12.5zM761.25 2240.42h4.17v4.17h-4.17zM732.08 2244.58h12.5v4.17h-12.5zM711.25 2248.75h4.17v4.17h-4.17zM736.25 2248.75h12.5v4.17h-12.5zM711.25 2252.92h8.33v4.17h-8.33zM740.42 2252.92h12.5v4.17h-12.5zM711.25 2257.08h12.5v4.17h-12.5zM744.58 2257.08h12.5v4.17h-12.5zM715.42 2261.25h12.5v4.17h-12.5zM748.75 2261.25h12.5v4.17h-12.5zM719.58 2265.42h12.5v4.17h-12.5zM752.92 2265.42h12.5v4.17h-12.5zM723.75 2269.58h12.5v4.17h-12.5zM757.08 2269.58h8.33v4.17h-8.33zM727.92 2273.75h12.5v4.17h-12.5zM761.25 2273.75h4.17v4.17h-4.17zM732.08 2277.92h12.5v4.17h-12.5zM711.25 2282.08h4.17v4.17h-4.17zM736.25 2282.08h12.5v4.17h-12.5zM711.25 2286.25h8.33v4.17h-8.33zM740.42 2286.25h12.5v4.17h-12.5zM769.58 1907.08h4.17v4.17h-4.17zM798.75 1907.08h8.33v4.17h-8.33zM798.75 1911.25h4.17v4.17h-4.17zM794.58 1915.42h4.17v4.17h-4.17zM790.42 1919.58h4.17v4.17h-4.17zM786.25 1923.75h4.17v4.17h-4.17zM782.08 1927.92h8.33v4.17h-8.33zM815.42 1927.92h4.17v4.17h-4.17zM777.92 1932.08h4.17v4.17h-4.17zM790.42 1932.08h4.17v4.17h-4.17zM811.25 1932.08h4.17v4.17h-4.17zM773.75 1936.25h4.17v4.17h-4.17zM794.58 1936.25h4.17v4.17h-4.17zM807.08 1936.25h4.17v4.17h-4.17zM769.58 1940.42h4.17v4.17h-4.17zM798.75 1940.42h8.33v4.17h-8.33zM798.75 1944.58h4.17v4.17h-4.17zM794.58 1948.75h4.17v4.17h-4.17zM790.42 1952.92h4.17v4.17h-4.17zM786.25 1957.08h4.17v4.17h-4.17zM782.08 1961.25h8.33v4.17h-8.33zM815.42 1961.25h4.17v4.17h-4.17zM777.92 1965.42h4.17v4.17h-4.17zM790.42 1965.42h4.17v4.17h-4.17zM811.25 1965.42h4.17v4.17h-4.17zM773.75 1969.58h4.17v4.17h-4.17zM794.58 1969.58h4.17v4.17h-4.17zM807.08 1969.58h4.17v4.17h-4.17zM769.58 1973.75h4.17v4.17h-4.17zM798.75 1973.75h8.33v4.17h-8.33zM798.75 1977.92h4.17v4.17h-4.17zM794.58 1982.08h4.17v4.17h-4.17zM790.42 1986.25h4.17v4.17h-4.17zM786.25 1990.42h4.17v4.17h-4.17zM782.08 1994.58h8.33v4.17h-8.33zM815.42 1994.58h4.17v4.17h-4.17zM777.92 1998.75h4.17v4.17h-4.17zM790.42 1998.75h4.17v4.17h-4.17zM811.25 1998.75h4.17v4.17h-4.17zM773.75 2002.92h4.17v4.17h-4.17zM794.58 2002.92h4.17v4.17h-4.17zM807.08 2002.92h4.17v4.17h-4.17zM769.58 2007.08h4.17v4.17h-4.17zM798.75 2007.08h8.33v4.17h-8.33zM798.75 2011.25h4.17v4.17h-4.17zM794.58 2015.42h4.17v4.17h-4.17zM790.42 2019.58h4.17v4.17h-4.17zM786.25 2023.75h4.17v4.17h-4.17zM782.08 2027.92h8.33v4.17h-8.33zM815.42 2027.92h4.17v4.17h-4.17zM777.92 2032.08h4.17v4.17h-4.17zM790.42 2032.08h4.17v4.17h-4.17zM811.25 2032.08h4.17v4.17h-4.17zM773.75 2036.25h4.17v4.17h-4.17zM794.58 2036.25h4.17v4.17h-4.17zM807.08 2036.25h4.17v4.17h-4.17zM769.58 2040.42h4.17v4.17h-4.17zM798.75 2040.42h8.33v4.17h-8.33zM798.75 2044.58h4.17v4.17h-4.17zM794.58 2048.75h4.17v4.17h-4.17zM790.42 2052.92h4.17v4.17h-4.17zM786.25 2057.08h4.17v4.17h-4.17zM782.08 2061.25h8.33v4.17h-8.33zM815.42 2061.25h4.17v4.17h-4.17zM777.92 2065.42h4.17v4.17h-4.17zM790.42 2065.42h4.17v4.17h-4.17zM811.25 2065.42h4.17v4.17h-4.17zM773.75 2069.58h4.17v4.17h-4.17zM794.58 2069.58h4.17v4.17h-4.17zM807.08 2069.58h4.17v4.17h-4.17zM769.58 2073.75h4.17v4.17h-4.17zM798.75 2073.75h8.33v4.17h-8.33zM798.75 2077.92h4.17v4.17h-4.17zM794.58 2082.08h4.17v4.17h-4.17zM790.42 2086.25h4.17v4.17h-4.17zM786.25 2090.42h4.17v4.17h-4.17zM782.08 2094.58h8.33v4.17h-8.33zM815.42 2094.58h4.17v4.17h-4.17zM777.92 2098.75h4.17v4.17h-4.17zM790.42 2098.75h4.17v4.17h-4.17zM811.25 2098.75h4.17v4.17h-4.17zM773.75 2102.92h4.17v4.17h-4.17zM794.58 2102.92h4.17v4.17h-4.17zM807.08 2102.92h4.17v4.17h-4.17zM769.58 2107.08h4.17v4.17h-4.17zM798.75 2107.08h8.33v4.17h-8.33zM798.75 2111.25h4.17v4.17h-4.17zM794.58 2115.42h4.17v4.17h-4.17zM790.42 2119.58h4.17v4.17h-4.17zM786.25 2123.75h4.17v4.17h-4.17zM782.08 2127.92h8.33v4.17h-8.33zM815.42 2127.92h4.17v4.17h-4.17zM777.92 2132.08h4.17v4.17h-4.17zM790.42 2132.08h4.17v4.17h-4.17zM811.25 2132.08h4.17v4.17h-4.17zM773.75 2136.25h4.17v4.17h-4.17zM794.58 2136.25h4.17v4.17h-4.17zM807.08 2136.25h4.17v4.17h-4.17zM769.58 2140.42h4.17v4.17h-4.17zM798.75 2140.42h8.33v4.17h-8.33zM798.75 2144.58h4.17v4.17h-4.17zM794.58 2148.75h4.17v4.17h-4.17zM790.42 2152.92h4.17v4.17h-4.17zM786.25 2157.08h4.17v4.17h-4.17zM782.08 2161.25h8.33v4.17h-8.33zM815.42 2161.25h4.17v4.17h-4.17zM777.92 2165.42h4.17v4.17h-4.17zM790.42 2165.42h4.17v4.17h-4.17zM811.25 2165.42h4.17v4.17h-4.17zM773.75 2169.58h4.17v4.17h-4.17zM794.58 2169.58h4.17v4.17h-4.17zM807.08 2169.58h4.17v4.17h-4.17zM769.58 2173.75h4.17v4.17h-4.17zM798.75 2173.75h8.33v4.17h-8.33zM798.75 2177.92h4.17v4.17h-4.17zM794.58 2182.08h4.17v4.17h-4.17zM790.42 2186.25h4.17v4.17h-4.17zM786.25 2190.42h4.17v4.17h-4.17zM782.08 2194.58h8.33v4.17h-8.33zM815.42 2194.58h4.17v4.17h-4.17zM777.92 2198.75h4.17v4.17h-4.17zM790.42 2198.75h4.17v4.17h-4.17zM811.25 2198.75h4.17v4.17h-4.17zM773.75 2202.92h4.17v4.17h-4.17zM794.58 2202.92h4.17v4.17h-4.17zM807.08 2202.92h4.17v4.17h-4.17zM769.58 2207.08h4.17v4.17h-4.17zM798.75 2207.08h8.33v4.17h-8.33zM798.75 2211.25h4.17v4.17h-4.17zM794.58 2215.42h4.17v4.17h-4.17zM790.42 2219.58h4.17v4.17h-4.17zM786.25 2223.75h4.17v4.17h-4.17zM782.08 2227.92h8.33v4.17h-8.33zM815.42 2227.92h4.17v4.17h-4.17zM777.92 2232.08h4.17v4.17h-4.17zM790.42 2232.08h4.17v4.17h-4.17zM811.25 2232.08h4.17v4.17h-4.17zM773.75 2236.25h4.17v4.17h-4.17zM794.58 2236.25h4.17v4.17h-4.17zM807.08 2236.25h4.17v4.17h-4.17zM769.58 2240.42h4.17v4.17h-4.17zM798.75 2240.42h8.33v4.17h-8.33zM798.75 2244.58h4.17v4.17h-4.17zM794.58 2248.75h4.17v4.17h-4.17zM790.42 2252.92h4.17v4.17h-4.17zM786.25 2257.08h4.17v4.17h-4.17zM782.08 2261.25h8.33v4.17h-8.33zM815.42 2261.25h4.17v4.17h-4.17zM777.92 2265.42h4.17v4.17h-4.17zM790.42 2265.42h4.17v4.17h-4.17zM811.25 2265.42h4.17v4.17h-4.17zM773.75 2269.58h4.17v4.17h-4.17zM794.58 2269.58h4.17v4.17h-4.17zM807.08 2269.58h4.17v4.17h-4.17zM769.58 2273.75h4.17v4.17h-4.17zM798.75 2273.75h8.33v4.17h-8.33zM798.75 2277.92h4.17v4.17h-4.17zM794.58 2282.08h4.17v4.17h-4.17zM790.42 2286.25h4.17v4.17h-4.17zM823.75 1894.58h12.5v4.17h-12.5zM852.92 1894.58h16.67v4.17h-16.67zM836.25 1911.25h16.67v4.17h-16.67zM869.58 1911.25h8.33v4.17h-8.33zM823.75 1927.92h12.5v4.17h-12.5zM852.92 1927.92h16.67v4.17h-16.67zM836.25 1944.58h16.67v4.17h-16.67zM869.58 1944.58h8.33v4.17h-8.33zM823.75 1961.25h12.5v4.17h-12.5zM852.92 1961.25h16.67v4.17h-16.67zM836.25 1977.92h16.67v4.17h-16.67zM869.58 1977.92h8.33v4.17h-8.33zM823.75 1994.58h12.5v4.17h-12.5zM852.92 1994.58h16.67v4.17h-16.67zM836.25 2011.25h16.67v4.17h-16.67zM869.58 2011.25h8.33v4.17h-8.33zM823.75 2027.92h12.5v4.17h-12.5zM852.92 2027.92h16.67v4.17h-16.67zM836.25 2044.58h16.67v4.17h-16.67zM869.58 2044.58h8.33v4.17h-8.33zM823.75 2061.25h12.5v4.17h-12.5zM852.92 2061.25h16.67v4.17h-16.67zM836.25 2077.92h16.67v4.17h-16.67zM869.58 2077.92h8.33v4.17h-8.33zM823.75 2094.58h12.5v4.17h-12.5zM852.92 2094.58h16.67v4.17h-16.67zM836.25 2111.25h16.67v4.17h-16.67zM869.58 2111.25h8.33v4.17h-8.33zM823.75 2127.92h12.5v4.17h-12.5zM852.92 2127.92h16.67v4.17h-16.67zM836.25 2144.58h16.67v4.17h-16.67zM869.58 2144.58h8.33v4.17h-8.33zM823.75 2161.25h12.5v4.17h-12.5zM852.92 2161.25h16.67v4.17h-16.67zM836.25 2177.92h16.67v4.17h-16.67zM869.58 2177.92h8.33v4.17h-8.33zM823.75 2194.58h12.5v4.17h-12.5zM852.92 2194.58h16.67v4.17h-16.67zM836.25 2211.25h16.67v4.17h-16.67zM869.58 2211.25h8.33v4.17h-8.33zM823.75 2227.92h12.5v4.17h-12.5zM852.92 2227.92h16.67v4.17h-16.67zM836.25 2244.58h16.67v4.17h-16.67zM869.58 2244.58h8.33v4.17h-8.33zM823.75 2261.25h12.5v4.17h-12.5zM852.92 2261.25h16.67v4.17h-16.67zM836.25 2277.92h16.67v4.17h-16.67zM869.58 2277.92h8.33v4.17h-8.33zM969.58 1919.58h4.17v8.33h-4.17zM969.58 1944.58h4.17v16.67h-4.17zM969.58 1977.92h4.17v16.67h-4.17zM969.58 2011.25h4.17v16.67h-4.17zM969.58 2044.58h4.17v16.67h-4.17zM969.58 2077.92h4.17v16.67h-4.17zM969.58 2111.25h4.17v16.67h-4.17zM969.58 2144.58h4.17v16.67h-4.17zM969.58 2177.92h4.17v16.67h-4.17zM969.58 2211.25h4.17v16.67h-4.17zM969.58 2244.58h4.17v16.67h-4.17zM969.58 2277.92h4.17v12.5h-4.17zM986.25 1927.92h4.17v16.67h-4.17zM986.25 1961.25h4.17v16.67h-4.17zM986.25 1994.58h4.17v16.67h-4.17zM986.25 2027.92h4.17v16.67h-4.17zM986.25 2061.25h4.17v16.67h-4.17zM986.25 2094.58h4.17v16.67h-4.17zM986.25 2127.92h4.17v16.67h-4.17zM986.25 2161.25h4.17v16.67h-4.17zM986.25 2194.58h4.17v16.67h-4.17zM986.25 2227.92h4.17v16.67h-4.17zM986.25 2261.25h4.17v16.67h-4.17zM1002.92 1919.58h4.17v8.33h-4.17zM1002.92 1944.58h4.17v16.67h-4.17zM1002.92 1977.92h4.17v16.67h-4.17zM1002.92 2011.25h4.17v16.67h-4.17zM1002.92 2044.58h4.17v16.67h-4.17zM1002.92 2077.92h4.17v16.67h-4.17zM1002.92 2111.25h4.17v16.67h-4.17zM1002.92 2144.58h4.17v16.67h-4.17zM1002.92 2177.92h4.17v16.67h-4.17zM1002.92 2211.25h4.17v16.67h-4.17zM1002.92 2244.58h4.17v16.67h-4.17zM1002.92 2277.92h4.17v12.5h-4.17zM1019.58 1932.08h12.5v4.17h-12.5zM1052.92 1932.08h12.5v4.17h-12.5zM1023.75 1936.25h12.5v4.17h-12.5zM1057.08 1936.25h12.5v4.17h-12.5zM1027.92 1940.42h12.5v4.17h-12.5zM1061.25 1940.42h12.5v4.17h-12.5zM1032.08 1944.58h12.5v4.17h-12.5zM1065.42 1944.58h8.33v4.17h-8.33zM1036.25 1948.75h12.5v4.17h-12.5zM1069.58 1948.75h4.17v4.17h-4.17zM1040.42 1952.92h12.5v4.17h-12.5zM1019.58 1957.08h4.17v4.17h-4.17zM1044.58 1957.08h12.5v4.17h-12.5zM1019.58 1961.25h8.33v4.17h-8.33zM1048.75 1961.25h12.5v4.17h-12.5zM1019.58 1965.42h12.5v4.17h-12.5zM1052.92 1965.42h12.5v4.17h-12.5zM1023.75 1969.58h12.5v4.17h-12.5zM1057.08 1969.58h12.5v4.17h-12.5zM1027.92 1973.75h12.5v4.17h-12.5zM1061.25 1973.75h12.5v4.17h-12.5zM1032.08 1977.92h12.5v4.17h-12.5zM1065.42 1977.92h8.33v4.17h-8.33zM1036.25 1982.08h12.5v4.17h-12.5zM1069.58 1982.08h4.17v4.17h-4.17zM1040.42 1986.25h12.5v4.17h-12.5zM1019.58 1990.42h4.17v4.17h-4.17zM1044.58 1990.42h12.5v4.17h-12.5zM1019.58 1994.58h8.33v4.17h-8.33zM1048.75 1994.58h12.5v4.17h-12.5zM1019.58 1998.75h12.5v4.17h-12.5zM1052.92 1998.75h12.5v4.17h-12.5zM1023.75 2002.92h12.5v4.17h-12.5zM1057.08 2002.92h12.5v4.17h-12.5zM1027.92 2007.08h12.5v4.17h-12.5zM1061.25 2007.08h12.5v4.17h-12.5zM1032.08 2011.25h12.5v4.17h-12.5zM1065.42 2011.25h8.33v4.17h-8.33zM1036.25 2015.42h12.5v4.17h-12.5zM1069.58 2015.42h4.17v4.17h-4.17zM1040.42 2019.58h12.5v4.17h-12.5zM1019.58 2023.75h4.17v4.17h-4.17zM1044.58 2023.75h12.5v4.17h-12.5zM1019.58 2027.92h8.33v4.17h-8.33zM1048.75 2027.92h12.5v4.17h-12.5zM1019.58 2032.08h12.5v4.17h-12.5zM1052.92 2032.08h12.5v4.17h-12.5zM1023.75 2036.25h12.5v4.17h-12.5zM1057.08 2036.25h12.5v4.17h-12.5zM1027.92 2040.42h12.5v4.17h-12.5zM1061.25 2040.42h12.5v4.17h-12.5zM1032.08 2044.58h12.5v4.17h-12.5zM1065.42 2044.58h8.33v4.17h-8.33zM1036.25 2048.75h12.5v4.17h-12.5zM1069.58 2048.75h4.17v4.17h-4.17zM1040.42 2052.92h12.5v4.17h-12.5zM1019.58 2057.08h4.17v4.17h-4.17zM1044.58 2057.08h12.5v4.17h-12.5zM1019.58 2061.25h8.33v4.17h-8.33zM1048.75 2061.25h12.5v4.17h-12.5zM1019.58 2065.42h12.5v4.17h-12.5zM1052.92 2065.42h12.5v4.17h-12.5zM1023.75 2069.58h12.5v4.17h-12.5zM1057.08 2069.58h12.5v4.17h-12.5zM1027.92 2073.75h12.5v4.17h-12.5zM1061.25 2073.75h12.5v4.17h-12.5zM1032.08 2077.92h12.5v4.17h-12.5zM1065.42 2077.92h8.33v4.17h-8.33zM1036.25 2082.08h12.5v4.17h-12.5zM1069.58 2082.08h4.17v4.17h-4.17zM1040.42 2086.25h12.5v4.17h-12.5zM1019.58 2090.42h4.17v4.17h-4.17zM1044.58 2090.42h12.5v4.17h-12.5zM1019.58 2094.58h8.33v4.17h-8.33zM1048.75 2094.58h12.5v4.17h-12.5zM1019.58 2098.75h12.5v4.17h-12.5zM1052.92 2098.75h12.5v4.17h-12.5zM1023.75 2102.92h12.5v4.17h-12.5zM1057.08 2102.92h12.5v4.17h-12.5zM1027.92 2107.08h12.5v4.17h-12.5zM1061.25 2107.08h12.5v4.17h-12.5zM1032.08 2111.25h12.5v4.17h-12.5zM1065.42 2111.25h8.33v4.17h-8.33zM1036.25 2115.42h12.5v4.17h-12.5zM1069.58 2115.42h4.17v4.17h-4.17zM1040.42 2119.58h12.5v4.17h-12.5zM1019.58 2123.75h4.17v4.17h-4.17zM1044.58 2123.75h12.5v4.17h-12.5zM1019.58 2127.92h8.33v4.17h-8.33zM1048.75 2127.92h12.5v4.17h-12.5zM1019.58 2132.08h12.5v4.17h-12.5zM1052.92 2132.08h12.5v4.17h-12.5zM1023.75 2136.25h12.5v4.17h-12.5zM1057.08 2136.25h12.5v4.17h-12.5zM1027.92 2140.42h12.5v4.17h-12.5zM1061.25 2140.42h12.5v4.17h-12.5zM1032.08 2144.58h12.5v4.17h-12.5zM1065.42 2144.58h8.33v4.17h-8.33zM1036.25 2148.75h12.5v4.17h-12.5zM1069.58 2148.75h4.17v4.17h-4.17zM1040.42 2152.92h12.5v4.17h-12.5zM1019.58 2157.08h4.17v4.17h-4.17zM1044.58 2157.08h12.5v4.17h-12.5zM1019.58 2161.25h8.33v4.17h-8.33zM1048.75 2161.25h12.5v4.17h-12.5zM1019.58 2165.42h12.5v4.17h-12.5zM1052.92 2165.42h12.5v4.17h-12.5zM1023.75 2169.58h12.5v4.17h-12.5zM1057.08 2169.58h12.5v4.17h-12.5zM1027.92 2173.75h12.5v4.17h-12.5zM1061.25 2173.75h12.5v4.17h-12.5zM1032.08 2177.92h12.5v4.17h-12.5zM1065.42 2177.92h8.33v4.17h-8.33zM1036.25 2182.08h12.5v4.17h-12.5zM1069.58 2182.08h4.17v4.17h-4.17zM1040.42 2186.25h12.5v4.17h-12.5zM1019.58 2190.42h4.17v4.17h-4.17zM1044.58 2190.42h12.5v4.17h-12.5zM1019.58 2194.58h8.33v4.17h-8.33zM1048.75 2194.58h12.5v4.17h-12.5zM1019.58 2198.75h12.5v4.17h-12.5zM1052.92 2198.75h12.5v4.17h-12.5zM1023.75 2202.92h12.5v4.17h-12.5zM1057.08 2202.92h12.5v4.17h-12.5zM1027.92 2207.08h12.5v4.17h-12.5zM1061.25 2207.08h12.5v4.17h-12.5zM1032.08 2211.25h12.5v4.17h-12.5zM1065.42 2211.25h8.33v4.17h-8.33zM1036.25 2215.42h12.5v4.17h-12.5zM1069.58 2215.42h4.17v4.17h-4.17zM1040.42 2219.58h12.5v4.17h-12.5zM1019.58 2223.75h4.17v4.17h-4.17zM1044.58 2223.75h12.5v4.17h-12.5zM1019.58 2227.92h8.33v4.17h-8.33zM1048.75 2227.92h12.5v4.17h-12.5zM1019.58 2232.08h12.5v4.17h-12.5zM1052.92 2232.08h12.5v4.17h-12.5zM1023.75 2236.25h12.5v4.17h-12.5zM1057.08 2236.25h12.5v4.17h-12.5zM1027.92 2240.42h12.5v4.17h-12.5zM1061.25 2240.42h12.5v4.17h-12.5zM1032.08 2244.58h12.5v4.17h-12.5zM1065.42 2244.58h8.33v4.17h-8.33zM1036.25 2248.75h12.5v4.17h-12.5zM1069.58 2248.75h4.17v4.17h-4.17zM1040.42 2252.92h12.5v4.17h-12.5zM1019.58 2257.08h4.17v4.17h-4.17zM1044.58 2257.08h12.5v4.17h-12.5zM1019.58 2261.25h8.33v4.17h-8.33zM1048.75 2261.25h12.5v4.17h-12.5zM1019.58 2265.42h12.5v4.17h-12.5zM1052.92 2265.42h12.5v4.17h-12.5zM1023.75 2269.58h12.5v4.17h-12.5zM1057.08 2269.58h12.5v4.17h-12.5zM1027.92 2273.75h12.5v4.17h-12.5zM1061.25 2273.75h12.5v4.17h-12.5zM1032.08 2277.92h12.5v4.17h-12.5zM1065.42 2277.92h8.33v4.17h-8.33zM1036.25 2282.08h12.5v4.17h-12.5zM1069.58 2282.08h4.17v4.17h-4.17zM1040.42 2286.25h12.5v4.17h-12.5zM1090.42 1886.25h4.17v4.17h-4.17zM1123.75 1886.25h4.17v4.17h-4.17zM1086.25 1890.42h4.17v4.17h-4.17zM1119.58 1890.42h4.17v4.17h-4.17zM1082.08 1894.58h8.33v4.17h-8.33zM1115.42 1894.58h8.33v4.17h-8.33zM1077.92 1898.75h4.17v4.17h-4.17zM1090.42 1898.75h4.17v4.17h-4.17zM1111.25 1898.75h4.17v4.17h-4.17zM1123.75 1898.75h4.17v4.17h-4.17zM1094.58 1902.92h4.17v4.17h-4.17zM1107.08 1902.92h4.17v4.17h-4.17zM1098.75 1907.08h8.33v4.17h-8.33zM1098.75 1911.25h4.17v4.17h-4.17zM1094.58 1915.42h4.17v4.17h-4.17zM1090.42 1919.58h4.17v4.17h-4.17zM1123.75 1919.58h4.17v4.17h-4.17zM1086.25 1923.75h4.17v4.17h-4.17zM1119.58 1923.75h4.17v4.17h-4.17zM1082.08 1927.92h8.33v4.17h-8.33zM1115.42 1927.92h8.33v4.17h-8.33zM1077.92 1932.08h4.17v4.17h-4.17zM1090.42 1932.08h4.17v4.17h-4.17zM1111.25 1932.08h4.17v4.17h-4.17zM1123.75 1932.08h4.17v4.17h-4.17zM1094.58 1936.25h4.17v4.17h-4.17zM1107.08 1936.25h4.17v4.17h-4.17zM1098.75 1940.42h8.33v4.17h-8.33zM1098.75 1944.58h4.17v4.17h-4.17zM1094.58 1948.75h4.17v4.17h-4.17zM1090.42 1952.92h4.17v4.17h-4.17zM1123.75 1952.92h4.17v4.17h-4.17zM1086.25 1957.08h4.17v4.17h-4.17zM1119.58 1957.08h4.17v4.17h-4.17zM1082.08 1961.25h8.33v4.17h-8.33zM1115.42 1961.25h8.33v4.17h-8.33zM1077.92 1965.42h4.17v4.17h-4.17zM1090.42 1965.42h4.17v4.17h-4.17zM1111.25 1965.42h4.17v4.17h-4.17zM1123.75 1965.42h4.17v4.17h-4.17zM1094.58 1969.58h4.17v4.17h-4.17zM1107.08 1969.58h4.17v4.17h-4.17zM1098.75 1973.75h8.33v4.17h-8.33zM1098.75 1977.92h4.17v4.17h-4.17zM1094.58 1982.08h4.17v4.17h-4.17zM1090.42 1986.25h4.17v4.17h-4.17zM1123.75 1986.25h4.17v4.17h-4.17zM1086.25 1990.42h4.17v4.17h-4.17zM1119.58 1990.42h4.17v4.17h-4.17zM1082.08 1994.58h8.33v4.17h-8.33zM1115.42 1994.58h8.33v4.17h-8.33zM1077.92 1998.75h4.17v4.17h-4.17zM1090.42 1998.75h4.17v4.17h-4.17zM1111.25 1998.75h4.17v4.17h-4.17zM1123.75 1998.75h4.17v4.17h-4.17zM1094.58 2002.92h4.17v4.17h-4.17zM1107.08 2002.92h4.17v4.17h-4.17zM1098.75 2007.08h8.33v4.17h-8.33zM1098.75 2011.25h4.17v4.17h-4.17zM1094.58 2015.42h4.17v4.17h-4.17zM1090.42 2019.58h4.17v4.17h-4.17zM1123.75 2019.58h4.17v4.17h-4.17zM1086.25 2023.75h4.17v4.17h-4.17zM1119.58 2023.75h4.17v4.17h-4.17zM1082.08 2027.92h8.33v4.17h-8.33zM1115.42 2027.92h8.33v4.17h-8.33zM1077.92 2032.08h4.17v4.17h-4.17zM1090.42 2032.08h4.17v4.17h-4.17zM1111.25 2032.08h4.17v4.17h-4.17zM1123.75 2032.08h4.17v4.17h-4.17zM1094.58 2036.25h4.17v4.17h-4.17zM1107.08 2036.25h4.17v4.17h-4.17zM1098.75 2040.42h8.33v4.17h-8.33zM1098.75 2044.58h4.17v4.17h-4.17zM1094.58 2048.75h4.17v4.17h-4.17zM1090.42 2052.92h4.17v4.17h-4.17zM1123.75 2052.92h4.17v4.17h-4.17zM1086.25 2057.08h4.17v4.17h-4.17zM1119.58 2057.08h4.17v4.17h-4.17zM1082.08 2061.25h8.33v4.17h-8.33zM1115.42 2061.25h8.33v4.17h-8.33zM1077.92 2065.42h4.17v4.17h-4.17zM1090.42 2065.42h4.17v4.17h-4.17zM1111.25 2065.42h4.17v4.17h-4.17zM1123.75 2065.42h4.17v4.17h-4.17zM1094.58 2069.58h4.17v4.17h-4.17zM1107.08 2069.58h4.17v4.17h-4.17zM1098.75 2073.75h8.33v4.17h-8.33zM1098.75 2077.92h4.17v4.17h-4.17zM1094.58 2082.08h4.17v4.17h-4.17zM1090.42 2086.25h4.17v4.17h-4.17zM1123.75 2086.25h4.17v4.17h-4.17zM1086.25 2090.42h4.17v4.17h-4.17zM1119.58 2090.42h4.17v4.17h-4.17zM1082.08 2094.58h8.33v4.17h-8.33zM1115.42 2094.58h8.33v4.17h-8.33zM1077.92 2098.75h4.17v4.17h-4.17zM1090.42 2098.75h4.17v4.17h-4.17zM1111.25 2098.75h4.17v4.17h-4.17zM1123.75 2098.75h4.17v4.17h-4.17zM1094.58 2102.92h4.17v4.17h-4.17zM1107.08 2102.92h4.17v4.17h-4.17zM1098.75 2107.08h8.33v4.17h-8.33zM1098.75 2111.25h4.17v4.17h-4.17zM1094.58 2115.42h4.17v4.17h-4.17zM1090.42 2119.58h4.17v4.17h-4.17zM1123.75 2119.58h4.17v4.17h-4.17zM1086.25 2123.75h4.17v4.17h-4.17zM1119.58 2123.75h4.17v4.17h-4.17zM1082.08 2127.92h8.33v4.17h-8.33zM1115.42 2127.92h8.33v4.17h-8.33zM1077.92 2132.08h4.17v4.17h-4.17zM1090.42 2132.08h4.17v4.17h-4.17zM1111.25 2132.08h4.17v4.17h-4.17zM1123.75 2132.08h4.17v4.17h-4.17zM1094.58 2136.25h4.17v4.17h-4.17zM1107.08 2136.25h4.17v4.17h-4.17zM1098.75 2140.42h8.33v4.17h-8.33zM1098.75 2144.58h4.17v4.17h-4.17zM1094.58 2148.75h4.17v4.17h-4.17zM1090.42 2152.92h4.17v4.17h-4.17zM1123.75 2152.92h4.17v4.17h-4.17zM1086.25 2157.08h4.17v4.17h-4.17zM1119.58 2157.08h4.17v4.17h-4.17zM1082.08 2161.25h8.33v4.17h-8.33zM1115.42 2161.25h8.33v4.17h-8.33zM1077.92 2165.42h4.17v4.17h-4.17zM1090.42 2165.42h4.17v4.17h-4.17zM1111.25 2165.42h4.17v4.17h-4.17zM1123.75 2165.42h4.17v4.17h-4.17zM1094.58 2169.58h4.17v4.17h-4.17zM1107.08 2169.58h4.17v4.17h-4.17zM1098.75 2173.75h8.33v4.17h-8.33zM1098.75 2177.92h4.17v4.17h-4.17zM1094.58 2182.08h4.17v4.17h-4.17zM1090.42 2186.25h4.17v4.17h-4.17zM1123.75 2186.25h4.17v4.17h-4.17zM1086.25 2190.42h4.17v4.17h-4.17zM1119.58 2190.42h4.17v4.17h-4.17zM1082.08 2194.58h8.33v4.17h-8.33zM1115.42 2194.58h8.33v4.17h-8.33zM1077.92 2198.75h4.17v4.17h-4.17zM1090.42 2198.75h4.17v4.17h-4.17zM1111.25 2198.75h4.17v4.17h-4.17zM1123.75 2198.75h4.17v4.17h-4.17zM1094.58 2202.92h4.17v4.17h-4.17zM1107.08 2202.92h4.17v4.17h-4.17zM1098.75 2207.08h8.33v4.17h-8.33zM1098.75 2211.25h4.17v4.17h-4.17zM1094.58 2215.42h4.17v4.17h-4.17zM1090.42 2219.58h4.17v4.17h-4.17zM1123.75 2219.58h4.17v4.17h-4.17zM1086.25 2223.75h4.17v4.17h-4.17zM1119.58 2223.75h4.17v4.17h-4.17zM1082.08 2227.92h8.33v4.17h-8.33zM1115.42 2227.92h8.33v4.17h-8.33zM1077.92 2232.08h4.17v4.17h-4.17zM1090.42 2232.08h4.17v4.17h-4.17zM1111.25 2232.08h4.17v4.17h-4.17zM1123.75 2232.08h4.17v4.17h-4.17zM1094.58 2236.25h4.17v4.17h-4.17zM1107.08 2236.25h4.17v4.17h-4.17zM1098.75 2240.42h8.33v4.17h-8.33zM1098.75 2244.58h4.17v4.17h-4.17zM1094.58 2248.75h4.17v4.17h-4.17zM1090.42 2252.92h4.17v4.17h-4.17zM1123.75 2252.92h4.17v4.17h-4.17zM1086.25 2257.08h4.17v4.17h-4.17zM1119.58 2257.08h4.17v4.17h-4.17zM1082.08 2261.25h8.33v4.17h-8.33zM1115.42 2261.25h8.33v4.17h-8.33zM1077.92 2265.42h4.17v4.17h-4.17zM1090.42 2265.42h4.17v4.17h-4.17zM1111.25 2265.42h4.17v4.17h-4.17zM1123.75 2265.42h4.17v4.17h-4.17zM1094.58 2269.58h4.17v4.17h-4.17zM1107.08 2269.58h4.17v4.17h-4.17zM1098.75 2273.75h8.33v4.17h-8.33zM1098.75 2277.92h4.17v4.17h-4.17zM1094.58 2282.08h4.17v4.17h-4.17zM1090.42 2286.25h4.17v4.17h-4.17zM1123.75 2286.25h4.17v4.17h-4.17zM1136.25 1911.25h16.67v4.17h-16.67zM1169.58 1911.25h12.5v4.17h-12.5zM1132.08 1927.92h4.17v4.17h-4.17zM1152.92 1927.92h16.67v4.17h-16.67zM1136.25 1944.58h16.67v4.17h-16.67zM1169.58 1944.58h12.5v4.17h-12.5zM1132.08 1961.25h4.17v4.17h-4.17zM1152.92 1961.25h16.67v4.17h-16.67zM1136.25 1977.92h16.67v4.17h-16.67zM1169.58 1977.92h12.5v4.17h-12.5zM1132.08 1994.58h4.17v4.17h-4.17zM1152.92 1994.58h16.67v4.17h-16.67zM1136.25 2011.25h16.67v4.17h-16.67zM1169.58 2011.25h12.5v4.17h-12.5zM1132.08 2027.92h4.17v4.17h-4.17zM1152.92 2027.92h16.67v4.17h-16.67zM1136.25 2044.58h16.67v4.17h-16.67zM1169.58 2044.58h12.5v4.17h-12.5zM1132.08 2061.25h4.17v4.17h-4.17zM1152.92 2061.25h16.67v4.17h-16.67zM1136.25 2077.92h16.67v4.17h-16.67zM1169.58 2077.92h12.5v4.17h-12.5zM1132.08 2094.58h4.17v4.17h-4.17zM1152.92 2094.58h16.67v4.17h-16.67zM1136.25 2111.25h16.67v4.17h-16.67zM1169.58 2111.25h12.5v4.17h-12.5zM1132.08 2127.92h4.17v4.17h-4.17zM1152.92 2127.92h16.67v4.17h-16.67zM1136.25 2144.58h16.67v4.17h-16.67zM1169.58 2144.58h12.5v4.17h-12.5zM1132.08 2161.25h4.17v4.17h-4.17zM1152.92 2161.25h16.67v4.17h-16.67zM1136.25 2177.92h16.67v4.17h-16.67zM1169.58 2177.92h12.5v4.17h-12.5zM1132.08 2194.58h4.17v4.17h-4.17zM1152.92 2194.58h16.67v4.17h-16.67zM1136.25 2211.25h16.67v4.17h-16.67zM1169.58 2211.25h12.5v4.17h-12.5zM1132.08 2227.92h4.17v4.17h-4.17zM1152.92 2227.92h16.67v4.17h-16.67zM1136.25 2244.58h16.67v4.17h-16.67zM1169.58 2244.58h12.5v4.17h-12.5zM1132.08 2261.25h4.17v4.17h-4.17zM1152.92 2261.25h16.67v4.17h-16.67zM1136.25 2277.92h16.67v4.17h-16.67zM1169.58 2277.92h12.5v4.17h-12.5zM1286.25 1894.58h4.17v16.67h-4.17zM1286.25 1927.92h4.17v16.67h-4.17zM1286.25 1961.25h4.17v16.67h-4.17zM1286.25 1994.58h4.17v16.67h-4.17zM1286.25 2027.92h4.17v16.67h-4.17zM1286.25 2061.25h4.17v16.67h-4.17zM1286.25 2094.58h4.17v16.67h-4.17zM1286.25 2127.92h4.17v16.67h-4.17zM1286.25 2161.25h4.17v16.67h-4.17zM1286.25 2194.58h4.17v16.67h-4.17zM1286.25 2227.92h4.17v16.67h-4.17zM1286.25 2261.25h4.17v16.67h-4.17zM1302.92 1882.08h4.17v12.5h-4.17zM1302.92 1911.25h4.17v16.67h-4.17zM1302.92 1944.58h4.17v16.67h-4.17zM1302.92 1977.92h4.17v16.67h-4.17zM1302.92 2011.25h4.17v16.67h-4.17zM1302.92 2044.58h4.17v16.67h-4.17zM1302.92 2077.92h4.17v16.67h-4.17zM1302.92 2111.25h4.17v16.67h-4.17zM1302.92 2144.58h4.17v16.67h-4.17zM1302.92 2177.92h4.17v16.67h-4.17zM1302.92 2211.25h4.17v16.67h-4.17zM1302.92 2244.58h4.17v16.67h-4.17zM1302.92 2277.92h4.17v12.5h-4.17zM1319.58 1894.58h4.17v16.67h-4.17zM1319.58 1927.92h4.17v16.67h-4.17zM1319.58 1961.25h4.17v16.67h-4.17zM1319.58 1994.58h4.17v16.67h-4.17zM1319.58 2027.92h4.17v16.67h-4.17zM1319.58 2061.25h4.17v16.67h-4.17zM1319.58 2094.58h4.17v16.67h-4.17zM1319.58 2127.92h4.17v16.67h-4.17zM1319.58 2161.25h4.17v16.67h-4.17zM1319.58 2194.58h4.17v16.67h-4.17zM1319.58 2227.92h4.17v16.67h-4.17zM1319.58 2261.25h4.17v16.67h-4.17zM1332.08 1877.92h12.5v4.17h-12.5zM1365.42 1877.92h12.5v4.17h-12.5zM1336.25 1882.08h12.5v4.17h-12.5zM1369.58 1882.08h8.33v4.17h-8.33zM1340.42 1886.25h12.5v4.17h-12.5zM1373.75 1886.25h4.17v4.17h-4.17zM1344.58 1890.42h12.5v4.17h-12.5zM1348.75 1894.58h12.5v4.17h-12.5zM1327.92 1898.75h4.17v4.17h-4.17zM1352.92 1898.75h12.5v4.17h-12.5zM1327.92 1902.92h8.33v4.17h-8.33zM1357.08 1902.92h12.5v4.17h-12.5zM1327.92 1907.08h12.5v4.17h-12.5zM1361.25 1907.08h12.5v4.17h-12.5zM1332.08 1911.25h12.5v4.17h-12.5zM1365.42 1911.25h12.5v4.17h-12.5zM1336.25 1915.42h12.5v4.17h-12.5zM1369.58 1915.42h8.33v4.17h-8.33zM1340.42 1919.58h12.5v4.17h-12.5zM1373.75 1919.58h4.17v4.17h-4.17zM1344.58 1923.75h12.5v4.17h-12.5zM1348.75 1927.92h12.5v4.17h-12.5zM1327.92 1932.08h4.17v4.17h-4.17zM1352.92 1932.08h12.5v4.17h-12.5zM1327.92 1936.25h8.33v4.17h-8.33zM1357.08 1936.25h12.5v4.17h-12.5zM1327.92 1940.42h12.5v4.17h-12.5zM1361.25 1940.42h12.5v4.17h-12.5zM1332.08 1944.58h12.5v4.17h-12.5zM1365.42 1944.58h12.5v4.17h-12.5zM1336.25 1948.75h12.5v4.17h-12.5zM1369.58 1948.75h8.33v4.17h-8.33zM1340.42 1952.92h12.5v4.17h-12.5zM1373.75 1952.92h4.17v4.17h-4.17zM1344.58 1957.08h12.5v4.17h-12.5zM1348.75 1961.25h12.5v4.17h-12.5zM1327.92 1965.42h4.17v4.17h-4.17zM1352.92 1965.42h12.5v4.17h-12.5zM1327.92 1969.58h8.33v4.17h-8.33zM1357.08 1969.58h12.5v4.17h-12.5zM1327.92 1973.75h12.5v4.17h-12.5zM1361.25 1973.75h12.5v4.17h-12.5zM1332.08 1977.92h12.5v4.17h-12.5zM1365.42 1977.92h12.5v4.17h-12.5zM1336.25 1982.08h12.5v4.17h-12.5zM1369.58 1982.08h8.33v4.17h-8.33zM1340.42 1986.25h12.5v4.17h-12.5zM1373.75 1986.25h4.17v4.17h-4.17zM1344.58 1990.42h12.5v4.17h-12.5zM1348.75 1994.58h12.5v4.17h-12.5zM1327.92 1998.75h4.17v4.17h-4.17zM1352.92 1998.75h12.5v4.17h-12.5zM1327.92 2002.92h8.33v4.17h-8.33zM1357.08 2002.92h12.5v4.17h-12.5zM1327.92 2007.08h12.5v4.17h-12.5zM1361.25 2007.08h12.5v4.17h-12.5zM1332.08 2011.25h12.5v4.17h-12.5zM1365.42 2011.25h12.5v4.17h-12.5zM1336.25 2015.42h12.5v4.17h-12.5zM1369.58 2015.42h8.33v4.17h-8.33zM1340.42 2019.58h12.5v4.17h-12.5zM1373.75 2019.58h4.17v4.17h-4.17zM1344.58 2023.75h12.5v4.17h-12.5zM1348.75 2027.92h12.5v4.17h-12.5zM1327.92 2032.08h4.17v4.17h-4.17zM1352.92 2032.08h12.5v4.17h-12.5zM1327.92 2036.25h8.33v4.17h-8.33zM1357.08 2036.25h12.5v4.17h-12.5zM1327.92 2040.42h12.5v4.17h-12.5zM1361.25 2040.42h12.5v4.17h-12.5zM1332.08 2044.58h12.5v4.17h-12.5zM1365.42 2044.58h12.5v4.17h-12.5zM1336.25 2048.75h12.5v4.17h-12.5zM1369.58 2048.75h8.33v4.17h-8.33zM1340.42 2052.92h12.5v4.17h-12.5zM1373.75 2052.92h4.17v4.17h-4.17zM1344.58 2057.08h12.5v4.17h-12.5zM1348.75 2061.25h12.5v4.17h-12.5zM1327.92 2065.42h4.17v4.17h-4.17zM1352.92 2065.42h12.5v4.17h-12.5zM1327.92 2069.58h8.33v4.17h-8.33zM1357.08 2069.58h12.5v4.17h-12.5zM1327.92 2073.75h12.5v4.17h-12.5zM1361.25 2073.75h12.5v4.17h-12.5zM1332.08 2077.92h12.5v4.17h-12.5zM1365.42 2077.92h12.5v4.17h-12.5zM1336.25 2082.08h12.5v4.17h-12.5zM1369.58 2082.08h8.33v4.17h-8.33zM1340.42 2086.25h12.5v4.17h-12.5zM1373.75 2086.25h4.17v4.17h-4.17zM1344.58 2090.42h12.5v4.17h-12.5zM1348.75 2094.58h12.5v4.17h-12.5zM1327.92 2098.75h4.17v4.17h-4.17zM1352.92 2098.75h12.5v4.17h-12.5zM1327.92 2102.92h8.33v4.17h-8.33zM1357.08 2102.92h12.5v4.17h-12.5zM1327.92 2107.08h12.5v4.17h-12.5zM1361.25 2107.08h12.5v4.17h-12.5zM1332.08 2111.25h12.5v4.17h-12.5zM1365.42 2111.25h12.5v4.17h-12.5zM1336.25 2115.42h12.5v4.17h-12.5zM1369.58 2115.42h8.33v4.17h-8.33zM1340.42 2119.58h12.5v4.17h-12.5zM1373.75 2119.58h4.17v4.17h-4.17zM1344.58 2123.75h12.5v4.17h-12.5zM1348.75 2127.92h12.5v4.17h-12.5zM1327.92 2132.08h4.17v4.17h-4.17zM1352.92 2132.08h12.5v4.17h-12.5zM1327.92 2136.25h8.33v4.17h-8.33zM1357.08 2136.25h12.5v4.17h-12.5zM1327.92 2140.42h12.5v4.17h-12.5zM1361.25 2140.42h12.5v4.17h-12.5zM1332.08 2144.58h12.5v4.17h-12.5zM1365.42 2144.58h12.5v4.17h-12.5zM1336.25 2148.75h12.5v4.17h-12.5zM1369.58 2148.75h8.33v4.17h-8.33zM1340.42 2152.92h12.5v4.17h-12.5zM1373.75 2152.92h4.17v4.17h-4.17zM1344.58 2157.08h12.5v4.17h-12.5zM1348.75 2161.25h12.5v4.17h-12.5zM1327.92 2165.42h4.17v4.17h-4.17zM1352.92 2165.42h12.5v4.17h-12.5zM1327.92 2169.58h8.33v4.17h-8.33zM1357.08 2169.58h12.5v4.17h-12.5zM1327.92 2173.75h12.5v4.17h-12.5zM1361.25 2173.75h12.5v4.17h-12.5zM1332.08 2177.92h12.5v4.17h-12.5zM1365.42 2177.92h12.5v4.17h-12.5zM1336.25 2182.08h12.5v4.17h-12.5zM1369.58 2182.08h8.33v4.17h-8.33zM1340.42 2186.25h12.5v4.17h-12.5zM1373.75 2186.25h4.17v4.17h-4.17zM1344.58 2190.42h12.5v4.17h-12.5zM1348.75 2194.58h12.5v4.17h-12.5zM1327.92 2198.75h4.17v4.17h-4.17zM1352.92 2198.75h12.5v4.17h-12.5zM1327.92 2202.92h8.33v4.17h-8.33zM1357.08 2202.92h12.5v4.17h-12.5zM1327.92 2207.08h12.5v4.17h-12.5zM1361.25 2207.08h12.5v4.17h-12.5zM1332.08 2211.25h12.5v4.17h-12.5zM1365.42 2211.25h12.5v4.17h-12.5zM1336.25 2215.42h12.5v4.17h-12.5zM1369.58 2215.42h8.33v4.17h-8.33zM1340.42 2219.58h12.5v4.17h-12.5zM1373.75 2219.58h4.17v4.17h-4.17zM1344.58 2223.75h12.5v4.17h-12.5zM1348.75 2227.92h12.5v4.17h-12.5zM1327.92 2232.08h4.17v4.17h-4.17zM1352.92 2232.08h12.5v4.17h-12.5zM1327.92 2236.25h8.33v4.17h-8.33zM1357.08 2236.25h12.5v4.17h-12.5zM1327.92 2240.42h12.5v4.17h-12.5zM1361.25 2240.42h12.5v4.17h-12.5zM1332.08 2244.58h12.5v4.17h-12.5zM1365.42 2244.58h12.5v4.17h-12.5zM1336.25 2248.75h12.5v4.17h-12.5zM1369.58 2248.75h8.33v4.17h-8.33zM1340.42 2252.92h12.5v4.17h-12.5zM1373.75 2252.92h4.17v4.17h-4.17zM1344.58 2257.08h12.5v4.17h-12.5zM1348.75 2261.25h12.5v4.17h-12.5zM1327.92 2265.42h4.17v4.17h-4.17zM1352.92 2265.42h12.5v4.17h-12.5zM1327.92 2269.58h8.33v4.17h-8.33zM1357.08 2269.58h12.5v4.17h-12.5zM1327.92 2273.75h12.5v4.17h-12.5zM1361.25 2273.75h12.5v4.17h-12.5zM1332.08 2277.92h12.5v4.17h-12.5zM1365.42 2277.92h12.5v4.17h-12.5zM1336.25 2282.08h12.5v4.17h-12.5zM1369.58 2282.08h8.33v4.17h-8.33zM1340.42 2286.25h12.5v4.17h-12.5zM1373.75 2286.25h4.17v4.17h-4.17zM1394.58 1915.42h4.17v4.17h-4.17zM1427.92 1915.42h4.17v4.17h-4.17zM1390.42 1919.58h4.17v4.17h-4.17zM1423.75 1919.58h4.17v4.17h-4.17zM1386.25 1923.75h4.17v4.17h-4.17zM1419.58 1923.75h4.17v4.17h-4.17zM1382.08 1927.92h8.33v4.17h-8.33zM1415.42 1927.92h8.33v4.17h-8.33zM1390.42 1932.08h4.17v4.17h-4.17zM1411.25 1932.08h4.17v4.17h-4.17zM1423.75 1932.08h4.17v4.17h-4.17zM1394.58 1936.25h4.17v4.17h-4.17zM1407.08 1936.25h4.17v4.17h-4.17zM1427.92 1936.25h4.17v4.17h-4.17zM1398.75 1940.42h8.33v4.17h-8.33zM1432.08 1940.42h4.17v4.17h-4.17zM1398.75 1944.58h4.17v4.17h-4.17zM1432.08 1944.58h4.17v4.17h-4.17zM1394.58 1948.75h4.17v4.17h-4.17zM1427.92 1948.75h4.17v4.17h-4.17zM1390.42 1952.92h4.17v4.17h-4.17zM1423.75 1952.92h4.17v4.17h-4.17zM1386.25 1957.08h4.17v4.17h-4.17zM1419.58 1957.08h4.17v4.17h-4.17zM1382.08 1961.25h8.33v4.17h-8.33zM1415.42 1961.25h8.33v4.17h-8.33zM1390.42 1965.42h4.17v4.17h-4.17zM1411.25 1965.42h4.17v4.17h-4.17zM1423.75 1965.42h4.17v4.17h-4.17zM1394.58 1969.58h4.17v4.17h-4.17zM1407.08 1969.58h4.17v4.17h-4.17zM1427.92 1969.58h4.17v4.17h-4.17zM1398.75 1973.75h8.33v4.17h-8.33zM1432.08 1973.75h4.17v4.17h-4.17zM1398.75 1977.92h4.17v4.17h-4.17zM1432.08 1977.92h4.17v4.17h-4.17zM1394.58 1982.08h4.17v4.17h-4.17zM1427.92 1982.08h4.17v4.17h-4.17zM1390.42 1986.25h4.17v4.17h-4.17zM1423.75 1986.25h4.17v4.17h-4.17zM1386.25 1990.42h4.17v4.17h-4.17zM1419.58 1990.42h4.17v4.17h-4.17zM1382.08 1994.58h8.33v4.17h-8.33zM1415.42 1994.58h8.33v4.17h-8.33zM1390.42 1998.75h4.17v4.17h-4.17zM1411.25 1998.75h4.17v4.17h-4.17zM1423.75 1998.75h4.17v4.17h-4.17zM1394.58 2002.92h4.17v4.17h-4.17zM1407.08 2002.92h4.17v4.17h-4.17zM1427.92 2002.92h4.17v4.17h-4.17zM1398.75 2007.08h8.33v4.17h-8.33zM1432.08 2007.08h4.17v4.17h-4.17zM1398.75 2011.25h4.17v4.17h-4.17zM1432.08 2011.25h4.17v4.17h-4.17zM1394.58 2015.42h4.17v4.17h-4.17zM1427.92 2015.42h4.17v4.17h-4.17zM1390.42 2019.58h4.17v4.17h-4.17zM1423.75 2019.58h4.17v4.17h-4.17zM1386.25 2023.75h4.17v4.17h-4.17zM1419.58 2023.75h4.17v4.17h-4.17zM1382.08 2027.92h8.33v4.17h-8.33zM1415.42 2027.92h8.33v4.17h-8.33zM1390.42 2032.08h4.17v4.17h-4.17zM1411.25 2032.08h4.17v4.17h-4.17zM1423.75 2032.08h4.17v4.17h-4.17zM1394.58 2036.25h4.17v4.17h-4.17zM1407.08 2036.25h4.17v4.17h-4.17zM1427.92 2036.25h4.17v4.17h-4.17zM1398.75 2040.42h8.33v4.17h-8.33zM1432.08 2040.42h4.17v4.17h-4.17zM1398.75 2044.58h4.17v4.17h-4.17zM1432.08 2044.58h4.17v4.17h-4.17zM1394.58 2048.75h4.17v4.17h-4.17zM1427.92 2048.75h4.17v4.17h-4.17zM1390.42 2052.92h4.17v4.17h-4.17zM1423.75 2052.92h4.17v4.17h-4.17zM1386.25 2057.08h4.17v4.17h-4.17zM1419.58 2057.08h4.17v4.17h-4.17zM1382.08 2061.25h8.33v4.17h-8.33zM1415.42 2061.25h8.33v4.17h-8.33zM1390.42 2065.42h4.17v4.17h-4.17zM1411.25 2065.42h4.17v4.17h-4.17zM1423.75 2065.42h4.17v4.17h-4.17zM1394.58 2069.58h4.17v4.17h-4.17zM1407.08 2069.58h4.17v4.17h-4.17zM1427.92 2069.58h4.17v4.17h-4.17zM1398.75 2073.75h8.33v4.17h-8.33zM1432.08 2073.75h4.17v4.17h-4.17zM1398.75 2077.92h4.17v4.17h-4.17zM1432.08 2077.92h4.17v4.17h-4.17zM1394.58 2082.08h4.17v4.17h-4.17zM1427.92 2082.08h4.17v4.17h-4.17zM1390.42 2086.25h4.17v4.17h-4.17zM1423.75 2086.25h4.17v4.17h-4.17zM1386.25 2090.42h4.17v4.17h-4.17zM1419.58 2090.42h4.17v4.17h-4.17zM1382.08 2094.58h8.33v4.17h-8.33zM1415.42 2094.58h8.33v4.17h-8.33zM1390.42 2098.75h4.17v4.17h-4.17zM1411.25 2098.75h4.17v4.17h-4.17zM1423.75 2098.75h4.17v4.17h-4.17zM1394.58 2102.92h4.17v4.17h-4.17zM1407.08 2102.92h4.17v4.17h-4.17zM1427.92 2102.92h4.17v4.17h-4.17zM1398.75 2107.08h8.33v4.17h-8.33zM1432.08 2107.08h4.17v4.17h-4.17zM1398.75 2111.25h4.17v4.17h-4.17zM1432.08 2111.25h4.17v4.17h-4.17zM1394.58 2115.42h4.17v4.17h-4.17zM1427.92 2115.42h4.17v4.17h-4.17zM1390.42 2119.58h4.17v4.17h-4.17zM1423.75 2119.58h4.17v4.17h-4.17zM1386.25 2123.75h4.17v4.17h-4.17zM1419.58 2123.75h4.17v4.17h-4.17zM1382.08 2127.92h8.33v4.17h-8.33zM1415.42 2127.92h8.33v4.17h-8.33zM1390.42 2132.08h4.17v4.17h-4.17zM1411.25 2132.08h4.17v4.17h-4.17zM1423.75 2132.08h4.17v4.17h-4.17zM1394.58 2136.25h4.17v4.17h-4.17zM1407.08 2136.25h4.17v4.17h-4.17zM1427.92 2136.25h4.17v4.17h-4.17zM1398.75 2140.42h8.33v4.17h-8.33zM1432.08 2140.42h4.17v4.17h-4.17zM1398.75 2144.58h4.17v4.17h-4.17zM1432.08 2144.58h4.17v4.17h-4.17zM1394.58 2148.75h4.17v4.17h-4.17zM1427.92 2148.75h4.17v4.17h-4.17zM1390.42 2152.92h4.17v4.17h-4.17zM1423.75 2152.92h4.17v4.17h-4.17zM1386.25 2157.08h4.17v4.17h-4.17zM1419.58 2157.08h4.17v4.17h-4.17zM1382.08 2161.25h8.33v4.17h-8.33zM1415.42 2161.25h8.33v4.17h-8.33zM1390.42 2165.42h4.17v4.17h-4.17zM1411.25 2165.42h4.17v4.17h-4.17zM1423.75 2165.42h4.17v4.17h-4.17zM1394.58 2169.58h4.17v4.17h-4.17zM1407.08 2169.58h4.17v4.17h-4.17zM1427.92 2169.58h4.17v4.17h-4.17zM1398.75 2173.75h8.33v4.17h-8.33zM1432.08 2173.75h4.17v4.17h-4.17zM1398.75 2177.92h4.17v4.17h-4.17zM1432.08 2177.92h4.17v4.17h-4.17zM1394.58 2182.08h4.17v4.17h-4.17zM1427.92 2182.08h4.17v4.17h-4.17zM1390.42 2186.25h4.17v4.17h-4.17zM1423.75 2186.25h4.17v4.17h-4.17zM1386.25 2190.42h4.17v4.17h-4.17zM1419.58 2190.42h4.17v4.17h-4.17zM1382.08 2194.58h8.33v4.17h-8.33zM1415.42 2194.58h8.33v4.17h-8.33zM1390.42 2198.75h4.17v4.17h-4.17zM1411.25 2198.75h4.17v4.17h-4.17zM1423.75 2198.75h4.17v4.17h-4.17zM1394.58 2202.92h4.17v4.17h-4.17zM1407.08 2202.92h4.17v4.17h-4.17zM1427.92 2202.92h4.17v4.17h-4.17zM1398.75 2207.08h8.33v4.17h-8.33zM1432.08 2207.08h4.17v4.17h-4.17zM1398.75 2211.25h4.17v4.17h-4.17zM1432.08 2211.25h4.17v4.17h-4.17zM1394.58 2215.42h4.17v4.17h-4.17zM1427.92 2215.42h4.17v4.17h-4.17zM1390.42 2219.58h4.17v4.17h-4.17zM1423.75 2219.58h4.17v4.17h-4.17zM1386.25 2223.75h4.17v4.17h-4.17zM1419.58 2223.75h4.17v4.17h-4.17zM1382.08 2227.92h8.33v4.17h-8.33zM1415.42 2227.92h8.33v4.17h-8.33zM1390.42 2232.08h4.17v4.17h-4.17zM1411.25 2232.08h4.17v4.17h-4.17zM1423.75 2232.08h4.17v4.17h-4.17zM1394.58 2236.25h4.17v4.17h-4.17zM1407.08 2236.25h4.17v4.17h-4.17zM1427.92 2236.25h4.17v4.17h-4.17zM1398.75 2240.42h8.33v4.17h-8.33zM1432.08 2240.42h4.17v4.17h-4.17zM1398.75 2244.58h4.17v4.17h-4.17zM1432.08 2244.58h4.17v4.17h-4.17zM1394.58 2248.75h4.17v4.17h-4.17zM1427.92 2248.75h4.17v4.17h-4.17zM1390.42 2252.92h4.17v4.17h-4.17zM1423.75 2252.92h4.17v4.17h-4.17zM1386.25 2257.08h4.17v4.17h-4.17zM1419.58 2257.08h4.17v4.17h-4.17zM1382.08 2261.25h8.33v4.17h-8.33zM1415.42 2261.25h8.33v4.17h-8.33zM1390.42 2265.42h4.17v4.17h-4.17zM1411.25 2265.42h4.17v4.17h-4.17zM1423.75 2265.42h4.17v4.17h-4.17zM1394.58 2269.58h4.17v4.17h-4.17zM1407.08 2269.58h4.17v4.17h-4.17zM1427.92 2269.58h4.17v4.17h-4.17zM1398.75 2273.75h8.33v4.17h-8.33zM1432.08 2273.75h4.17v4.17h-4.17zM1398.75 2277.92h4.17v4.17h-4.17zM1432.08 2277.92h4.17v4.17h-4.17zM1394.58 2282.08h4.17v4.17h-4.17zM1427.92 2282.08h4.17v4.17h-4.17zM1390.42 2286.25h4.17v4.17h-4.17zM1423.75 2286.25h4.17v4.17h-4.17zM1452.92 1894.58h16.67v4.17h-16.67zM1486.25 1894.58h4.17v4.17h-4.17zM1440.42 1911.25h12.5v4.17h-12.5zM1469.58 1911.25h16.67v4.17h-16.67zM1452.92 1927.92h16.67v4.17h-16.67zM1486.25 1927.92h4.17v4.17h-4.17zM1440.42 1944.58h12.5v4.17h-12.5zM1469.58 1944.58h16.67v4.17h-16.67zM1452.92 1961.25h16.67v4.17h-16.67zM1486.25 1961.25h4.17v4.17h-4.17zM1440.42 1977.92h12.5v4.17h-12.5zM1469.58 1977.92h16.67v4.17h-16.67zM1452.92 1994.58h16.67v4.17h-16.67zM1486.25 1994.58h4.17v4.17h-4.17zM1440.42 2011.25h12.5v4.17h-12.5zM1469.58 2011.25h16.67v4.17h-16.67zM1452.92 2027.92h16.67v4.17h-16.67zM1486.25 2027.92h4.17v4.17h-4.17zM1440.42 2044.58h12.5v4.17h-12.5zM1469.58 2044.58h16.67v4.17h-16.67zM1452.92 2061.25h16.67v4.17h-16.67zM1486.25 2061.25h4.17v4.17h-4.17zM1440.42 2077.92h12.5v4.17h-12.5zM1469.58 2077.92h16.67v4.17h-16.67zM1452.92 2094.58h16.67v4.17h-16.67zM1486.25 2094.58h4.17v4.17h-4.17zM1440.42 2111.25h12.5v4.17h-12.5zM1469.58 2111.25h16.67v4.17h-16.67zM1452.92 2127.92h16.67v4.17h-16.67zM1486.25 2127.92h4.17v4.17h-4.17zM1440.42 2144.58h12.5v4.17h-12.5zM1469.58 2144.58h16.67v4.17h-16.67zM1452.92 2161.25h16.67v4.17h-16.67zM1486.25 2161.25h4.17v4.17h-4.17zM1440.42 2177.92h12.5v4.17h-12.5zM1469.58 2177.92h16.67v4.17h-16.67zM1452.92 2194.58h16.67v4.17h-16.67zM1486.25 2194.58h4.17v4.17h-4.17zM1440.42 2211.25h12.5v4.17h-12.5zM1469.58 2211.25h16.67v4.17h-16.67zM1452.92 2227.92h16.67v4.17h-16.67zM1486.25 2227.92h4.17v4.17h-4.17zM1440.42 2244.58h12.5v4.17h-12.5zM1469.58 2244.58h16.67v4.17h-16.67zM1452.92 2261.25h16.67v4.17h-16.67zM1486.25 2261.25h4.17v4.17h-4.17zM1440.42 2277.92h12.5v4.17h-12.5zM1469.58 2277.92h16.67v4.17h-16.67zM1586.25 1907.08h4.17v4.17h-4.17zM1586.25 1927.92h4.17v16.67h-4.17zM1586.25 1961.25h4.17v16.67h-4.17zM1586.25 1994.58h4.17v16.67h-4.17zM1586.25 2027.92h4.17v16.67h-4.17zM1586.25 2061.25h4.17v16.67h-4.17zM1586.25 2094.58h4.17v16.67h-4.17zM1586.25 2127.92h4.17v16.67h-4.17zM1586.25 2161.25h4.17v16.67h-4.17zM1586.25 2194.58h4.17v16.67h-4.17zM1586.25 2227.92h4.17v16.67h-4.17zM1586.25 2261.25h4.17v16.67h-4.17zM1602.92 1911.25h4.17v16.67h-4.17zM1602.92 1944.58h4.17v16.67h-4.17zM1602.92 1977.92h4.17v16.67h-4.17zM1602.92 2011.25h4.17v16.67h-4.17zM1602.92 2044.58h4.17v16.67h-4.17zM1602.92 2077.92h4.17v16.67h-4.17zM1602.92 2111.25h4.17v16.67h-4.17zM1602.92 2144.58h4.17v16.67h-4.17zM1602.92 2177.92h4.17v16.67h-4.17zM1602.92 2211.25h4.17v16.67h-4.17zM1602.92 2244.58h4.17v16.67h-4.17zM1602.92 2277.92h4.17v12.5h-4.17zM1619.58 1907.08h4.17v4.17h-4.17zM1619.58 1927.92h4.17v16.67h-4.17zM1619.58 1961.25h4.17v16.67h-4.17zM1619.58 1994.58h4.17v16.67h-4.17zM1619.58 2027.92h4.17v16.67h-4.17zM1619.58 2061.25h4.17v16.67h-4.17zM1619.58 2094.58h4.17v16.67h-4.17zM1619.58 2127.92h4.17v16.67h-4.17zM1619.58 2161.25h4.17v16.67h-4.17zM1619.58 2194.58h4.17v16.67h-4.17zM1619.58 2227.92h4.17v16.67h-4.17zM1619.58 2261.25h4.17v16.67h-4.17zM1636.25 1907.08h4.17v4.17h-4.17zM1661.25 1907.08h12.5v4.17h-12.5zM1636.25 1911.25h8.33v4.17h-8.33zM1665.42 1911.25h12.5v4.17h-12.5zM1636.25 1915.42h12.5v4.17h-12.5zM1669.58 1915.42h12.5v4.17h-12.5zM1640.42 1919.58h12.5v4.17h-12.5zM1673.75 1919.58h12.5v4.17h-12.5zM1644.58 1923.75h12.5v4.17h-12.5zM1677.92 1923.75h8.33v4.17h-8.33zM1648.75 1927.92h12.5v4.17h-12.5zM1682.08 1927.92h4.17v4.17h-4.17zM1652.92 1932.08h12.5v4.17h-12.5zM1657.08 1936.25h12.5v4.17h-12.5zM1636.25 1940.42h4.17v4.17h-4.17zM1661.25 1940.42h12.5v4.17h-12.5zM1636.25 1944.58h8.33v4.17h-8.33zM1665.42 1944.58h12.5v4.17h-12.5zM1636.25 1948.75h12.5v4.17h-12.5zM1669.58 1948.75h12.5v4.17h-12.5zM1640.42 1952.92h12.5v4.17h-12.5zM1673.75 1952.92h12.5v4.17h-12.5zM1644.58 1957.08h12.5v4.17h-12.5zM1677.92 1957.08h8.33v4.17h-8.33zM1648.75 1961.25h12.5v4.17h-12.5zM1682.08 1961.25h4.17v4.17h-4.17zM1652.92 1965.42h12.5v4.17h-12.5zM1657.08 1969.58h12.5v4.17h-12.5zM1636.25 1973.75h4.17v4.17h-4.17zM1661.25 1973.75h12.5v4.17h-12.5zM1636.25 1977.92h8.33v4.17h-8.33zM1665.42 1977.92h12.5v4.17h-12.5zM1636.25 1982.08h12.5v4.17h-12.5zM1669.58 1982.08h12.5v4.17h-12.5zM1640.42 1986.25h12.5v4.17h-12.5zM1673.75 1986.25h12.5v4.17h-12.5zM1644.58 1990.42h12.5v4.17h-12.5zM1677.92 1990.42h8.33v4.17h-8.33zM1648.75 1994.58h12.5v4.17h-12.5zM1682.08 1994.58h4.17v4.17h-4.17zM1652.92 1998.75h12.5v4.17h-12.5zM1657.08 2002.92h12.5v4.17h-12.5zM1636.25 2007.08h4.17v4.17h-4.17zM1661.25 2007.08h12.5v4.17h-12.5zM1636.25 2011.25h8.33v4.17h-8.33zM1665.42 2011.25h12.5v4.17h-12.5zM1636.25 2015.42h12.5v4.17h-12.5zM1669.58 2015.42h12.5v4.17h-12.5zM1640.42 2019.58h12.5v4.17h-12.5zM1673.75 2019.58h12.5v4.17h-12.5zM1644.58 2023.75h12.5v4.17h-12.5zM1677.92 2023.75h8.33v4.17h-8.33zM1648.75 2027.92h12.5v4.17h-12.5zM1682.08 2027.92h4.17v4.17h-4.17zM1652.92 2032.08h12.5v4.17h-12.5zM1657.08 2036.25h12.5v4.17h-12.5zM1636.25 2040.42h4.17v4.17h-4.17zM1661.25 2040.42h12.5v4.17h-12.5zM1636.25 2044.58h8.33v4.17h-8.33zM1665.42 2044.58h12.5v4.17h-12.5zM1636.25 2048.75h12.5v4.17h-12.5zM1669.58 2048.75h12.5v4.17h-12.5zM1640.42 2052.92h12.5v4.17h-12.5zM1673.75 2052.92h12.5v4.17h-12.5zM1644.58 2057.08h12.5v4.17h-12.5zM1677.92 2057.08h8.33v4.17h-8.33zM1648.75 2061.25h12.5v4.17h-12.5zM1682.08 2061.25h4.17v4.17h-4.17zM1652.92 2065.42h12.5v4.17h-12.5zM1657.08 2069.58h12.5v4.17h-12.5zM1636.25 2073.75h4.17v4.17h-4.17zM1661.25 2073.75h12.5v4.17h-12.5zM1636.25 2077.92h8.33v4.17h-8.33zM1665.42 2077.92h12.5v4.17h-12.5zM1636.25 2082.08h12.5v4.17h-12.5zM1669.58 2082.08h12.5v4.17h-12.5zM1640.42 2086.25h12.5v4.17h-12.5zM1673.75 2086.25h12.5v4.17h-12.5zM1644.58 2090.42h12.5v4.17h-12.5zM1677.92 2090.42h8.33v4.17h-8.33zM1648.75 2094.58h12.5v4.17h-12.5zM1682.08 2094.58h4.17v4.17h-4.17zM1652.92 2098.75h12.5v4.17h-12.5zM1657.08 2102.92h12.5v4.17h-12.5zM1636.25 2107.08h4.17v4.17h-4.17zM1661.25 2107.08h12.5v4.17h-12.5zM1636.25 2111.25h8.33v4.17h-8.33zM1665.42 2111.25h12.5v4.17h-12.5zM1636.25 2115.42h12.5v4.17h-12.5zM1669.58 2115.42h12.5v4.17h-12.5zM1640.42 2119.58h12.5v4.17h-12.5zM1673.75 2119.58h12.5v4.17h-12.5zM1644.58 2123.75h12.5v4.17h-12.5zM1677.92 2123.75h8.33v4.17h-8.33zM1648.75 2127.92h12.5v4.17h-12.5zM1682.08 2127.92h4.17v4.17h-4.17zM1652.92 2132.08h12.5v4.17h-12.5zM1657.08 2136.25h12.5v4.17h-12.5zM1636.25 2140.42h4.17v4.17h-4.17zM1661.25 2140.42h12.5v4.17h-12.5zM1636.25 2144.58h8.33v4.17h-8.33zM1665.42 2144.58h12.5v4.17h-12.5zM1636.25 2148.75h12.5v4.17h-12.5zM1669.58 2148.75h12.5v4.17h-12.5zM1640.42 2152.92h12.5v4.17h-12.5zM1673.75 2152.92h12.5v4.17h-12.5zM1644.58 2157.08h12.5v4.17h-12.5zM1677.92 2157.08h8.33v4.17h-8.33zM1648.75 2161.25h12.5v4.17h-12.5zM1682.08 2161.25h4.17v4.17h-4.17zM1652.92 2165.42h12.5v4.17h-12.5zM1657.08 2169.58h12.5v4.17h-12.5zM1636.25 2173.75h4.17v4.17h-4.17zM1661.25 2173.75h12.5v4.17h-12.5zM1636.25 2177.92h8.33v4.17h-8.33zM1665.42 2177.92h12.5v4.17h-12.5zM1636.25 2182.08h12.5v4.17h-12.5zM1669.58 2182.08h12.5v4.17h-12.5zM1640.42 2186.25h12.5v4.17h-12.5zM1673.75 2186.25h12.5v4.17h-12.5zM1644.58 2190.42h12.5v4.17h-12.5zM1677.92 2190.42h8.33v4.17h-8.33zM1648.75 2194.58h12.5v4.17h-12.5zM1682.08 2194.58h4.17v4.17h-4.17zM1652.92 2198.75h12.5v4.17h-12.5zM1657.08 2202.92h12.5v4.17h-12.5zM1636.25 2207.08h4.17v4.17h-4.17zM1661.25 2207.08h12.5v4.17h-12.5zM1636.25 2211.25h8.33v4.17h-8.33zM1665.42 2211.25h12.5v4.17h-12.5zM1636.25 2215.42h12.5v4.17h-12.5zM1669.58 2215.42h12.5v4.17h-12.5zM1640.42 2219.58h12.5v4.17h-12.5zM1673.75 2219.58h12.5v4.17h-12.5zM1644.58 2223.75h12.5v4.17h-12.5zM1677.92 2223.75h8.33v4.17h-8.33zM1648.75 2227.92h12.5v4.17h-12.5zM1682.08 2227.92h4.17v4.17h-4.17zM1652.92 2232.08h12.5v4.17h-12.5zM1657.08 2236.25h12.5v4.17h-12.5zM1636.25 2240.42h4.17v4.17h-4.17zM1661.25 2240.42h12.5v4.17h-12.5zM1636.25 2244.58h8.33v4.17h-8.33zM1665.42 2244.58h12.5v4.17h-12.5zM1636.25 2248.75h12.5v4.17h-12.5zM1669.58 2248.75h12.5v4.17h-12.5zM1640.42 2252.92h12.5v4.17h-12.5zM1673.75 2252.92h12.5v4.17h-12.5zM1644.58 2257.08h12.5v4.17h-12.5zM1677.92 2257.08h8.33v4.17h-8.33zM1648.75 2261.25h12.5v4.17h-12.5zM1682.08 2261.25h4.17v4.17h-4.17zM1652.92 2265.42h12.5v4.17h-12.5zM1657.08 2269.58h12.5v4.17h-12.5zM1636.25 2273.75h4.17v4.17h-4.17zM1661.25 2273.75h12.5v4.17h-12.5zM1636.25 2277.92h8.33v4.17h-8.33zM1665.42 2277.92h12.5v4.17h-12.5zM1636.25 2282.08h12.5v4.17h-12.5zM1669.58 2282.08h12.5v4.17h-12.5zM1640.42 2286.25h12.5v4.17h-12.5zM1673.75 2286.25h12.5v4.17h-12.5zM1715.42 1894.58h8.33v4.17h-8.33zM1690.42 1898.75h4.17v4.17h-4.17zM1711.25 1898.75h4.17v4.17h-4.17zM1723.75 1898.75h4.17v4.17h-4.17zM1694.58 1902.92h4.17v4.17h-4.17zM1707.08 1902.92h4.17v4.17h-4.17zM1727.92 1902.92h4.17v4.17h-4.17zM1740.42 1902.92h4.17v4.17h-4.17zM1698.75 1907.08h8.33v4.17h-8.33zM1732.08 1907.08h8.33v4.17h-8.33zM1698.75 1911.25h4.17v4.17h-4.17zM1732.08 1911.25h4.17v4.17h-4.17zM1694.58 1915.42h4.17v4.17h-4.17zM1727.92 1915.42h4.17v4.17h-4.17zM1690.42 1919.58h4.17v4.17h-4.17zM1723.75 1919.58h4.17v4.17h-4.17zM1719.58 1923.75h4.17v4.17h-4.17zM1715.42 1927.92h8.33v4.17h-8.33zM1690.42 1932.08h4.17v4.17h-4.17zM1711.25 1932.08h4.17v4.17h-4.17zM1723.75 1932.08h4.17v4.17h-4.17zM1694.58 1936.25h4.17v4.17h-4.17zM1707.08 1936.25h4.17v4.17h-4.17zM1727.92 1936.25h4.17v4.17h-4.17zM1740.42 1936.25h4.17v4.17h-4.17zM1698.75 1940.42h8.33v4.17h-8.33zM1732.08 1940.42h8.33v4.17h-8.33zM1698.75 1944.58h4.17v4.17h-4.17zM1732.08 1944.58h4.17v4.17h-4.17zM1694.58 1948.75h4.17v4.17h-4.17zM1727.92 1948.75h4.17v4.17h-4.17zM1690.42 1952.92h4.17v4.17h-4.17zM1723.75 1952.92h4.17v4.17h-4.17zM1719.58 1957.08h4.17v4.17h-4.17zM1715.42 1961.25h8.33v4.17h-8.33zM1690.42 1965.42h4.17v4.17h-4.17zM1711.25 1965.42h4.17v4.17h-4.17zM1723.75 1965.42h4.17v4.17h-4.17zM1694.58 1969.58h4.17v4.17h-4.17zM1707.08 1969.58h4.17v4.17h-4.17zM1727.92 1969.58h4.17v4.17h-4.17zM1740.42 1969.58h4.17v4.17h-4.17zM1698.75 1973.75h8.33v4.17h-8.33zM1732.08 1973.75h8.33v4.17h-8.33zM1698.75 1977.92h4.17v4.17h-4.17zM1732.08 1977.92h4.17v4.17h-4.17zM1694.58 1982.08h4.17v4.17h-4.17zM1727.92 1982.08h4.17v4.17h-4.17zM1690.42 1986.25h4.17v4.17h-4.17zM1723.75 1986.25h4.17v4.17h-4.17zM1719.58 1990.42h4.17v4.17h-4.17zM1715.42 1994.58h8.33v4.17h-8.33zM1690.42 1998.75h4.17v4.17h-4.17zM1711.25 1998.75h4.17v4.17h-4.17zM1723.75 1998.75h4.17v4.17h-4.17zM1694.58 2002.92h4.17v4.17h-4.17zM1707.08 2002.92h4.17v4.17h-4.17zM1727.92 2002.92h4.17v4.17h-4.17zM1740.42 2002.92h4.17v4.17h-4.17zM1698.75 2007.08h8.33v4.17h-8.33zM1732.08 2007.08h8.33v4.17h-8.33zM1698.75 2011.25h4.17v4.17h-4.17zM1732.08 2011.25h4.17v4.17h-4.17zM1694.58 2015.42h4.17v4.17h-4.17zM1727.92 2015.42h4.17v4.17h-4.17zM1690.42 2019.58h4.17v4.17h-4.17zM1723.75 2019.58h4.17v4.17h-4.17zM1719.58 2023.75h4.17v4.17h-4.17zM1715.42 2027.92h8.33v4.17h-8.33zM1690.42 2032.08h4.17v4.17h-4.17zM1711.25 2032.08h4.17v4.17h-4.17zM1723.75 2032.08h4.17v4.17h-4.17zM1694.58 2036.25h4.17v4.17h-4.17zM1707.08 2036.25h4.17v4.17h-4.17zM1727.92 2036.25h4.17v4.17h-4.17zM1740.42 2036.25h4.17v4.17h-4.17zM1698.75 2040.42h8.33v4.17h-8.33zM1732.08 2040.42h8.33v4.17h-8.33zM1698.75 2044.58h4.17v4.17h-4.17zM1732.08 2044.58h4.17v4.17h-4.17zM1694.58 2048.75h4.17v4.17h-4.17zM1727.92 2048.75h4.17v4.17h-4.17zM1690.42 2052.92h4.17v4.17h-4.17zM1723.75 2052.92h4.17v4.17h-4.17zM1719.58 2057.08h4.17v4.17h-4.17zM1715.42 2061.25h8.33v4.17h-8.33zM1690.42 2065.42h4.17v4.17h-4.17zM1711.25 2065.42h4.17v4.17h-4.17zM1723.75 2065.42h4.17v4.17h-4.17zM1694.58 2069.58h4.17v4.17h-4.17zM1707.08 2069.58h4.17v4.17h-4.17zM1727.92 2069.58h4.17v4.17h-4.17zM1740.42 2069.58h4.17v4.17h-4.17zM1698.75 2073.75h8.33v4.17h-8.33zM1732.08 2073.75h8.33v4.17h-8.33zM1698.75 2077.92h4.17v4.17h-4.17zM1732.08 2077.92h4.17v4.17h-4.17zM1694.58 2082.08h4.17v4.17h-4.17zM1727.92 2082.08h4.17v4.17h-4.17zM1690.42 2086.25h4.17v4.17h-4.17zM1723.75 2086.25h4.17v4.17h-4.17zM1719.58 2090.42h4.17v4.17h-4.17zM1715.42 2094.58h8.33v4.17h-8.33zM1690.42 2098.75h4.17v4.17h-4.17zM1711.25 2098.75h4.17v4.17h-4.17zM1723.75 2098.75h4.17v4.17h-4.17zM1694.58 2102.92h4.17v4.17h-4.17zM1707.08 2102.92h4.17v4.17h-4.17zM1727.92 2102.92h4.17v4.17h-4.17zM1740.42 2102.92h4.17v4.17h-4.17zM1698.75 2107.08h8.33v4.17h-8.33zM1732.08 2107.08h8.33v4.17h-8.33zM1698.75 2111.25h4.17v4.17h-4.17zM1732.08 2111.25h4.17v4.17h-4.17zM1694.58 2115.42h4.17v4.17h-4.17zM1727.92 2115.42h4.17v4.17h-4.17zM1690.42 2119.58h4.17v4.17h-4.17zM1723.75 2119.58h4.17v4.17h-4.17zM1719.58 2123.75h4.17v4.17h-4.17zM1715.42 2127.92h8.33v4.17h-8.33zM1690.42 2132.08h4.17v4.17h-4.17zM1711.25 2132.08h4.17v4.17h-4.17zM1723.75 2132.08h4.17v4.17h-4.17zM1694.58 2136.25h4.17v4.17h-4.17zM1707.08 2136.25h4.17v4.17h-4.17zM1727.92 2136.25h4.17v4.17h-4.17zM1740.42 2136.25h4.17v4.17h-4.17zM1698.75 2140.42h8.33v4.17h-8.33zM1732.08 2140.42h8.33v4.17h-8.33zM1698.75 2144.58h4.17v4.17h-4.17zM1732.08 2144.58h4.17v4.17h-4.17zM1694.58 2148.75h4.17v4.17h-4.17zM1727.92 2148.75h4.17v4.17h-4.17zM1690.42 2152.92h4.17v4.17h-4.17zM1723.75 2152.92h4.17v4.17h-4.17zM1719.58 2157.08h4.17v4.17h-4.17zM1715.42 2161.25h8.33v4.17h-8.33zM1690.42 2165.42h4.17v4.17h-4.17zM1711.25 2165.42h4.17v4.17h-4.17zM1723.75 2165.42h4.17v4.17h-4.17zM1694.58 2169.58h4.17v4.17h-4.17zM1707.08 2169.58h4.17v4.17h-4.17zM1727.92 2169.58h4.17v4.17h-4.17zM1740.42 2169.58h4.17v4.17h-4.17zM1698.75 2173.75h8.33v4.17h-8.33zM1732.08 2173.75h8.33v4.17h-8.33zM1698.75 2177.92h4.17v4.17h-4.17zM1732.08 2177.92h4.17v4.17h-4.17zM1694.58 2182.08h4.17v4.17h-4.17zM1727.92 2182.08h4.17v4.17h-4.17zM1690.42 2186.25h4.17v4.17h-4.17zM1723.75 2186.25h4.17v4.17h-4.17zM1719.58 2190.42h4.17v4.17h-4.17zM1715.42 2194.58h8.33v4.17h-8.33zM1690.42 2198.75h4.17v4.17h-4.17zM1711.25 2198.75h4.17v4.17h-4.17zM1723.75 2198.75h4.17v4.17h-4.17zM1694.58 2202.92h4.17v4.17h-4.17zM1707.08 2202.92h4.17v4.17h-4.17zM1727.92 2202.92h4.17v4.17h-4.17zM1740.42 2202.92h4.17v4.17h-4.17zM1698.75 2207.08h8.33v4.17h-8.33zM1732.08 2207.08h8.33v4.17h-8.33zM1698.75 2211.25h4.17v4.17h-4.17zM1732.08 2211.25h4.17v4.17h-4.17zM1694.58 2215.42h4.17v4.17h-4.17zM1727.92 2215.42h4.17v4.17h-4.17zM1690.42 2219.58h4.17v4.17h-4.17zM1723.75 2219.58h4.17v4.17h-4.17zM1719.58 2223.75h4.17v4.17h-4.17zM1715.42 2227.92h8.33v4.17h-8.33zM1690.42 2232.08h4.17v4.17h-4.17zM1711.25 2232.08h4.17v4.17h-4.17zM1723.75 2232.08h4.17v4.17h-4.17zM1694.58 2236.25h4.17v4.17h-4.17zM1707.08 2236.25h4.17v4.17h-4.17zM1727.92 2236.25h4.17v4.17h-4.17zM1740.42 2236.25h4.17v4.17h-4.17zM1698.75 2240.42h8.33v4.17h-8.33zM1732.08 2240.42h8.33v4.17h-8.33zM1698.75 2244.58h4.17v4.17h-4.17zM1732.08 2244.58h4.17v4.17h-4.17zM1694.58 2248.75h4.17v4.17h-4.17zM1727.92 2248.75h4.17v4.17h-4.17zM1690.42 2252.92h4.17v4.17h-4.17zM1723.75 2252.92h4.17v4.17h-4.17zM1719.58 2257.08h4.17v4.17h-4.17zM1715.42 2261.25h8.33v4.17h-8.33zM1690.42 2265.42h4.17v4.17h-4.17zM1711.25 2265.42h4.17v4.17h-4.17zM1723.75 2265.42h4.17v4.17h-4.17zM1694.58 2269.58h4.17v4.17h-4.17zM1707.08 2269.58h4.17v4.17h-4.17zM1727.92 2269.58h4.17v4.17h-4.17zM1740.42 2269.58h4.17v4.17h-4.17zM1698.75 2273.75h8.33v4.17h-8.33zM1732.08 2273.75h8.33v4.17h-8.33zM1698.75 2277.92h4.17v4.17h-4.17zM1732.08 2277.92h4.17v4.17h-4.17zM1694.58 2282.08h4.17v4.17h-4.17zM1727.92 2282.08h4.17v4.17h-4.17zM1690.42 2286.25h4.17v4.17h-4.17zM1723.75 2286.25h4.17v4.17h-4.17zM1748.75 1877.92h4.17v4.17h-4.17zM1769.58 1877.92h16.67v4.17h-16.67zM1752.92 1894.58h16.67v4.17h-16.67zM1786.25 1894.58h12.5v4.17h-12.5zM1748.75 1911.25h4.17v4.17h-4.17zM1769.58 1911.25h16.67v4.17h-16.67zM1752.92 1927.92h16.67v4.17h-16.67zM1786.25 1927.92h12.5v4.17h-12.5zM1748.75 1944.58h4.17v4.17h-4.17zM1769.58 1944.58h16.67v4.17h-16.67zM1752.92 1961.25h16.67v4.17h-16.67zM1786.25 1961.25h12.5v4.17h-12.5zM1748.75 1977.92h4.17v4.17h-4.17zM1769.58 1977.92h16.67v4.17h-16.67zM1752.92 1994.58h16.67v4.17h-16.67zM1786.25 1994.58h12.5v4.17h-12.5zM1748.75 2011.25h4.17v4.17h-4.17zM1769.58 2011.25h16.67v4.17h-16.67zM1752.92 2027.92h16.67v4.17h-16.67zM1786.25 2027.92h12.5v4.17h-12.5zM1748.75 2044.58h4.17v4.17h-4.17zM1769.58 2044.58h16.67v4.17h-16.67zM1752.92 2061.25h16.67v4.17h-16.67zM1786.25 2061.25h12.5v4.17h-12.5zM1748.75 2077.92h4.17v4.17h-4.17zM1769.58 2077.92h16.67v4.17h-16.67zM1752.92 2094.58h16.67v4.17h-16.67zM1786.25 2094.58h12.5v4.17h-12.5zM1748.75 2111.25h4.17v4.17h-4.17zM1769.58 2111.25h16.67v4.17h-16.67zM1752.92 2127.92h16.67v4.17h-16.67zM1786.25 2127.92h12.5v4.17h-12.5zM1748.75 2144.58h4.17v4.17h-4.17zM1769.58 2144.58h16.67v4.17h-16.67zM1752.92 2161.25h16.67v4.17h-16.67zM1786.25 2161.25h12.5v4.17h-12.5zM1748.75 2177.92h4.17v4.17h-4.17zM1769.58 2177.92h16.67v4.17h-16.67zM1752.92 2194.58h16.67v4.17h-16.67zM1786.25 2194.58h12.5v4.17h-12.5zM1748.75 2211.25h4.17v4.17h-4.17zM1769.58 2211.25h16.67v4.17h-16.67zM1752.92 2227.92h16.67v4.17h-16.67zM1786.25 2227.92h12.5v4.17h-12.5zM1748.75 2244.58h4.17v4.17h-4.17zM1769.58 2244.58h16.67v4.17h-16.67zM1752.92 2261.25h16.67v4.17h-16.67zM1786.25 2261.25h12.5v4.17h-12.5zM1748.75 2277.92h4.17v4.17h-4.17zM1769.58 2277.92h16.67v4.17h-16.67zM1886.25 1894.58h4.17v16.67h-4.17zM1886.25 1927.92h4.17v16.67h-4.17zM1886.25 1961.25h4.17v16.67h-4.17zM1886.25 1994.58h4.17v16.67h-4.17zM1886.25 2027.92h4.17v16.67h-4.17zM1886.25 2061.25h4.17v16.67h-4.17zM1886.25 2094.58h4.17v16.67h-4.17zM1886.25 2127.92h4.17v16.67h-4.17zM1886.25 2161.25h4.17v16.67h-4.17zM1886.25 2194.58h4.17v16.67h-4.17zM1886.25 2227.92h4.17v16.67h-4.17zM1886.25 2261.25h4.17v16.67h-4.17zM1902.92 1877.92h4.17v16.67h-4.17zM1902.92 1911.25h4.17v16.67h-4.17zM1902.92 1944.58h4.17v16.67h-4.17zM1902.92 1977.92h4.17v16.67h-4.17zM1902.92 2011.25h4.17v16.67h-4.17zM1902.92 2044.58h4.17v16.67h-4.17zM1902.92 2077.92h4.17v16.67h-4.17zM1902.92 2111.25h4.17v16.67h-4.17zM1902.92 2144.58h4.17v16.67h-4.17zM1902.92 2177.92h4.17v16.67h-4.17zM1902.92 2211.25h4.17v16.67h-4.17zM1902.92 2244.58h4.17v16.67h-4.17zM1902.92 2277.92h4.17v12.5h-4.17zM1919.58 1894.58h4.17v16.67h-4.17zM1919.58 1927.92h4.17v16.67h-4.17zM1919.58 1961.25h4.17v16.67h-4.17zM1919.58 1994.58h4.17v16.67h-4.17zM1919.58 2027.92h4.17v16.67h-4.17zM1919.58 2061.25h4.17v16.67h-4.17zM1919.58 2094.58h4.17v16.67h-4.17zM1919.58 2127.92h4.17v16.67h-4.17zM1919.58 2161.25h4.17v16.67h-4.17zM1919.58 2194.58h4.17v16.67h-4.17zM1919.58 2227.92h4.17v16.67h-4.17zM1919.58 2261.25h4.17v16.67h-4.17zM1936.25 1877.92h4.17v16.67h-4.17zM1936.25 1911.25h4.17v16.67h-4.17zM1936.25 1944.58h4.17v16.67h-4.17zM1936.25 1977.92h4.17v16.67h-4.17zM1936.25 2011.25h4.17v16.67h-4.17zM1936.25 2044.58h4.17v16.67h-4.17zM1936.25 2077.92h4.17v16.67h-4.17zM1936.25 2111.25h4.17v16.67h-4.17zM1936.25 2144.58h4.17v16.67h-4.17zM1936.25 2177.92h4.17v16.67h-4.17zM1936.25 2211.25h4.17v16.67h-4.17zM1936.25 2244.58h4.17v16.67h-4.17zM1936.25 2277.92h4.17v12.5h-4.17zM1957.08 1869.58h12.5v4.17h-12.5zM1990.42 1869.58h4.17v4.17h-4.17zM1961.25 1873.75h12.5v4.17h-12.5zM1965.42 1877.92h12.5v4.17h-12.5zM1944.58 1882.08h4.17v4.17h-4.17zM1969.58 1882.08h12.5v4.17h-12.5zM1944.58 1886.25h8.33v4.17h-8.33zM1973.75 1886.25h12.5v4.17h-12.5zM1944.58 1890.42h12.5v4.17h-12.5zM1977.92 1890.42h12.5v4.17h-12.5zM1948.75 1894.58h12.5v4.17h-12.5zM1982.08 1894.58h12.5v4.17h-12.5zM1952.92 1898.75h12.5v4.17h-12.5zM1986.25 1898.75h8.33v4.17h-8.33zM1957.08 1902.92h12.5v4.17h-12.5zM1990.42 1902.92h4.17v4.17h-4.17zM1961.25 1907.08h12.5v4.17h-12.5zM1965.42 1911.25h12.5v4.17h-12.5zM1944.58 1915.42h4.17v4.17h-4.17zM1969.58 1915.42h12.5v4.17h-12.5zM1944.58 1919.58h8.33v4.17h-8.33zM1973.75 1919.58h12.5v4.17h-12.5zM1944.58 1923.75h12.5v4.17h-12.5zM1977.92 1923.75h12.5v4.17h-12.5zM1948.75 1927.92h12.5v4.17h-12.5zM1982.08 1927.92h12.5v4.17h-12.5zM1952.92 1932.08h12.5v4.17h-12.5zM1986.25 1932.08h8.33v4.17h-8.33zM1957.08 1936.25h12.5v4.17h-12.5zM1990.42 1936.25h4.17v4.17h-4.17zM1961.25 1940.42h12.5v4.17h-12.5zM1965.42 1944.58h12.5v4.17h-12.5zM1944.58 1948.75h4.17v4.17h-4.17zM1969.58 1948.75h12.5v4.17h-12.5zM1944.58 1952.92h8.33v4.17h-8.33zM1973.75 1952.92h12.5v4.17h-12.5zM1944.58 1957.08h12.5v4.17h-12.5zM1977.92 1957.08h12.5v4.17h-12.5zM1948.75 1961.25h12.5v4.17h-12.5zM1982.08 1961.25h12.5v4.17h-12.5zM1952.92 1965.42h12.5v4.17h-12.5zM1986.25 1965.42h8.33v4.17h-8.33zM1957.08 1969.58h12.5v4.17h-12.5zM1990.42 1969.58h4.17v4.17h-4.17zM1961.25 1973.75h12.5v4.17h-12.5zM1965.42 1977.92h12.5v4.17h-12.5zM1944.58 1982.08h4.17v4.17h-4.17zM1969.58 1982.08h12.5v4.17h-12.5zM1944.58 1986.25h8.33v4.17h-8.33zM1973.75 1986.25h12.5v4.17h-12.5zM1944.58 1990.42h12.5v4.17h-12.5zM1977.92 1990.42h12.5v4.17h-12.5zM1948.75 1994.58h12.5v4.17h-12.5zM1982.08 1994.58h12.5v4.17h-12.5zM1952.92 1998.75h12.5v4.17h-12.5zM1986.25 1998.75h8.33v4.17h-8.33zM1957.08 2002.92h12.5v4.17h-12.5zM1990.42 2002.92h4.17v4.17h-4.17zM1961.25 2007.08h12.5v4.17h-12.5zM1965.42 2011.25h12.5v4.17h-12.5zM1944.58 2015.42h4.17v4.17h-4.17zM1969.58 2015.42h12.5v4.17h-12.5zM1944.58 2019.58h8.33v4.17h-8.33zM1973.75 2019.58h12.5v4.17h-12.5zM1944.58 2023.75h12.5v4.17h-12.5zM1977.92 2023.75h12.5v4.17h-12.5zM1948.75 2027.92h12.5v4.17h-12.5zM1982.08 2027.92h12.5v4.17h-12.5zM1952.92 2032.08h12.5v4.17h-12.5zM1986.25 2032.08h8.33v4.17h-8.33zM1957.08 2036.25h12.5v4.17h-12.5zM1990.42 2036.25h4.17v4.17h-4.17zM1961.25 2040.42h12.5v4.17h-12.5zM1965.42 2044.58h12.5v4.17h-12.5zM1944.58 2048.75h4.17v4.17h-4.17zM1969.58 2048.75h12.5v4.17h-12.5zM1944.58 2052.92h8.33v4.17h-8.33zM1973.75 2052.92h12.5v4.17h-12.5zM1944.58 2057.08h12.5v4.17h-12.5zM1977.92 2057.08h12.5v4.17h-12.5zM1948.75 2061.25h12.5v4.17h-12.5zM1982.08 2061.25h12.5v4.17h-12.5zM1952.92 2065.42h12.5v4.17h-12.5zM1986.25 2065.42h8.33v4.17h-8.33zM1957.08 2069.58h12.5v4.17h-12.5zM1990.42 2069.58h4.17v4.17h-4.17zM1961.25 2073.75h12.5v4.17h-12.5zM1965.42 2077.92h12.5v4.17h-12.5zM1944.58 2082.08h4.17v4.17h-4.17zM1969.58 2082.08h12.5v4.17h-12.5zM1944.58 2086.25h8.33v4.17h-8.33zM1973.75 2086.25h12.5v4.17h-12.5zM1944.58 2090.42h12.5v4.17h-12.5zM1977.92 2090.42h12.5v4.17h-12.5zM1948.75 2094.58h12.5v4.17h-12.5zM1982.08 2094.58h12.5v4.17h-12.5zM1952.92 2098.75h12.5v4.17h-12.5zM1986.25 2098.75h8.33v4.17h-8.33zM1957.08 2102.92h12.5v4.17h-12.5zM1990.42 2102.92h4.17v4.17h-4.17zM1961.25 2107.08h12.5v4.17h-12.5zM1965.42 2111.25h12.5v4.17h-12.5zM1944.58 2115.42h4.17v4.17h-4.17zM1969.58 2115.42h12.5v4.17h-12.5zM1944.58 2119.58h8.33v4.17h-8.33zM1973.75 2119.58h12.5v4.17h-12.5zM1944.58 2123.75h12.5v4.17h-12.5zM1977.92 2123.75h12.5v4.17h-12.5zM1948.75 2127.92h12.5v4.17h-12.5zM1982.08 2127.92h12.5v4.17h-12.5zM1952.92 2132.08h12.5v4.17h-12.5zM1986.25 2132.08h8.33v4.17h-8.33zM1957.08 2136.25h12.5v4.17h-12.5zM1990.42 2136.25h4.17v4.17h-4.17zM1961.25 2140.42h12.5v4.17h-12.5zM1965.42 2144.58h12.5v4.17h-12.5zM1944.58 2148.75h4.17v4.17h-4.17zM1969.58 2148.75h12.5v4.17h-12.5zM1944.58 2152.92h8.33v4.17h-8.33zM1973.75 2152.92h12.5v4.17h-12.5zM1944.58 2157.08h12.5v4.17h-12.5zM1977.92 2157.08h12.5v4.17h-12.5zM1948.75 2161.25h12.5v4.17h-12.5zM1982.08 2161.25h12.5v4.17h-12.5zM1952.92 2165.42h12.5v4.17h-12.5zM1986.25 2165.42h8.33v4.17h-8.33zM1957.08 2169.58h12.5v4.17h-12.5zM1990.42 2169.58h4.17v4.17h-4.17zM1961.25 2173.75h12.5v4.17h-12.5zM1965.42 2177.92h12.5v4.17h-12.5zM1944.58 2182.08h4.17v4.17h-4.17zM1969.58 2182.08h12.5v4.17h-12.5zM1944.58 2186.25h8.33v4.17h-8.33zM1973.75 2186.25h12.5v4.17h-12.5zM1944.58 2190.42h12.5v4.17h-12.5zM1977.92 2190.42h12.5v4.17h-12.5zM1948.75 2194.58h12.5v4.17h-12.5zM1982.08 2194.58h12.5v4.17h-12.5zM1952.92 2198.75h12.5v4.17h-12.5zM1986.25 2198.75h8.33v4.17h-8.33zM1957.08 2202.92h12.5v4.17h-12.5zM1990.42 2202.92h4.17v4.17h-4.17zM1961.25 2207.08h12.5v4.17h-12.5zM1965.42 2211.25h12.5v4.17h-12.5zM1944.58 2215.42h4.17v4.17h-4.17zM1969.58 2215.42h12.5v4.17h-12.5zM1944.58 2219.58h8.33v4.17h-8.33zM1973.75 2219.58h12.5v4.17h-12.5zM1944.58 2223.75h12.5v4.17h-12.5zM1977.92 2223.75h12.5v4.17h-12.5zM1948.75 2227.92h12.5v4.17h-12.5zM1982.08 2227.92h12.5v4.17h-12.5zM1952.92 2232.08h12.5v4.17h-12.5zM1986.25 2232.08h8.33v4.17h-8.33zM1957.08 2236.25h12.5v4.17h-12.5zM1990.42 2236.25h4.17v4.17h-4.17zM1961.25 2240.42h12.5v4.17h-12.5zM1965.42 2244.58h12.5v4.17h-12.5zM1944.58 2248.75h4.17v4.17h-4.17zM1969.58 2248.75h12.5v4.17h-12.5zM1944.58 2252.92h8.33v4.17h-8.33zM1973.75 2252.92h12.5v4.17h-12.5zM1944.58 2257.08h12.5v4.17h-12.5zM1977.92 2257.08h12.5v4.17h-12.5zM1948.75 2261.25h12.5v4.17h-12.5zM1982.08 2261.25h12.5v4.17h-12.5zM1952.92 2265.42h12.5v4.17h-12.5zM1986.25 2265.42h8.33v4.17h-8.33zM1957.08 2269.58h12.5v4.17h-12.5zM1990.42 2269.58h4.17v4.17h-4.17zM1961.25 2273.75h12.5v4.17h-12.5zM1965.42 2277.92h12.5v4.17h-12.5zM1944.58 2282.08h4.17v4.17h-4.17zM1969.58 2282.08h12.5v4.17h-12.5zM1944.58 2286.25h8.33v4.17h-8.33zM1973.75 2286.25h12.5v4.17h-12.5zM2011.25 1898.75h4.17v4.17h-4.17zM2023.75 1898.75h4.17v4.17h-4.17zM2044.58 1898.75h4.17v4.17h-4.17zM2007.08 1902.92h4.17v4.17h-4.17zM2027.92 1902.92h4.17v4.17h-4.17zM2040.42 1902.92h4.17v4.17h-4.17zM1998.75 1907.08h8.33v4.17h-8.33zM2032.08 1907.08h8.33v4.17h-8.33zM1998.75 1911.25h4.17v4.17h-4.17zM2032.08 1911.25h4.17v4.17h-4.17zM2027.92 1915.42h4.17v4.17h-4.17zM2023.75 1919.58h4.17v4.17h-4.17zM2019.58 1923.75h4.17v4.17h-4.17zM2015.42 1927.92h8.33v4.17h-8.33zM2011.25 1932.08h4.17v4.17h-4.17zM2023.75 1932.08h4.17v4.17h-4.17zM2044.58 1932.08h4.17v4.17h-4.17zM2007.08 1936.25h4.17v4.17h-4.17zM2027.92 1936.25h4.17v4.17h-4.17zM2040.42 1936.25h4.17v4.17h-4.17zM1998.75 1940.42h8.33v4.17h-8.33zM2032.08 1940.42h8.33v4.17h-8.33zM1998.75 1944.58h4.17v4.17h-4.17zM2032.08 1944.58h4.17v4.17h-4.17zM2027.92 1948.75h4.17v4.17h-4.17zM2023.75 1952.92h4.17v4.17h-4.17zM2019.58 1957.08h4.17v4.17h-4.17zM2015.42 1961.25h8.33v4.17h-8.33zM2011.25 1965.42h4.17v4.17h-4.17zM2023.75 1965.42h4.17v4.17h-4.17zM2044.58 1965.42h4.17v4.17h-4.17zM2007.08 1969.58h4.17v4.17h-4.17zM2027.92 1969.58h4.17v4.17h-4.17zM2040.42 1969.58h4.17v4.17h-4.17zM1998.75 1973.75h8.33v4.17h-8.33zM2032.08 1973.75h8.33v4.17h-8.33zM1998.75 1977.92h4.17v4.17h-4.17zM2032.08 1977.92h4.17v4.17h-4.17zM2027.92 1982.08h4.17v4.17h-4.17zM2023.75 1986.25h4.17v4.17h-4.17zM2019.58 1990.42h4.17v4.17h-4.17zM2015.42 1994.58h8.33v4.17h-8.33zM2011.25 1998.75h4.17v4.17h-4.17zM2023.75 1998.75h4.17v4.17h-4.17zM2044.58 1998.75h4.17v4.17h-4.17zM2007.08 2002.92h4.17v4.17h-4.17zM2027.92 2002.92h4.17v4.17h-4.17zM2040.42 2002.92h4.17v4.17h-4.17zM1998.75 2007.08h8.33v4.17h-8.33zM2032.08 2007.08h8.33v4.17h-8.33zM1998.75 2011.25h4.17v4.17h-4.17zM2032.08 2011.25h4.17v4.17h-4.17zM2027.92 2015.42h4.17v4.17h-4.17zM2023.75 2019.58h4.17v4.17h-4.17zM2019.58 2023.75h4.17v4.17h-4.17zM2015.42 2027.92h8.33v4.17h-8.33zM2011.25 2032.08h4.17v4.17h-4.17zM2023.75 2032.08h4.17v4.17h-4.17zM2044.58 2032.08h4.17v4.17h-4.17zM2007.08 2036.25h4.17v4.17h-4.17zM2027.92 2036.25h4.17v4.17h-4.17zM2040.42 2036.25h4.17v4.17h-4.17zM1998.75 2040.42h8.33v4.17h-8.33zM2032.08 2040.42h8.33v4.17h-8.33zM1998.75 2044.58h4.17v4.17h-4.17zM2032.08 2044.58h4.17v4.17h-4.17zM2027.92 2048.75h4.17v4.17h-4.17zM2023.75 2052.92h4.17v4.17h-4.17zM2019.58 2057.08h4.17v4.17h-4.17zM2015.42 2061.25h8.33v4.17h-8.33zM2011.25 2065.42h4.17v4.17h-4.17zM2023.75 2065.42h4.17v4.17h-4.17zM2044.58 2065.42h4.17v4.17h-4.17zM2007.08 2069.58h4.17v4.17h-4.17zM2027.92 2069.58h4.17v4.17h-4.17zM2040.42 2069.58h4.17v4.17h-4.17zM1998.75 2073.75h8.33v4.17h-8.33zM2032.08 2073.75h8.33v4.17h-8.33zM1998.75 2077.92h4.17v4.17h-4.17zM2032.08 2077.92h4.17v4.17h-4.17zM2027.92 2082.08h4.17v4.17h-4.17zM2023.75 2086.25h4.17v4.17h-4.17zM2019.58 2090.42h4.17v4.17h-4.17zM2015.42 2094.58h8.33v4.17h-8.33zM2011.25 2098.75h4.17v4.17h-4.17zM2023.75 2098.75h4.17v4.17h-4.17zM2044.58 2098.75h4.17v4.17h-4.17zM2007.08 2102.92h4.17v4.17h-4.17zM2027.92 2102.92h4.17v4.17h-4.17zM2040.42 2102.92h4.17v4.17h-4.17zM1998.75 2107.08h8.33v4.17h-8.33zM2032.08 2107.08h8.33v4.17h-8.33zM1998.75 2111.25h4.17v4.17h-4.17zM2032.08 2111.25h4.17v4.17h-4.17zM2027.92 2115.42h4.17v4.17h-4.17zM2023.75 2119.58h4.17v4.17h-4.17zM2019.58 2123.75h4.17v4.17h-4.17zM2015.42 2127.92h8.33v4.17h-8.33zM2011.25 2132.08h4.17v4.17h-4.17zM2023.75 2132.08h4.17v4.17h-4.17zM2044.58 2132.08h4.17v4.17h-4.17zM2007.08 2136.25h4.17v4.17h-4.17zM2027.92 2136.25h4.17v4.17h-4.17zM2040.42 2136.25h4.17v4.17h-4.17zM1998.75 2140.42h8.33v4.17h-8.33zM2032.08 2140.42h8.33v4.17h-8.33zM1998.75 2144.58h4.17v4.17h-4.17zM2032.08 2144.58h4.17v4.17h-4.17zM2027.92 2148.75h4.17v4.17h-4.17zM2023.75 2152.92h4.17v4.17h-4.17zM2019.58 2157.08h4.17v4.17h-4.17zM2015.42 2161.25h8.33v4.17h-8.33zM2011.25 2165.42h4.17v4.17h-4.17zM2023.75 2165.42h4.17v4.17h-4.17zM2044.58 2165.42h4.17v4.17h-4.17zM2007.08 2169.58h4.17v4.17h-4.17zM2027.92 2169.58h4.17v4.17h-4.17zM2040.42 2169.58h4.17v4.17h-4.17zM1998.75 2173.75h8.33v4.17h-8.33zM2032.08 2173.75h8.33v4.17h-8.33zM1998.75 2177.92h4.17v4.17h-4.17zM2032.08 2177.92h4.17v4.17h-4.17zM2027.92 2182.08h4.17v4.17h-4.17zM2023.75 2186.25h4.17v4.17h-4.17zM2019.58 2190.42h4.17v4.17h-4.17zM2015.42 2194.58h8.33v4.17h-8.33zM2011.25 2198.75h4.17v4.17h-4.17zM2023.75 2198.75h4.17v4.17h-4.17zM2044.58 2198.75h4.17v4.17h-4.17zM2007.08 2202.92h4.17v4.17h-4.17zM2027.92 2202.92h4.17v4.17h-4.17zM2040.42 2202.92h4.17v4.17h-4.17zM1998.75 2207.08h8.33v4.17h-8.33zM2032.08 2207.08h8.33v4.17h-8.33zM1998.75 2211.25h4.17v4.17h-4.17zM2032.08 2211.25h4.17v4.17h-4.17zM2027.92 2215.42h4.17v4.17h-4.17zM2023.75 2219.58h4.17v4.17h-4.17zM2019.58 2223.75h4.17v4.17h-4.17zM2015.42 2227.92h8.33v4.17h-8.33zM2011.25 2232.08h4.17v4.17h-4.17zM2023.75 2232.08h4.17v4.17h-4.17zM2044.58 2232.08h4.17v4.17h-4.17zM2007.08 2236.25h4.17v4.17h-4.17zM2027.92 2236.25h4.17v4.17h-4.17zM2040.42 2236.25h4.17v4.17h-4.17zM1998.75 2240.42h8.33v4.17h-8.33zM2032.08 2240.42h8.33v4.17h-8.33zM1998.75 2244.58h4.17v4.17h-4.17zM2032.08 2244.58h4.17v4.17h-4.17zM2027.92 2248.75h4.17v4.17h-4.17zM2023.75 2252.92h4.17v4.17h-4.17zM2019.58 2257.08h4.17v4.17h-4.17zM2015.42 2261.25h8.33v4.17h-8.33zM2011.25 2265.42h4.17v4.17h-4.17zM2023.75 2265.42h4.17v4.17h-4.17zM2044.58 2265.42h4.17v4.17h-4.17zM2007.08 2269.58h4.17v4.17h-4.17zM2027.92 2269.58h4.17v4.17h-4.17zM2040.42 2269.58h4.17v4.17h-4.17zM1998.75 2273.75h8.33v4.17h-8.33zM2032.08 2273.75h8.33v4.17h-8.33zM1998.75 2277.92h4.17v4.17h-4.17zM2032.08 2277.92h4.17v4.17h-4.17zM2027.92 2282.08h4.17v4.17h-4.17zM2023.75 2286.25h4.17v4.17h-4.17zM2069.58 1877.92h16.67v4.17h-16.67zM2102.92 1877.92h4.17v4.17h-4.17zM2052.92 1894.58h16.67v4.17h-16.67zM2086.25 1894.58h16.67v4.17h-16.67zM2069.58 1911.25h16.67v4.17h-16.67zM2102.92 1911.25h4.17v4.17h-4.17zM2052.92 1927.92h16.67v4.17h-16.67zM2086.25 1927.92h16.67v4.17h-16.67zM2069.58 1944.58h16.67v4.17h-16.67zM2102.92 1944.58h4.17v4.17h-4.17zM2052.92 1961.25h16.67v4.17h-16.67zM2086.25 1961.25h16.67v4.17h-16.67zM2069.58 1977.92h16.67v4.17h-16.67zM2102.92 1977.92h4.17v4.17h-4.17zM2052.92 1994.58h16.67v4.17h-16.67zM2086.25 1994.58h16.67v4.17h-16.67zM2069.58 2011.25h16.67v4.17h-16.67zM2102.92 2011.25h4.17v4.17h-4.17zM2052.92 2027.92h16.67v4.17h-16.67zM2086.25 2027.92h16.67v4.17h-16.67zM2069.58 2044.58h16.67v4.17h-16.67zM2102.92 2044.58h4.17v4.17h-4.17zM2052.92 2061.25h16.67v4.17h-16.67zM2086.25 2061.25h16.67v4.17h-16.67zM2069.58 2077.92h16.67v4.17h-16.67zM2102.92 2077.92h4.17v4.17h-4.17zM2052.92 2094.58h16.67v4.17h-16.67zM2086.25 2094.58h16.67v4.17h-16.67zM2069.58 2111.25h16.67v4.17h-16.67zM2102.92 2111.25h4.17v4.17h-4.17zM2052.92 2127.92h16.67v4.17h-16.67zM2086.25 2127.92h16.67v4.17h-16.67zM2069.58 2144.58h16.67v4.17h-16.67zM2102.92 2144.58h4.17v4.17h-4.17zM2052.92 2161.25h16.67v4.17h-16.67zM2086.25 2161.25h16.67v4.17h-16.67zM2069.58 2177.92h16.67v4.17h-16.67zM2102.92 2177.92h4.17v4.17h-4.17zM2052.92 2194.58h16.67v4.17h-16.67zM2086.25 2194.58h16.67v4.17h-16.67zM2069.58 2211.25h16.67v4.17h-16.67zM2102.92 2211.25h4.17v4.17h-4.17zM2052.92 2227.92h16.67v4.17h-16.67zM2086.25 2227.92h16.67v4.17h-16.67zM2069.58 2244.58h16.67v4.17h-16.67zM2102.92 2244.58h4.17v4.17h-4.17zM2052.92 2261.25h16.67v4.17h-16.67zM2086.25 2261.25h16.67v4.17h-16.67zM2069.58 2277.92h16.67v4.17h-16.67zM2102.92 2277.92h4.17v4.17h-4.17zM369.58 1552.92h4.17v8.33h-4.17zM369.58 1577.92h4.17v4.17h-4.17zM386.25 1561.25h4.17v16.67h-4.17zM402.92 1552.92h4.17v8.33h-4.17zM402.92 1577.92h4.17v4.17h-4.17zM419.58 1561.25h4.17v16.67h-4.17zM436.25 1552.92h4.17v8.33h-4.17zM436.25 1577.92h4.17v4.17h-4.17zM452.92 1561.25h4.17v16.67h-4.17zM357.08 1665.42h8.33v4.17h-8.33zM386.25 1665.42h12.5v4.17h-12.5zM419.58 1665.42h12.5v4.17h-12.5zM452.92 1665.42h4.17v4.17h-4.17zM357.08 1669.58h12.5v4.17h-12.5zM390.42 1669.58h12.5v4.17h-12.5zM423.75 1669.58h12.5v4.17h-12.5zM361.25 1673.75h12.5v4.17h-12.5zM394.58 1673.75h12.5v4.17h-12.5zM427.92 1673.75h12.5v4.17h-12.5zM365.42 1677.92h12.5v4.17h-12.5zM398.75 1677.92h12.5v4.17h-12.5zM432.08 1677.92h12.5v4.17h-12.5zM369.58 1682.08h12.5v4.17h-12.5zM402.92 1682.08h12.5v4.17h-12.5zM436.25 1682.08h12.5v4.17h-12.5zM373.75 1686.25h12.5v4.17h-12.5zM407.08 1686.25h12.5v4.17h-12.5zM440.42 1686.25h12.5v4.17h-12.5zM377.92 1690.42h12.5v4.17h-12.5zM411.25 1690.42h12.5v4.17h-12.5zM444.58 1690.42h12.5v4.17h-12.5zM365.42 1777.92h4.17v4.17h-4.17zM398.75 1777.92h4.17v4.17h-4.17zM432.08 1777.92h4.17v4.17h-4.17zM361.25 1782.08h4.17v4.17h-4.17zM394.58 1782.08h4.17v4.17h-4.17zM427.92 1782.08h4.17v4.17h-4.17zM357.08 1786.25h4.17v4.17h-4.17zM390.42 1786.25h4.17v4.17h-4.17zM423.75 1786.25h4.17v4.17h-4.17zM386.25 1790.42h4.17v4.17h-4.17zM419.58 1790.42h4.17v4.17h-4.17zM452.92 1790.42h4.17v4.17h-4.17zM382.08 1794.58h8.33v4.17h-8.33zM415.42 1794.58h8.33v4.17h-8.33zM448.75 1794.58h8.33v4.17h-8.33zM357.08 1798.75h4.17v4.17h-4.17zM377.92 1798.75h4.17v4.17h-4.17zM390.42 1798.75h4.17v4.17h-4.17zM411.25 1798.75h4.17v4.17h-4.17zM423.75 1798.75h4.17v4.17h-4.17zM444.58 1798.75h4.17v4.17h-4.17zM361.25 1802.92h4.17v4.17h-4.17zM373.75 1802.92h4.17v4.17h-4.17zM394.58 1802.92h4.17v4.17h-4.17zM407.08 1802.92h4.17v4.17h-4.17zM427.92 1802.92h4.17v4.17h-4.17zM440.42 1802.92h4.17v4.17h-4.17zM357.08 1894.58h12.5v4.17h-12.5zM386.25 1894.58h16.67v4.17h-16.67zM419.58 1894.58h16.67v4.17h-16.67zM452.92 1894.58h4.17v4.17h-4.17zM369.58 1911.25h16.67v4.17h-16.67zM402.92 1911.25h16.67v4.17h-16.67zM436.25 1911.25h16.67v4.17h-16.67z"/>
<text y="1410.5" font-size="52.2" font-family='"Liberation Sans", sans-serif' fill="#111" stroke="#111" stroke-width="0.5"><tspan x="128.29" textLength="107.35" lengthAdjust="spacingAndGlyphs">0.60</tspan></text>
<text y="1560.5" font-size="52.2" font-family='"Liberation Sans", sans-serif' fill="#111" stroke="#111" stroke-width="0.5"><tspan x="128.29" textLength="107.35" lengthAdjust="spacingAndGlyphs">0.50</tspan></text>
<text y="1710.5" font-size="52.2" font-family='"Liberation Sans", sans-serif' fill="#111" stroke="#111" stroke-width="0.5"><tspan x="128.29" textLength="107.35" lengthAdjust="spacingAndGlyphs">0.40</tspan></text>
<text y="1860.5" font-size="52.2" font-family='"Liberation Sans", sans-serif' fill="#111" stroke="#111" stroke-width="0.5"><tspan x="128.29" textLength="107.35" lengthAdjust="spacingAndGlyphs">0.30</tspan></text>
<text y="2010.5" font-size="52.2" font-family='"Liberation Sans", sans-serif' fill="#111" stroke="#111" stroke-width="0.5"><tspan x="128.29" textLength="107.35" lengthAdjust="spacingAndGlyphs">0.20</tspan></text>
<text y="2160.5" font-size="52.2" font-family='"Liberation Sans", sans-serif' fill="#111" stroke="#111" stroke-width="0.5"><tspan x="128.29" textLength="107.35" lengthAdjust="spacingAndGlyphs">0.10</tspan></text>
<text y="2310.5" font-size="52.2" font-family='"Liberation Sans", sans-serif' fill="#111" stroke="#111" stroke-width="0.5"><tspan x="128.29" textLength="107.35" lengthAdjust="spacingAndGlyphs">0.00</tspan></text>
<text y="1602.3" font-size="52.2" font-family='"Liberation Sans", sans-serif' fill="#111" stroke="#111" stroke-width="0.7"><tspan x="469.44" textLength="85.54" lengthAdjust="spacingAndGlyphs">280</tspan><tspan x="557.6" textLength="60.99" lengthAdjust="spacingAndGlyphs" stroke-width="0.1" font-family='"Liberation Sans", "Noto Sans CJK SC", sans-serif' font-size="59.4">℃</tspan></text>
<text y="1715" font-size="52.2" font-family='"Liberation Sans", sans-serif' fill="#111" stroke="#111" stroke-width="0.7"><tspan x="470.09" textLength="84.87" lengthAdjust="spacingAndGlyphs">300</tspan><tspan x="557.6" textLength="60.99" lengthAdjust="spacingAndGlyphs" stroke-width="0.1" font-family='"Liberation Sans", "Noto Sans CJK SC", sans-serif' font-size="59.4">℃</tspan></text>
<text y="1827.5" font-size="52.2" font-family='"Liberation Sans", sans-serif' fill="#111" stroke="#111" stroke-width="0.7"><tspan x="470.09" textLength="84.87" lengthAdjust="spacingAndGlyphs">320</tspan><tspan x="557.6" textLength="60.99" lengthAdjust="spacingAndGlyphs" stroke-width="0.1" font-family='"Liberation Sans", "Noto Sans CJK SC", sans-serif' font-size="59.4">℃</tspan></text>
<text y="1940" font-size="52.2" font-family='"Liberation Sans", sans-serif' fill="#111" stroke="#111" stroke-width="0.7"><tspan x="470.09" textLength="84.87" lengthAdjust="spacingAndGlyphs">340</tspan><tspan x="557.6" textLength="60.99" lengthAdjust="spacingAndGlyphs" stroke-width="0.1" font-family='"Liberation Sans", "Noto Sans CJK SC", sans-serif' font-size="59.4">℃</tspan></text>
<text y="2390.3" font-size="52.2" font-family='"Liberation Sans", sans-serif' fill="#111" stroke="#111" stroke-width="0.2"><tspan x="409.26" textLength="99.61" lengthAdjust="spacingAndGlyphs" y="2390.3">STD</tspan> <tspan x="355.85" textLength="207.02" lengthAdjust="spacingAndGlyphs" y="2465">solution</tspan></text>
<text y="2390.3" font-size="52.2" font-family='"Liberation Sans", sans-serif' fill="#111" stroke="#111" stroke-width="0.2"><tspan x="622.27" textLength="162.43" lengthAdjust="spacingAndGlyphs">Brown</tspan> <tspan x="798.11" textLength="96.52" lengthAdjust="spacingAndGlyphs">rice</tspan></text>
<text y="2390.3" font-size="52.2" font-family='"Liberation Sans", sans-serif' fill="#111" stroke="#111" stroke-width="0.2"><tspan x="1012.84" textLength="113.1" lengthAdjust="spacingAndGlyphs">Rice</tspan></text>
<text y="2390.3" font-size="52.2" font-family='"Liberation Sans", sans-serif' fill="#111" stroke="#111" stroke-width="0.2"><tspan x="1299.71" textLength="166.73" lengthAdjust="spacingAndGlyphs">Wheat</tspan></text>
<text y="2390.3" font-size="52.2" font-family='"Liberation Sans", sans-serif' fill="#111" stroke="#111" stroke-width="0.2"><tspan x="1621.21" textLength="132.21" lengthAdjust="spacingAndGlyphs">Flour</tspan></text>
<text y="2390.3" font-size="52.2" font-family='"Liberation Sans", sans-serif' fill="#111" stroke="#111" stroke-width="0.2"><tspan x="1921.63" textLength="157.38" lengthAdjust="spacingAndGlyphs">Maize</tspan></text>
<text y="2531.7" font-size="52.2" font-family='"Liberation Sans", sans-serif' fill="#111" stroke="#111" stroke-width="0.2"><tspan x="1142.44" textLength="166.8" lengthAdjust="spacingAndGlyphs">Matrix</tspan></text>
<text y="2638.5" font-size="71.5" font-family='"Liberation Sans", sans-serif' fill="#111" stroke="#111" stroke-width="0.2"><tspan x="1160.71" textLength="25.51" lengthAdjust="spacingAndGlyphs" y="2638.5">(</tspan><tspan x="1187.01" textLength="46.97" lengthAdjust="spacingAndGlyphs" y="2644" font-size="78.5">b</tspan><tspan x="1235.93" textLength="25.38" lengthAdjust="spacingAndGlyphs" y="2638.5">)</tspan></text>
<text transform="translate(94.5 0) rotate(-90)" y="0" font-size="66.5" font-family='"Liberation Serif", serif' fill="#282828"><tspan x="-2042.86" textLength="71.48" lengthAdjust="spacingAndGlyphs">Pb</tspan> <tspan x="-1953.23" textLength="302.86" lengthAdjust="spacingAndGlyphs">Absorbance</tspan></text>
</g>
</svg></body></html>
